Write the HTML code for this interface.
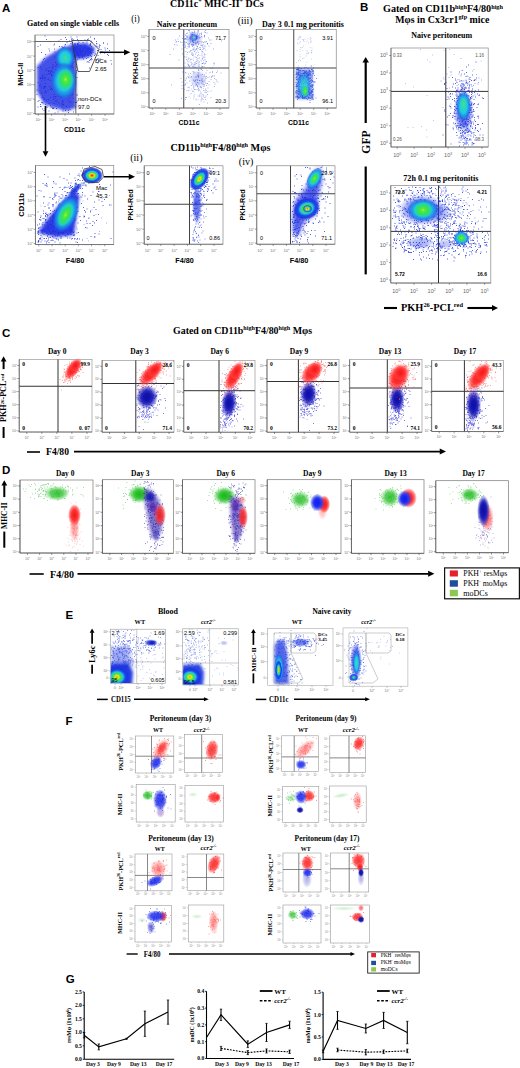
<!DOCTYPE html>
<html><head><meta charset="utf-8"><title>Figure</title>
<style>html,body{margin:0;padding:0;background:#fff;width:520px;height:1068px;overflow:hidden}svg{display:block}</style>
</head><body>
<svg width="520" height="1068" viewBox="0 0 520 1068">
<style>.sb,.sr,.sbi,.sri{font-family:'Liberation Serif',serif}.nb,.nr,.nbi,.nri{font-family:'Liberation Sans',sans-serif}.sb,.nb,.sbi,.nbi{font-weight:bold}.sbi,.sri,.nbi,.nri{font-style:italic}</style>
<defs><filter id="bl1" x="-50%" y="-50%" width="200%" height="200%"><feGaussianBlur stdDeviation="0.75"/></filter><filter id="bl2" x="-50%" y="-50%" width="200%" height="200%"><feGaussianBlur stdDeviation="1.5"/></filter><filter id="bl3" x="-50%" y="-50%" width="200%" height="200%"><feGaussianBlur stdDeviation="2.25"/></filter><filter id="bl4" x="-50%" y="-50%" width="200%" height="200%"><feGaussianBlur stdDeviation="3.0"/></filter><radialGradient id="g_red"><stop offset="0" stop-color="#e01808" stop-opacity="1"/><stop offset="0.1" stop-color="#ff6a10" stop-opacity="1"/><stop offset="0.22" stop-color="#f0e020" stop-opacity="1"/><stop offset="0.36" stop-color="#40e048" stop-opacity="1"/><stop offset="0.5" stop-color="#20c8e0" stop-opacity="1"/><stop offset="0.66" stop-color="#1a48e8" stop-opacity="1"/><stop offset="0.84" stop-color="#1a30e0" stop-opacity="0.8"/><stop offset="1" stop-color="#2a40e0" stop-opacity="0"/></radialGradient><radialGradient id="g_orange"><stop offset="0" stop-color="#ff9010" stop-opacity="1"/><stop offset="0.14" stop-color="#e0e820" stop-opacity="1"/><stop offset="0.3" stop-color="#40e048" stop-opacity="1"/><stop offset="0.46" stop-color="#20c8e0" stop-opacity="1"/><stop offset="0.64" stop-color="#1a48e8" stop-opacity="1"/><stop offset="0.84" stop-color="#1a30e0" stop-opacity="0.8"/><stop offset="1" stop-color="#2a40e0" stop-opacity="0"/></radialGradient><radialGradient id="g_yellow"><stop offset="0" stop-color="#c8f028" stop-opacity="1"/><stop offset="0.18" stop-color="#50e848" stop-opacity="1"/><stop offset="0.38" stop-color="#22cce0" stop-opacity="1"/><stop offset="0.6" stop-color="#1a48e8" stop-opacity="1"/><stop offset="0.82" stop-color="#1a30e0" stop-opacity="0.8"/><stop offset="1" stop-color="#2a40e0" stop-opacity="0"/></radialGradient><radialGradient id="g_green"><stop offset="0" stop-color="#38e040" stop-opacity="1"/><stop offset="0.22" stop-color="#22d0b0" stop-opacity="1"/><stop offset="0.45" stop-color="#1c70e8" stop-opacity="1"/><stop offset="0.7" stop-color="#1a34e0" stop-opacity="0.85"/><stop offset="1" stop-color="#2a40e0" stop-opacity="0"/></radialGradient><radialGradient id="g_cyan"><stop offset="0" stop-color="#20c8e8" stop-opacity="1"/><stop offset="0.3" stop-color="#1a80e8" stop-opacity="1"/><stop offset="0.6" stop-color="#1a38e0" stop-opacity="0.85"/><stop offset="1" stop-color="#2a40e0" stop-opacity="0"/></radialGradient><radialGradient id="g_blue"><stop offset="0" stop-color="#1a30e0" stop-opacity="0.95"/><stop offset="0.55" stop-color="#1a32e0" stop-opacity="0.8"/><stop offset="1" stop-color="#2a40e0" stop-opacity="0"/></radialGradient><radialGradient id="g_haze"><stop offset="0" stop-color="#2a48e0" stop-opacity="0.55"/><stop offset="0.6" stop-color="#4060e0" stop-opacity="0.3"/><stop offset="1" stop-color="#5070e8" stop-opacity="0"/></radialGradient><radialGradient id="g_R"><stop offset="0" stop-color="#f01818" stop-opacity="1"/><stop offset="0.5" stop-color="#ff2a2a" stop-opacity="0.95"/><stop offset="0.78" stop-color="#ff4040" stop-opacity="0.6"/><stop offset="1" stop-color="#ff6060" stop-opacity="0"/></radialGradient><radialGradient id="g_Rl"><stop offset="0" stop-color="#ff3030" stop-opacity="0.75"/><stop offset="0.5" stop-color="#ff4040" stop-opacity="0.55"/><stop offset="0.8" stop-color="#ff6060" stop-opacity="0.3"/><stop offset="1" stop-color="#ff8080" stop-opacity="0"/></radialGradient><radialGradient id="g_B"><stop offset="0" stop-color="#0c10a0" stop-opacity="1"/><stop offset="0.5" stop-color="#1414b0" stop-opacity="0.95"/><stop offset="0.78" stop-color="#2a2ac0" stop-opacity="0.55"/><stop offset="1" stop-color="#4040d0" stop-opacity="0"/></radialGradient><radialGradient id="g_Bl"><stop offset="0" stop-color="#2020c0" stop-opacity="0.8"/><stop offset="0.5" stop-color="#2828c8" stop-opacity="0.55"/><stop offset="0.8" stop-color="#4040d0" stop-opacity="0.3"/><stop offset="1" stop-color="#6060e0" stop-opacity="0"/></radialGradient><radialGradient id="g_G"><stop offset="0" stop-color="#18b818" stop-opacity="1"/><stop offset="0.5" stop-color="#30c030" stop-opacity="0.9"/><stop offset="0.78" stop-color="#50d050" stop-opacity="0.5"/><stop offset="1" stop-color="#70e070" stop-opacity="0"/></radialGradient><radialGradient id="g_Gl"><stop offset="0" stop-color="#50c850" stop-opacity="0.55"/><stop offset="0.5" stop-color="#60d060" stop-opacity="0.35"/><stop offset="1" stop-color="#90e090" stop-opacity="0"/></radialGradient><radialGradient id="g_Bv"><stop offset="0" stop-color="#1020e8" stop-opacity="1"/><stop offset="0.5" stop-color="#1828f0" stop-opacity="0.95"/><stop offset="0.78" stop-color="#3040f0" stop-opacity="0.55"/><stop offset="1" stop-color="#5060f0" stop-opacity="0"/></radialGradient><radialGradient id="g_cy2"><stop offset="0" stop-color="#30e0c0" stop-opacity="1"/><stop offset="0.5" stop-color="#20c8e0" stop-opacity="1"/><stop offset="0.8" stop-color="#1a80e8" stop-opacity="0.8"/><stop offset="1" stop-color="#1a50e8" stop-opacity="0"/></radialGradient><radialGradient id="g_gr2"><stop offset="0" stop-color="#b8f020" stop-opacity="1"/><stop offset="0.22" stop-color="#50e840" stop-opacity="1"/><stop offset="0.55" stop-color="#30e060" stop-opacity="1"/><stop offset="0.8" stop-color="#28d8a0" stop-opacity="0.7"/><stop offset="1" stop-color="#20c8e0" stop-opacity="0"/></radialGradient><radialGradient id="g_tl2"><stop offset="0" stop-color="#40e080" stop-opacity="1"/><stop offset="0.5" stop-color="#30d8b0" stop-opacity="0.9"/><stop offset="1" stop-color="#20c8e0" stop-opacity="0"/></radialGradient><radialGradient id="g_P"><stop offset="0" stop-color="#6018a0" stop-opacity="0.9"/><stop offset="0.5" stop-color="#5020b0" stop-opacity="0.8"/><stop offset="0.8" stop-color="#6030c0" stop-opacity="0.4"/><stop offset="1" stop-color="#8050d0" stop-opacity="0"/></radialGradient><clipPath id="c1"><rect x="110.9" y="629.7" width="54.2" height="53.3"/></clipPath><clipPath id="c2"><rect x="183.2" y="629.3" width="54.8" height="55.2"/></clipPath><clipPath id="c3"><rect x="268.2" y="629.0" width="64.3" height="56.1"/></clipPath><clipPath id="c4"><rect x="343.5" y="628.4" width="63.9" height="57.3"/></clipPath></defs>
<rect width="520" height="1068" fill="#fff"/>
<text x="2.0" y="11.5" font-size="11.5" class="nb">A</text>
<text x="73.0" y="26.0" font-size="7.5" class="sb" text-anchor="middle" textLength="92" lengthAdjust="spacingAndGlyphs">Gated on single viable cells</text>
<rect x="35.00" y="35.00" width="79.00" height="79.00" fill="none" stroke="#888" stroke-width="0.7"/>
<path d="M35.0,35.0V114.0H114.0M33.2,113.6h1.8M33.2,99.2h1.8M33.2,84.8h1.8M33.2,70.5h1.8M33.2,56.1h1.8M33.2,41.7h1.8M38.3,114.0v1.8M51.6,114.0v1.8M65.0,114.0v1.8M78.3,114.0v1.8M91.7,114.0v1.8M105.0,114.0v1.8" stroke="#555" stroke-width="0.6" fill="none"/>
<path d="M34.0,109.3h1M34.0,106.7h1M34.0,105.0h1M34.0,103.5h1M34.0,102.4h1M34.0,94.9h1M34.0,92.3h1M34.0,90.6h1M34.0,89.2h1M34.0,88.0h1M34.0,80.5h1M34.0,77.9h1M34.0,76.2h1M34.0,74.8h1M34.0,73.6h1M34.0,66.1h1M34.0,63.6h1M34.0,61.8h1M34.0,60.4h1M34.0,59.2h1M34.0,51.8h1M34.0,49.2h1M34.0,47.5h1M34.0,46.0h1M34.0,44.9h1M42.3,114.0v1M44.7,114.0v1M46.3,114.0v1M47.6,114.0v1M48.7,114.0v1M55.6,114.0v1M58.0,114.0v1M59.6,114.0v1M61.0,114.0v1M62.0,114.0v1M69.0,114.0v1M71.4,114.0v1M73.0,114.0v1M74.3,114.0v1M75.4,114.0v1M82.3,114.0v1M84.7,114.0v1M86.3,114.0v1M87.7,114.0v1M88.7,114.0v1M95.7,114.0v1M98.1,114.0v1M99.7,114.0v1M101.0,114.0v1M102.1,114.0v1" stroke="#999" stroke-width="0.4" fill="none"/>
<text x="32.6" y="115.0" font-size="4" class="nr" text-anchor="end" fill="#777">10<tspan dy="-1.52" font-size="2.48">0</tspan></text>
<text x="32.6" y="100.6" font-size="4" class="nr" text-anchor="end" fill="#777">10<tspan dy="-1.52" font-size="2.48">1</tspan></text>
<text x="32.6" y="86.2" font-size="4" class="nr" text-anchor="end" fill="#777">10<tspan dy="-1.52" font-size="2.48">2</tspan></text>
<text x="32.6" y="71.9" font-size="4" class="nr" text-anchor="end" fill="#777">10<tspan dy="-1.52" font-size="2.48">3</tspan></text>
<text x="32.6" y="57.5" font-size="4" class="nr" text-anchor="end" fill="#777">10<tspan dy="-1.52" font-size="2.48">4</tspan></text>
<text x="32.6" y="43.1" font-size="4" class="nr" text-anchor="end" fill="#777">10<tspan dy="-1.52" font-size="2.48">5</tspan></text>
<text x="38.3" y="121.3" font-size="4" class="nr" text-anchor="middle" fill="#777">10<tspan dy="-1.52" font-size="2.48">0</tspan></text>
<text x="51.6" y="121.3" font-size="4" class="nr" text-anchor="middle" fill="#777">10<tspan dy="-1.52" font-size="2.48">1</tspan></text>
<text x="65.0" y="121.3" font-size="4" class="nr" text-anchor="middle" fill="#777">10<tspan dy="-1.52" font-size="2.48">2</tspan></text>
<text x="78.3" y="121.3" font-size="4" class="nr" text-anchor="middle" fill="#777">10<tspan dy="-1.52" font-size="2.48">3</tspan></text>
<text x="91.7" y="121.3" font-size="4" class="nr" text-anchor="middle" fill="#777">10<tspan dy="-1.52" font-size="2.48">4</tspan></text>
<text x="105.0" y="121.3" font-size="4" class="nr" text-anchor="middle" fill="#777">10<tspan dy="-1.52" font-size="2.48">5</tspan></text>
<path d="M103 142h2M153 120h2M149 118h2M124 126h2M131 131h2M119 122h2M123 131h2M98 173h2M139 144h2M133 124h2M99 161h2M121 154h2M126 119h2M141 137h2M164 114h2M166 118h2M75 165h2M150 115h2M121 133h2M172 117h2M132 131h2M148 124h2M110 152h2M73 180h2M127 117h2M125 136h2M122 150h2M147 113h2M83 160h2M159 97h2M84 153h2M122 126h2M118 137h2M104 136h2M129 119h2M141 128h2M185 105h2M115 147h2M99 141h2M125 127h2M97 148h2M201 99h2M113 148h2M152 146h2M100 146h2M124 150h2M104 134h2M139 119h2M117 161h2M144 106h2M140 109h2M119 140h2M122 138h2M155 87h2M150 149h2M88 173h2M143 110h2M126 130h2M160 103h2M89 160h2M113 129h2M159 101h2M115 145h2M122 154h2M114 150h2M90 156h2M175 102h2M136 140h2M96 158h2M152 129h2M115 144h2M138 103h2M133 112h2M143 132h2M135 125h2M152 141h2M145 170h2M79 156h2M177 97h2M136 138h2M126 140h2M142 117h2M216 111h2M135 128h2M174 111h2M110 140h2M120 127h2M195 117h2M182 117h2M110 140h2M128 129h2M133 123h2M102 149h2M105 133h2M109 132h2M132 143h2M123 118h2M80 157h2M82 176h2M84 150h2M128 124h2M112 140h2M109 145h2M106 154h2M138 138h2M121 183h2M152 105h2M133 180h2M102 151h2M144 113h2M131 146h2M137 117h2M144 126h2M116 126h2M105 146h2M87 150h2M129 118h2M180 111h2M145 135h2M111 133h2M137 133h2M105 129h2M137 125h2M130 134h2M138 123h2M192 87h2M150 114h2" stroke="#2a3ee0" stroke-width="2" opacity="0.8" fill="none" transform="scale(.5)"/>
<path d="M83 186h2M132 176h2M141 133h2M104 179h2M153 190h2M81 186h2M125 218h2M126 162h2M141 163h2M80 209h2M80 213h2M107 194h2M104 217h2M90 173h2M75 93h2M113 165h2M119 128h2M127 113h2M106 194h2M131 173h2M79 181h2M140 180h2M102 143h2M83 156h2M117 206h2M87 175h2M92 184h2M113 200h2M100 195h2M106 217h2M122 132h2M83 205h2M135 200h2M131 179h2M133 159h2M101 214h2M75 203h2M119 174h2M150 154h2M112 179h2M140 179h2M124 201h2M90 109h2M100 144h2M125 210h2M88 117h2M120 194h2M88 198h2M109 175h2M149 151h2M107 216h2M107 189h2M84 192h2M92 79h2M111 193h2M84 218h2M108 150h2M144 110h2M88 174h2M144 179h2M129 152h2M89 176h2M89 72h2M125 222h2M117 193h2M141 204h2M144 169h2M114 168h2M103 137h2M83 205h2M113 183h2M97 222h2M131 177h2M137 178h2M138 139h2M147 204h2M115 224h2M120 174h2M116 167h2M124 186h2M139 168h2M132 79h2M90 209h2M93 212h2M120 178h2M87 199h2M135 171h2M146 111h2M93 149h2M89 217h2M119 162h2M109 197h2M153 202h2M106 199h2M139 219h2M113 128h2M84 124h2M130 89h2M107 158h2M135 150h2M85 155h2M117 148h2M105 215h2M89 154h2M87 173h2M144 120h2M129 182h2M138 196h2M124 204h2M147 167h2M146 147h2M129 176h2M80 134h2M109 226h2M122 208h2M104 151h2M143 190h2M108 151h2M97 207h2M137 126h2M125 192h2M105 162h2M83 195h2M81 213h2M92 200h2M115 148h2M90 182h2M80 90h2M146 224h2M75 214h2M123 214h2M136 221h2M113 204h2M100 179h2M148 166h2M127 157h2M124 149h2M128 156h2M79 168h2M126 209h2M121 79h2M152 205h2M115 167h2M126 162h2M83 138h2M97 147h2M73 189h2M86 177h2M135 100h2M89 183h2M95 180h2M130 221h2M138 214h2M102 177h2M106 163h2M123 98h2M101 176h2M78 172h2M132 176h2M123 93h2M133 170h2M154 79h2M138 204h2M119 153h2M139 162h2M125 158h2M112 217h2M81 172h2M132 191h2M99 83h2M136 225h2M97 142h2M152 144h2M95 141h2M128 147h2M89 186h2M115 165h2M130 150h2M75 135h2M111 182h2M130 190h2M91 141h2M124 208h2M109 171h2M145 188h2M132 213h2M95 159h2M92 137h2M107 207h2M85 196h2M85 157h2M97 135h2M150 205h2M86 195h2M132 174h2M126 155h2M93 215h2M139 110h2M122 127h2M121 128h2M110 202h2M110 193h2M107 90h2M113 143h2M80 156h2M134 127h2M138 178h2M118 175h2M103 214h2M120 138h2M141 156h2M86 119h2M108 88h2M88 157h2M115 190h2M96 199h2M122 185h2M108 114h2M109 104h2M150 214h2M126 204h2M117 190h2M82 105h2M98 147h2M122 195h2M120 148h2M87 221h2M138 190h2M85 206h2M152 134h2M146 197h2M90 167h2M125 167h2M127 156h2M136 185h2M153 190h2M100 211h2M110 125h2M108 98h2M96 143h2M77 201h2M126 170h2M120 174h2M112 217h2M153 155h2" stroke="#2a3ee0" stroke-width="2" opacity="0.8" fill="none" transform="scale(.5)"/>
<path d="M125 95h2M169 80h2M155 110h2M196 122h2M146 80h2M182 113h2M173 82h2M188 111h2M182 93h2M176 111h2M153 74h2M177 107h2M168 112h2M153 99h2M160 108h2M209 96h2M221 121h2M189 108h2M214 97h2M165 85h2M180 119h2M182 106h2M163 102h2M131 115h2M157 85h2M148 88h2M190 115h2M133 113h2M191 92h2M129 90h2M152 105h2M174 79h2M192 83h2M150 88h2M154 118h2M190 108h2M176 78h2M154 92h2M143 107h2M149 90h2M183 119h2M173 86h2M98 102h2M200 104h2M192 121h2M197 94h2M195 111h2M128 94h2M131 98h2M183 85h2M115 118h2M178 121h2M134 115h2M222 128h2M163 104h2M164 114h2M195 101h2M133 110h2M156 109h2M175 123h2M198 94h2M177 125h2M154 106h2M199 118h2M181 82h2M135 103h2M178 136h2M146 116h2M188 77h2M147 102h2M155 98h2M180 89h2M180 91h2M154 108h2M153 104h2M210 100h2M164 110h2M158 115h2M135 109h2M155 89h2M214 88h2M214 109h2M206 86h2M199 120h2M165 98h2M157 91h2M180 105h2M173 124h2M159 107h2M206 86h2M195 126h2M133 85h2M141 74h2M180 74h2M181 120h2M126 96h2M118 111h2M149 96h2M169 108h2M159 100h2M154 102h2M138 101h2M118 93h2M218 101h2M135 104h2M143 77h2M149 110h2M178 99h2M144 85h2M203 103h2M132 135h2M138 99h2M173 98h2M161 81h2M141 124h2M148 112h2M124 96h2M175 115h2M139 108h2M178 90h2M180 87h2M147 100h2M97 98h2M142 80h2M157 111h2M157 118h2M138 82h2M208 106h2M193 88h2M189 104h2M185 100h2M199 91h2M143 79h2M198 90h2M141 87h2M156 82h2M160 91h2M154 87h2M169 94h2M171 103h2M154 89h2M188 78h2M149 96h2M159 114h2M156 114h2M130 75h2M200 106h2M181 102h2M181 83h2M193 93h2M194 101h2M117 82h2M197 98h2M158 103h2M157 92h2" stroke="#2a3ee0" stroke-width="2" opacity="0.8" fill="none" transform="scale(.5)"/>
<path d="M37.0,66.0 L46.0,57.0 L58.0,50.0 L72.0,44.5 L76.0,46.0 L76.0,108.0 L66.0,111.0 L55.0,108.0 L44.0,104.0 L37.0,92.0 Z" fill="#1428e0" opacity="0.8" filter="url(#bl2)"/>
<path d="M72.0,44.0 L86.0,43.0 L95.0,48.0 L92.0,56.0 L82.0,59.0 L74.0,58.0 Z" fill="#1428e0" opacity="0.9" filter="url(#bl2)"/>
<ellipse cx="65.00" cy="58.00" rx="10.00" ry="12.00" fill="url(#g_cy2)"/>
<ellipse cx="64.00" cy="81.00" rx="13.50" ry="19.00" fill="url(#g_cy2)"/>
<ellipse cx="65.50" cy="58.00" rx="3.50" ry="4.50" fill="url(#g_tl2)"/>
<ellipse cx="65.50" cy="79.50" rx="8.50" ry="11.50" fill="url(#g_gr2)"/>
<line x1="35.00" y1="41.50" x2="72.00" y2="41.50" stroke="#444" stroke-width="0.8"/>
<path d="M72.00,40.50 L90.00,40.50 L99.00,49.50 L89.50,71.50 L78.00,71.50 L75.00,57.00 L72.00,40.50 Z" fill="none" stroke="#333" stroke-width="0.8"/>
<line x1="75.80" y1="59.00" x2="75.80" y2="113.50" stroke="#444" stroke-width="0.8"/>
<text x="95.0" y="62.5" font-size="6" class="nr">DCs</text>
<text x="95.0" y="71.0" font-size="6" class="nr">2.65</text>
<text x="78.0" y="101.0" font-size="6" class="nr">non-DCs</text>
<text x="78.0" y="109.0" font-size="6" class="nr">97.0</text>
<text x="23.2" y="74.3" font-size="7.5" class="nb" text-anchor="middle" textLength="23" lengthAdjust="spacingAndGlyphs" transform="rotate(-90 23.2 74.3)">MHC-II</text>
<text x="74.5" y="132.0" font-size="7.5" class="nb" text-anchor="middle" textLength="21" lengthAdjust="spacingAndGlyphs">CD11c</text>
<line x1="99.50" y1="52.30" x2="124.55" y2="52.30" stroke="#000" stroke-width="1.5"/>
<path d="M130.30,52.30 L124.05,55.18 L124.05,49.42 Z" fill="#000"/>
<line x1="45.50" y1="106.00" x2="45.50" y2="151.80" stroke="#000" stroke-width="1.6"/>
<path d="M45.50,156.80 L42.62,151.30 L48.38,151.30 Z" fill="#000"/>
<rect x="35.50" y="165.50" width="78.25" height="79.00" fill="none" stroke="#888" stroke-width="0.7"/>
<path d="M35.5,165.5V244.5H113.8M33.7,243.5h1.8M33.7,229.3h1.8M33.7,215.1h1.8M33.7,200.9h1.8M33.7,186.7h1.8M33.7,172.5h1.8M38.8,244.5v1.8M52.0,244.5v1.8M65.2,244.5v1.8M78.4,244.5v1.8M91.6,244.5v1.8M104.8,244.5v1.8" stroke="#555" stroke-width="0.6" fill="none"/>
<path d="M34.5,239.2h1M34.5,236.7h1M34.5,235.0h1M34.5,233.6h1M34.5,232.4h1M34.5,225.0h1M34.5,222.5h1M34.5,220.8h1M34.5,219.4h1M34.5,218.2h1M34.5,210.8h1M34.5,208.3h1M34.5,206.6h1M34.5,205.2h1M34.5,204.0h1M34.5,196.6h1M34.5,194.1h1M34.5,192.4h1M34.5,191.0h1M34.5,189.8h1M34.5,182.4h1M34.5,179.9h1M34.5,178.2h1M34.5,176.8h1M34.5,175.6h1M42.8,244.5v1M45.1,244.5v1M46.7,244.5v1M48.0,244.5v1M49.1,244.5v1M55.9,244.5v1M58.3,244.5v1M59.9,244.5v1M61.2,244.5v1M62.3,244.5v1M69.1,244.5v1M71.5,244.5v1M73.1,244.5v1M74.4,244.5v1M75.5,244.5v1M82.3,244.5v1M84.7,244.5v1M86.3,244.5v1M87.6,244.5v1M88.7,244.5v1M95.5,244.5v1M97.9,244.5v1M99.5,244.5v1M100.8,244.5v1M101.8,244.5v1" stroke="#999" stroke-width="0.4" fill="none"/>
<text x="33.1" y="244.9" font-size="4" class="nr" text-anchor="end" fill="#777">10<tspan dy="-1.52" font-size="2.48">0</tspan></text>
<text x="33.1" y="230.7" font-size="4" class="nr" text-anchor="end" fill="#777">10<tspan dy="-1.52" font-size="2.48">1</tspan></text>
<text x="33.1" y="216.5" font-size="4" class="nr" text-anchor="end" fill="#777">10<tspan dy="-1.52" font-size="2.48">2</tspan></text>
<text x="33.1" y="202.3" font-size="4" class="nr" text-anchor="end" fill="#777">10<tspan dy="-1.52" font-size="2.48">3</tspan></text>
<text x="33.1" y="188.1" font-size="4" class="nr" text-anchor="end" fill="#777">10<tspan dy="-1.52" font-size="2.48">4</tspan></text>
<text x="33.1" y="173.9" font-size="4" class="nr" text-anchor="end" fill="#777">10<tspan dy="-1.52" font-size="2.48">5</tspan></text>
<text x="38.8" y="251.8" font-size="4" class="nr" text-anchor="middle" fill="#777">10<tspan dy="-1.52" font-size="2.48">0</tspan></text>
<text x="52.0" y="251.8" font-size="4" class="nr" text-anchor="middle" fill="#777">10<tspan dy="-1.52" font-size="2.48">1</tspan></text>
<text x="65.2" y="251.8" font-size="4" class="nr" text-anchor="middle" fill="#777">10<tspan dy="-1.52" font-size="2.48">2</tspan></text>
<text x="78.4" y="251.8" font-size="4" class="nr" text-anchor="middle" fill="#777">10<tspan dy="-1.52" font-size="2.48">3</tspan></text>
<text x="91.6" y="251.8" font-size="4" class="nr" text-anchor="middle" fill="#777">10<tspan dy="-1.52" font-size="2.48">4</tspan></text>
<text x="104.8" y="251.8" font-size="4" class="nr" text-anchor="middle" fill="#777">10<tspan dy="-1.52" font-size="2.48">5</tspan></text>
<path d="M123 439h2M164 385h2M221 410h2M197 400h2M124 438h2M93 429h2M97 428h2M181 391h2M104 433h2M111 438h2M164 390h2M111 426h2M192 441h2M106 454h2M187 431h2M74 450h2M151 366h2M84 461h2M220 370h2M167 366h2M81 454h2M105 413h2M140 411h2M92 367h2M185 384h2M91 371h2M85 459h2M111 368h2M118 456h2M173 456h2M129 409h2M99 468h2M158 478h2M97 406h2M188 404h2M100 421h2M123 389h2M139 444h2M173 447h2M128 439h2M145 404h2M173 418h2M105 423h2M79 456h2M109 447h2M225 344h2M117 393h2M86 459h2M95 410h2M151 368h2M88 349h2M123 446h2M138 446h2M129 433h2M120 424h2M76 457h2M218 410h2M148 470h2M78 439h2M104 465h2M125 444h2M139 462h2M138 348h2M114 428h2M87 393h2M137 425h2M85 437h2M152 426h2M129 452h2M99 464h2M132 451h2M110 439h2M95 431h2M198 369h2M189 474h2M119 354h2M159 433h2M208 399h2M109 386h2M96 478h2M105 399h2M94 445h2M127 445h2M75 424h2M196 429h2M139 466h2M147 438h2M111 406h2M160 441h2M197 383h2M90 439h2M94 472h2M132 456h2M186 356h2M149 426h2M119 425h2M91 426h2M121 433h2M104 410h2M118 440h2M107 395h2M155 446h2M125 410h2M95 453h2M179 447h2M94 432h2M133 431h2M130 458h2M99 395h2M129 444h2M86 422h2M106 435h2M105 409h2M106 363h2M111 447h2M130 391h2M118 408h2M184 451h2M115 464h2M154 396h2M180 422h2M93 370h2M194 387h2M142 392h2M76 483h2M109 446h2M134 411h2M133 442h2M164 480h2M132 426h2M93 434h2M161 394h2M100 435h2M119 375h2M135 425h2M81 484h2M126 454h2M110 463h2M167 434h2M100 427h2M95 354h2M109 484h2M109 393h2M97 415h2M141 458h2M85 367h2M93 373h2M162 407h2M170 344h2M143 463h2M78 448h2M103 452h2M135 422h2M160 370h2M142 380h2M89 370h2M118 429h2M85 445h2M87 437h2M85 449h2M80 476h2M134 406h2M170 424h2M143 390h2M141 469h2M96 458h2M137 434h2M133 472h2M129 462h2M166 415h2M108 388h2M170 455h2M125 465h2M153 458h2M147 407h2M116 410h2M130 439h2M119 396h2M154 415h2M145 430h2M154 373h2M151 438h2M104 397h2M89 413h2M87 394h2M123 418h2M116 436h2M86 406h2M75 464h2M77 381h2M77 455h2M92 486h2M90 427h2M111 477h2M81 382h2M83 480h2M147 444h2M168 433h2M99 449h2M129 402h2M107 366h2M132 412h2M126 429h2M141 366h2M76 481h2M80 435h2M155 423h2M144 393h2M144 406h2M149 441h2M167 366h2M100 457h2M129 375h2M123 396h2M148 438h2M77 482h2M139 444h2M104 442h2M143 409h2M109 389h2M91 439h2M149 477h2M76 464h2M140 433h2M105 429h2M141 430h2M122 436h2M97 417h2M86 427h2M146 441h2M203 403h2M79 460h2M95 481h2M196 383h2M124 447h2M149 356h2M106 410h2M143 460h2M94 430h2M133 453h2M117 466h2M137 407h2M97 453h2M81 471h2M112 456h2M191 419h2M118 470h2M145 446h2M124 445h2M81 440h2M177 436h2M148 425h2M112 420h2M108 421h2M197 468h2M93 466h2M104 462h2M90 431h2M129 383h2M115 471h2M88 450h2M117 419h2M75 484h2M154 485h2M82 461h2M113 458h2M188 446h2M168 421h2M122 452h2M125 464h2M180 424h2M136 469h2M136 366h2M127 357h2M148 433h2M169 392h2M80 440h2M90 433h2M112 404h2M91 446h2M205 411h2M126 431h2M141 440h2M130 472h2M147 414h2M91 444h2M109 391h2M92 429h2M116 442h2M104 375h2M121 449h2M113 386h2M144 418h2M187 415h2M189 467h2M105 431h2M81 432h2M124 452h2M138 396h2M142 375h2M174 398h2M125 418h2M109 433h2M146 471h2M152 383h2M88 462h2M152 415h2M108 469h2M123 458h2M137 454h2M80 477h2M133 401h2M167 432h2M172 442h2M73 392h2M149 429h2M116 467h2" stroke="#2a3ee0" stroke-width="2" opacity="0.8" fill="none" transform="scale(.5)"/>
<path d="M168 360h2M171 372h2M144 382h2M149 388h2M148 382h2M155 370h2M182 341h2M182 352h2M174 347h2M173 360h2M143 385h2M149 374h2M171 344h2M111 391h2M140 376h2M156 375h2M185 343h2M156 359h2M171 370h2M164 336h2M178 366h2M157 348h2M150 381h2M154 360h2M142 394h2M137 404h2M154 373h2M125 392h2M155 351h2M131 394h2M165 368h2M144 377h2M144 373h2M112 423h2M157 369h2M142 385h2M151 372h2M161 342h2M150 361h2M156 387h2M132 391h2M147 388h2M124 379h2M159 361h2M153 384h2M134 385h2M157 372h2M149 387h2M175 345h2M152 368h2M133 375h2M153 387h2M170 350h2M138 377h2M142 404h2M164 361h2M137 374h2M180 354h2M141 395h2M136 395h2M133 386h2M163 366h2M165 349h2M188 352h2M155 375h2M137 385h2M129 396h2M164 377h2M174 360h2M144 377h2M147 379h2M123 411h2M121 397h2M149 368h2M181 342h2M187 351h2M146 383h2M173 347h2M150 367h2M151 369h2M160 377h2M177 348h2M161 374h2M140 371h2M166 347h2M163 350h2M178 333h2M176 366h2M144 398h2M127 376h2M169 364h2M133 360h2M149 371h2M144 377h2M117 400h2M193 350h2M141 374h2M165 371h2M158 352h2M156 370h2M185 354h2M169 370h2M154 388h2M147 382h2M163 350h2M129 374h2M155 369h2" stroke="#2a3ee0" stroke-width="2" opacity="0.8" fill="none" transform="scale(.5)"/>
<path d="M167 449h2M99 429h2M183 420h2M163 394h2M157 434h2M203 397h2M218 391h2M212 446h2M170 424h2M198 463h2M129 441h2M152 454h2M176 437h2M202 436h2M165 402h2M173 477h2M176 482h2M81 412h2M191 429h2M116 404h2" stroke="#2a3ee0" stroke-width="2" opacity="0.4" fill="none" transform="scale(.5)"/>
<path d="M79 479h2M123 449h2M156 465h2M97 458h2M75 464h2M134 476h2M101 481h2M87 477h2M181 473h2M107 476h2M89 482h2M93 457h2M134 468h2M147 464h2M122 476h2M142 478h2M126 466h2M100 475h2M116 480h2M92 464h2M78 477h2M84 466h2M90 441h2M87 469h2M130 449h2M88 477h2M119 486h2M141 460h2M124 468h2M76 462h2M84 462h2M139 476h2M154 477h2M76 484h2M75 467h2M94 472h2M146 465h2M114 472h2M92 477h2M112 478h2M102 467h2M116 460h2M98 463h2M84 452h2M106 462h2M116 439h2M104 473h2M106 461h2M129 471h2M101 467h2M121 473h2M144 477h2M76 469h2M135 468h2M115 478h2M93 445h2M105 474h2M105 463h2M147 470h2M76 464h2M114 459h2M151 484h2M153 479h2M148 478h2M153 466h2M105 481h2M97 485h2M103 480h2M103 455h2M121 465h2M101 450h2M93 483h2M117 466h2M185 443h2M97 475h2M188 474h2M120 476h2M93 467h2M83 448h2M110 472h2M96 469h2M83 474h2M221 477h2" stroke="#2a3ee0" stroke-width="2" opacity="0.8" fill="none" transform="scale(.5)"/>
<path d="M38.0,233.0 L46.0,221.0 L58.0,206.0 L68.0,196.0 L75.0,191.5 L79.5,196.0 L77.0,212.0 L74.0,235.0 L56.0,237.0 Z" fill="#1428e0" opacity="0.9" filter="url(#bl2)"/>
<ellipse cx="75.00" cy="190.00" rx="10.00" ry="3.50" fill="url(#g_blue)" transform="rotate(-45 75.00 190.00)"/>
<ellipse cx="66.00" cy="214.00" rx="11.50" ry="20.00" fill="url(#g_cy2)" transform="rotate(25 66.00 214.00)"/>
<ellipse cx="65.50" cy="215.00" rx="6.50" ry="13.00" fill="url(#g_gr2)" transform="rotate(25 65.50 215.00)"/>
<ellipse cx="92.00" cy="175.50" rx="11.00" ry="8.50" fill="url(#g_red)"/>
<path d="M84.00,169.00 L95.00,166.50 L102.00,169.50 L103.50,177.00 L98.50,182.50 L86.00,182.00 L82.00,176.00 Z" fill="none" stroke="#222" stroke-width="0.7"/>
<text x="96.0" y="190.0" font-size="6" class="nr">Mac</text>
<text x="96.0" y="198.0" font-size="6" class="nr">45.3</text>
<text x="23.5" y="205.0" font-size="7.5" class="nb" text-anchor="middle" textLength="23.5" lengthAdjust="spacingAndGlyphs" transform="rotate(-90 23.5 205.0)">CD11b</text>
<text x="75.0" y="263.0" font-size="7.5" class="nb" text-anchor="middle" textLength="18.5" lengthAdjust="spacingAndGlyphs">F4/80</text>
<line x1="104.00" y1="176.75" x2="129.25" y2="176.75" stroke="#000" stroke-width="1.5"/>
<path d="M135.00,176.75 L128.75,179.63 L128.75,173.87 Z" fill="#000"/>
<text x="170.1" y="7.0" font-size="9.8" class="sb" textLength="93.6" lengthAdjust="spacingAndGlyphs">CD11c<tspan dy="-3.72" font-size="6.08">+</tspan><tspan dy="3.72"> MHC-II</tspan><tspan dy="-3.72" font-size="6.08">+</tspan><tspan dy="3.72"> DCs</tspan></text>
<text x="170.4" y="150.7" font-size="9.5" class="sb" textLength="100" lengthAdjust="spacingAndGlyphs">CD11b<tspan dy="-3.61" font-size="5.89">high</tspan><tspan dy="3.61">F4/80</tspan><tspan dy="-3.61" font-size="5.89">high</tspan><tspan dy="3.61"> Mφs</tspan></text>
<text x="131.3" y="22.3" font-size="10" class="sr" textLength="8.5" lengthAdjust="spacingAndGlyphs">(i)</text>
<text x="186.9" y="26.5" font-size="7.5" class="sb" text-anchor="middle" textLength="60.3" lengthAdjust="spacingAndGlyphs">Naive peritoneum</text>
<rect x="149.00" y="29.50" width="80.00" height="78.50" fill="none" stroke="#888" stroke-width="0.7"/>
<line x1="183.75" y1="29.50" x2="183.75" y2="108.00" stroke="#444" stroke-width="1"/>
<line x1="149.00" y1="68.00" x2="229.00" y2="68.00" stroke="#444" stroke-width="1"/>
<path d="M149.0,29.5V108.0H229.0M147.2,107.0h1.8M147.2,92.9h1.8M147.2,78.8h1.8M147.2,64.7h1.8M147.2,50.6h1.8M147.2,36.5h1.8M152.3,108.0v1.8M165.8,108.0v1.8M179.4,108.0v1.8M192.9,108.0v1.8M206.5,108.0v1.8M220.0,108.0v1.8" stroke="#555" stroke-width="0.6" fill="none"/>
<path d="M148.0,102.8h1M148.0,100.2h1M148.0,98.5h1M148.0,97.1h1M148.0,96.0h1M148.0,88.7h1M148.0,86.1h1M148.0,84.4h1M148.0,83.0h1M148.0,81.9h1M148.0,74.6h1M148.0,72.0h1M148.0,70.3h1M148.0,68.9h1M148.0,67.8h1M148.0,60.5h1M148.0,57.9h1M148.0,56.2h1M148.0,54.8h1M148.0,53.7h1M148.0,46.4h1M148.0,43.8h1M148.0,42.1h1M148.0,40.7h1M148.0,39.6h1M156.4,108.0v1M158.8,108.0v1M160.4,108.0v1M161.8,108.0v1M162.9,108.0v1M169.9,108.0v1M172.3,108.0v1M174.0,108.0v1M175.3,108.0v1M176.4,108.0v1M183.4,108.0v1M185.9,108.0v1M187.5,108.0v1M188.9,108.0v1M189.9,108.0v1M197.0,108.0v1M199.4,108.0v1M201.0,108.0v1M202.4,108.0v1M203.5,108.0v1M210.5,108.0v1M213.0,108.0v1M214.6,108.0v1M215.9,108.0v1M217.0,108.0v1" stroke="#999" stroke-width="0.4" fill="none"/>
<text x="146.6" y="108.4" font-size="4" class="nr" text-anchor="end" fill="#777">10<tspan dy="-1.52" font-size="2.48">0</tspan></text>
<text x="146.6" y="94.3" font-size="4" class="nr" text-anchor="end" fill="#777">10<tspan dy="-1.52" font-size="2.48">1</tspan></text>
<text x="146.6" y="80.2" font-size="4" class="nr" text-anchor="end" fill="#777">10<tspan dy="-1.52" font-size="2.48">2</tspan></text>
<text x="146.6" y="66.1" font-size="4" class="nr" text-anchor="end" fill="#777">10<tspan dy="-1.52" font-size="2.48">3</tspan></text>
<text x="146.6" y="52.0" font-size="4" class="nr" text-anchor="end" fill="#777">10<tspan dy="-1.52" font-size="2.48">4</tspan></text>
<text x="146.6" y="37.9" font-size="4" class="nr" text-anchor="end" fill="#777">10<tspan dy="-1.52" font-size="2.48">5</tspan></text>
<text x="152.3" y="115.3" font-size="4" class="nr" text-anchor="middle" fill="#777">10<tspan dy="-1.52" font-size="2.48">0</tspan></text>
<text x="165.8" y="115.3" font-size="4" class="nr" text-anchor="middle" fill="#777">10<tspan dy="-1.52" font-size="2.48">1</tspan></text>
<text x="179.4" y="115.3" font-size="4" class="nr" text-anchor="middle" fill="#777">10<tspan dy="-1.52" font-size="2.48">2</tspan></text>
<text x="192.9" y="115.3" font-size="4" class="nr" text-anchor="middle" fill="#777">10<tspan dy="-1.52" font-size="2.48">3</tspan></text>
<text x="206.5" y="115.3" font-size="4" class="nr" text-anchor="middle" fill="#777">10<tspan dy="-1.52" font-size="2.48">4</tspan></text>
<text x="220.0" y="115.3" font-size="4" class="nr" text-anchor="middle" fill="#777">10<tspan dy="-1.52" font-size="2.48">5</tspan></text>
<path d="M403 91h2M401 91h2M400 99h2M406 98h2M379 80h2M375 93h2M403 74h2M398 116h2M410 65h2M386 89h2M387 85h2M409 84h2M369 90h2M386 82h2M378 61h2M366 75h2M408 64h2M375 87h2M346 98h2M375 89h2M380 84h2M390 80h2M387 99h2M378 87h2M391 87h2M393 78h2M383 68h2M374 66h2M369 114h2M418 80h2M401 67h2M390 100h2M387 66h2M384 66h2M364 77h2M381 69h2M372 67h2M392 99h2M384 111h2M360 84h2M368 78h2M390 88h2M408 72h2M366 77h2M393 70h2M404 103h2M363 85h2M392 77h2M363 98h2M392 73h2M396 89h2M401 88h2M395 64h2M381 82h2M339 109h2M381 66h2M356 83h2M389 72h2M381 68h2M375 79h2M377 89h2M385 82h2M395 97h2M399 83h2M385 69h2M382 89h2M392 75h2M394 94h2M395 61h2M384 83h2M372 85h2M384 69h2M366 91h2M394 68h2M370 92h2M398 76h2M416 76h2M369 95h2M385 85h2M389 66h2M367 77h2M413 66h2M412 83h2M369 84h2M398 68h2M351 85h2M369 86h2M355 78h2M384 82h2M378 64h2M397 87h2M417 92h2M394 84h2M388 62h2M414 87h2M383 64h2M414 87h2M367 89h2M421 80h2M395 74h2M377 95h2M442 82h2M386 91h2M383 90h2M402 66h2M369 79h2M403 84h2M410 61h2M397 72h2M390 84h2M371 77h2M368 84h2M373 73h2M392 71h2M408 71h2M403 84h2M370 77h2M373 75h2M383 105h2M381 101h2M396 62h2M348 89h2M353 90h2M406 85h2M384 77h2M393 76h2M379 75h2M408 72h2M395 64h2M376 61h2M385 89h2M393 73h2M399 75h2M394 84h2M365 90h2M386 110h2M384 73h2M414 88h2M421 87h2M384 90h2M374 74h2M378 77h2M402 73h2M394 73h2M384 82h2M369 94h2M392 97h2M405 89h2M385 65h2M384 74h2M392 74h2M408 74h2M384 93h2M388 64h2M395 77h2M352 83h2M370 70h2M396 84h2M383 109h2M395 72h2M392 78h2M364 108h2M385 76h2M378 93h2M388 103h2M402 102h2M386 85h2M380 78h2M358 72h2M371 71h2M409 84h2M409 92h2M404 94h2M377 91h2M382 73h2M409 109h2M371 103h2M402 69h2M393 85h2M395 75h2M366 80h2M403 91h2M399 95h2M371 79h2M394 93h2M391 87h2M390 108h2M350 80h2" stroke="#5068e0" stroke-width="2" opacity="0.55" fill="none" transform="scale(.5)"/>
<path d="M373 134h2M391 127h2M394 122h2M381 125h2M378 104h2M373 109h2M392 105h2M406 96h2M394 102h2M395 126h2M399 95h2M381 118h2M409 94h2M395 122h2M403 107h2M403 112h2M407 92h2M408 110h2M387 96h2M381 124h2M398 99h2M385 98h2M380 102h2M385 135h2M410 127h2M390 114h2M402 132h2M401 120h2M380 120h2M404 127h2M376 124h2M385 99h2M409 122h2M400 98h2M403 133h2M406 125h2M404 127h2M394 111h2M403 127h2M405 105h2M409 115h2M408 97h2M409 127h2M382 129h2M381 101h2M389 102h2M391 132h2M398 123h2M387 126h2M402 122h2M408 128h2M387 96h2M397 129h2M385 118h2M404 127h2M372 114h2M373 97h2M403 110h2M395 112h2M385 101h2M385 129h2M396 105h2M375 104h2M399 111h2M397 128h2M377 122h2M374 128h2M379 104h2M408 108h2M381 131h2M395 131h2M387 114h2M408 114h2M410 100h2M404 99h2M392 92h2M379 134h2M389 128h2M382 108h2M376 116h2M405 115h2M386 133h2M406 121h2M375 119h2M389 134h2M386 121h2M396 109h2M392 122h2M406 114h2M386 135h2" stroke="#7080e0" stroke-width="2" opacity="0.45" fill="none" transform="scale(.5)"/>
<path d="M428 173h2M387 132h2M368 170h2M419 136h2M396 152h2M392 169h2M432 145h2M411 181h2M391 155h2M373 181h2M387 144h2M397 140h2M378 152h2M422 154h2M405 127h2M362 197h2M389 125h2M394 171h2M366 139h2M401 138h2M410 178h2M404 149h2M395 145h2M394 165h2M391 179h2M441 146h2M402 175h2M407 153h2M388 179h2M407 169h2M382 171h2M410 154h2M407 204h2M363 171h2M376 129h2M392 170h2M397 133h2M371 146h2M396 140h2M370 195h2M381 155h2M386 146h2M397 152h2M407 133h2M370 199h2M395 174h2M417 170h2M397 125h2M368 179h2M408 170h2M367 113h2M378 133h2M399 136h2M424 145h2M386 176h2M402 139h2M410 199h2M375 153h2M377 117h2M407 173h2M413 167h2M361 157h2M384 133h2M377 174h2M391 200h2M404 117h2M412 185h2M397 132h2M427 130h2M395 117h2M374 122h2M415 183h2M389 129h2M395 166h2M369 133h2M394 173h2M397 168h2M374 105h2M401 138h2M394 150h2M404 141h2M421 159h2M405 172h2M414 167h2M365 144h2M429 168h2M406 168h2M385 143h2M385 183h2M402 196h2M405 199h2M404 133h2M427 165h2M417 163h2M390 162h2M376 132h2M380 147h2M372 156h2M401 202h2M428 157h2M412 153h2M403 157h2M386 160h2M370 168h2M391 135h2M390 170h2M384 168h2M406 192h2M377 156h2M405 190h2M401 174h2M370 145h2M425 152h2M434 142h2M391 123h2M407 164h2M432 162h2M392 127h2M395 179h2M409 185h2M411 157h2M407 162h2M372 195h2M403 135h2M403 164h2M414 189h2M342 170h2M423 137h2M363 164h2M402 166h2M376 148h2M399 174h2M435 164h2M385 107h2M415 155h2M394 136h2M409 119h2M398 161h2M401 186h2M394 160h2M411 124h2M391 159h2M413 141h2M410 166h2M369 126h2M370 161h2M400 174h2M411 146h2M415 176h2M404 168h2M373 166h2M378 132h2M390 161h2M395 151h2M378 162h2M383 127h2M398 190h2M389 135h2M421 195h2M391 153h2M398 180h2M404 118h2M376 131h2M404 160h2M428 152h2M402 160h2M398 209h2M401 190h2M419 145h2M408 150h2M398 161h2M396 148h2M424 152h2M409 195h2M407 181h2M421 182h2M427 127h2M431 159h2M365 144h2M371 158h2M369 136h2M401 161h2M382 153h2M394 160h2M396 153h2M412 123h2M387 161h2M389 146h2M388 163h2M418 154h2M391 166h2M392 115h2M401 150h2M386 172h2M397 146h2M357 120h2M396 155h2M404 163h2M387 130h2M376 155h2M375 175h2M372 119h2M393 119h2M425 136h2M395 153h2M381 119h2M363 177h2M414 206h2M370 170h2M396 177h2M387 174h2M412 171h2M422 154h2M424 143h2M426 98h2M396 140h2M396 181h2M409 160h2M427 126h2" stroke="#5068e0" stroke-width="2" opacity="0.5" fill="none" transform="scale(.5)"/>
<path d="M388 194h2M404 197h2M405 189h2M380 196h2M387 191h2M389 189h2M411 180h2M395 192h2M395 199h2M391 198h2M401 199h2M379 181h2M386 198h2M376 182h2M402 200h2M382 187h2M401 193h2M403 194h2M385 182h2M377 193h2M384 182h2M411 191h2M397 192h2M398 193h2M387 178h2M378 176h2M389 179h2M380 188h2M411 193h2M386 194h2M382 178h2M387 186h2M401 187h2M402 178h2M410 184h2M406 177h2M406 181h2M407 195h2M400 183h2M376 181h2" stroke="#8090e0" stroke-width="2" opacity="0.4" fill="none" transform="scale(.5)"/>
<ellipse cx="194.00" cy="39.00" rx="9.00" ry="8.00" fill="url(#g_blue)" opacity="0.35"/>
<ellipse cx="193.60" cy="37.50" rx="4.50" ry="4.00" fill="url(#g_green)" opacity="0.6"/>
<ellipse cx="198.00" cy="79.00" rx="9.00" ry="9.00" fill="url(#g_blue)" opacity="0.25"/>
<text x="152.5" y="39.5" font-size="5.5" class="nr">0</text>
<text x="226.0" y="39.5" font-size="5.5" class="nr" text-anchor="end">71.7</text>
<text x="152.5" y="102.5" font-size="5.5" class="nr">0</text>
<text x="226.0" y="102.5" font-size="5.5" class="nr" text-anchor="end">20.3</text>
<text x="137.6" y="68.5" font-size="7.8" class="nb" text-anchor="middle" textLength="31.2" lengthAdjust="spacingAndGlyphs" transform="rotate(-90 137.6 68.5)">PKH-Red</text>
<text x="189.0" y="125.0" font-size="7.5" class="nb" text-anchor="middle" textLength="21" lengthAdjust="spacingAndGlyphs">CD11c</text>
<text x="237.7" y="23.6" font-size="10" class="sr" textLength="15" lengthAdjust="spacingAndGlyphs">(iii)</text>
<text x="262.0" y="26.5" font-size="7.5" class="sb" textLength="82" lengthAdjust="spacingAndGlyphs">Day 3  0.1 mg peritonitis</text>
<rect x="256.25" y="29.50" width="80.00" height="78.50" fill="none" stroke="#888" stroke-width="0.7"/>
<line x1="293.75" y1="29.50" x2="293.75" y2="108.00" stroke="#444" stroke-width="1"/>
<line x1="256.25" y1="68.00" x2="336.25" y2="68.00" stroke="#444" stroke-width="1"/>
<path d="M256.2,29.5V108.0H336.2M254.4,107.0h1.8M254.4,92.9h1.8M254.4,78.8h1.8M254.4,64.7h1.8M254.4,50.6h1.8M254.4,36.5h1.8M259.6,108.0v1.8M273.1,108.0v1.8M286.6,108.0v1.8M300.2,108.0v1.8M313.7,108.0v1.8M327.2,108.0v1.8" stroke="#555" stroke-width="0.6" fill="none"/>
<path d="M255.2,102.8h1M255.2,100.2h1M255.2,98.5h1M255.2,97.1h1M255.2,96.0h1M255.2,88.7h1M255.2,86.1h1M255.2,84.4h1M255.2,83.0h1M255.2,81.9h1M255.2,74.6h1M255.2,72.0h1M255.2,70.3h1M255.2,68.9h1M255.2,67.8h1M255.2,60.5h1M255.2,57.9h1M255.2,56.2h1M255.2,54.8h1M255.2,53.7h1M255.2,46.4h1M255.2,43.8h1M255.2,42.1h1M255.2,40.7h1M255.2,39.6h1M263.6,108.0v1M266.0,108.0v1M267.7,108.0v1M269.0,108.0v1M270.1,108.0v1M277.2,108.0v1M279.6,108.0v1M281.2,108.0v1M282.6,108.0v1M283.7,108.0v1M290.7,108.0v1M293.1,108.0v1M294.8,108.0v1M296.1,108.0v1M297.2,108.0v1M304.2,108.0v1M306.7,108.0v1M308.3,108.0v1M309.6,108.0v1M310.7,108.0v1M317.8,108.0v1M320.2,108.0v1M321.8,108.0v1M323.2,108.0v1M324.3,108.0v1" stroke="#999" stroke-width="0.4" fill="none"/>
<text x="253.8" y="108.4" font-size="4" class="nr" text-anchor="end" fill="#777">10<tspan dy="-1.52" font-size="2.48">0</tspan></text>
<text x="253.8" y="94.3" font-size="4" class="nr" text-anchor="end" fill="#777">10<tspan dy="-1.52" font-size="2.48">1</tspan></text>
<text x="253.8" y="80.2" font-size="4" class="nr" text-anchor="end" fill="#777">10<tspan dy="-1.52" font-size="2.48">2</tspan></text>
<text x="253.8" y="66.1" font-size="4" class="nr" text-anchor="end" fill="#777">10<tspan dy="-1.52" font-size="2.48">3</tspan></text>
<text x="253.8" y="52.0" font-size="4" class="nr" text-anchor="end" fill="#777">10<tspan dy="-1.52" font-size="2.48">4</tspan></text>
<text x="253.8" y="37.9" font-size="4" class="nr" text-anchor="end" fill="#777">10<tspan dy="-1.52" font-size="2.48">5</tspan></text>
<text x="259.6" y="115.3" font-size="4" class="nr" text-anchor="middle" fill="#777">10<tspan dy="-1.52" font-size="2.48">0</tspan></text>
<text x="273.1" y="115.3" font-size="4" class="nr" text-anchor="middle" fill="#777">10<tspan dy="-1.52" font-size="2.48">1</tspan></text>
<text x="286.6" y="115.3" font-size="4" class="nr" text-anchor="middle" fill="#777">10<tspan dy="-1.52" font-size="2.48">2</tspan></text>
<text x="300.2" y="115.3" font-size="4" class="nr" text-anchor="middle" fill="#777">10<tspan dy="-1.52" font-size="2.48">3</tspan></text>
<text x="313.7" y="115.3" font-size="4" class="nr" text-anchor="middle" fill="#777">10<tspan dy="-1.52" font-size="2.48">4</tspan></text>
<text x="327.2" y="115.3" font-size="4" class="nr" text-anchor="middle" fill="#777">10<tspan dy="-1.52" font-size="2.48">5</tspan></text>
<path d="M621 82h2M613 108h2M613 83h2M597 78h2M623 96h2M613 107h2M599 76h2M592 125h2M596 132h2M604 117h2M596 121h2M600 95h2M609 79h2M600 121h2M601 96h2M616 86h2M598 86h2M604 95h2M613 101h2M620 75h2M613 124h2M600 74h2M606 79h2M607 116h2M595 79h2M607 83h2M599 99h2M596 76h2M604 101h2M622 106h2M594 86h2M616 107h2M620 132h2M619 79h2M622 105h2M600 83h2M620 85h2M595 88h2M622 101h2M615 77h2M606 92h2M599 113h2M604 79h2M623 102h2M598 73h2M613 104h2M593 101h2M616 105h2M599 103h2M611 112h2M597 122h2M622 118h2M619 95h2M621 83h2M599 109h2M621 77h2M599 74h2M606 81h2M598 118h2M611 130h2" stroke="#8090e0" stroke-width="2" opacity="0.4" fill="none" transform="scale(.5)"/>
<path d="M605 178h2M591 195h2M599 165h2M609 195h2M608 197h2M613 149h2M620 148h2M626 164h2M599 196h2M602 161h2M603 177h2M592 159h2M597 187h2M591 173h2M600 164h2M611 180h2M596 150h2M595 195h2M596 144h2M609 172h2M622 139h2M599 146h2M611 164h2M605 191h2M614 189h2M624 152h2M624 161h2M593 193h2M595 136h2M601 153h2M625 190h2M606 168h2M621 186h2M614 167h2M595 150h2M614 172h2M619 192h2M625 147h2M594 192h2M611 146h2M615 151h2M599 158h2M609 178h2M594 182h2M613 165h2M615 185h2M591 165h2M615 180h2M614 146h2M625 184h2M599 162h2M625 148h2M605 196h2M623 150h2M617 158h2M614 183h2M595 149h2M599 152h2M592 144h2M605 162h2M594 172h2M624 171h2M603 179h2M606 146h2M608 136h2M615 145h2M604 196h2M618 188h2M613 175h2M616 196h2M598 183h2M602 151h2M620 173h2M621 190h2M612 147h2M592 169h2M616 152h2M593 135h2M597 179h2M591 149h2M600 180h2M626 136h2M595 194h2M625 144h2M603 168h2M602 161h2M608 151h2M593 140h2M597 141h2M613 179h2M600 185h2M617 157h2M608 147h2M624 170h2M593 145h2M615 159h2M616 149h2M619 186h2M594 172h2M598 180h2M619 185h2M599 141h2M614 171h2M596 147h2M611 142h2M613 150h2M600 162h2M610 181h2M592 181h2M599 153h2M613 179h2M613 192h2M598 155h2M614 151h2M597 149h2M618 187h2M616 195h2M619 155h2M602 180h2M593 173h2M594 138h2M609 145h2M624 190h2M607 147h2M595 167h2M609 158h2M616 168h2M618 142h2M593 159h2M608 151h2M614 149h2M602 165h2M616 184h2M604 163h2M623 194h2M613 142h2M607 175h2M601 137h2M625 192h2M596 164h2M613 154h2M593 182h2M618 163h2M594 160h2M594 196h2M593 153h2M618 144h2M595 139h2M597 169h2M620 146h2M597 183h2M606 156h2M595 150h2M625 142h2M600 182h2M622 192h2M608 195h2M612 153h2M607 180h2M617 143h2M598 195h2M595 186h2M603 151h2M600 165h2M626 144h2M621 155h2M597 182h2M603 147h2M606 187h2M621 171h2M591 183h2M612 192h2M624 156h2M621 187h2M600 158h2M604 157h2M604 142h2M599 192h2M605 175h2M622 183h2M600 193h2M619 197h2M616 183h2M619 151h2M614 159h2M620 143h2M610 156h2M620 157h2M621 188h2M622 144h2M624 182h2M615 176h2M593 190h2M610 164h2M603 184h2M618 190h2M598 156h2M600 141h2M602 137h2M619 149h2M593 139h2M617 148h2M607 160h2M619 195h2M602 175h2M622 165h2M622 181h2M602 190h2M611 142h2M612 187h2M609 165h2M606 190h2M614 148h2M604 158h2M625 179h2M595 193h2M592 172h2M606 180h2M606 141h2M609 187h2M619 157h2M599 182h2M619 149h2M622 198h2M606 159h2M616 194h2M598 154h2M603 181h2M598 169h2M609 177h2M596 195h2M626 170h2M619 147h2M623 170h2M618 190h2M604 193h2M598 136h2M609 192h2M623 195h2M609 194h2M611 144h2M613 186h2M606 173h2M600 152h2M606 167h2M607 141h2M591 156h2M616 182h2M599 151h2M609 146h2M612 192h2M598 172h2M616 182h2M616 180h2M601 188h2M623 138h2M624 163h2M594 139h2M619 178h2M596 164h2M613 198h2M603 183h2M600 148h2M597 161h2M613 154h2M597 149h2M594 147h2M602 167h2M597 165h2M606 196h2M608 195h2M607 147h2M612 144h2M597 140h2M616 196h2M605 157h2M606 157h2M615 160h2M596 189h2M611 135h2M621 181h2M603 175h2M623 160h2M606 154h2M610 177h2M617 195h2M596 158h2M621 185h2M612 178h2M603 195h2M610 160h2M597 142h2M622 185h2M592 155h2M608 166h2M604 191h2M603 169h2M624 175h2M608 156h2M605 173h2M619 151h2M604 159h2M604 193h2M610 152h2M603 187h2M597 178h2M592 147h2M593 186h2M596 149h2M593 152h2M617 180h2M623 195h2M610 193h2M594 193h2M606 147h2M617 189h2M605 141h2M622 182h2M612 197h2M592 139h2M595 136h2M616 175h2M595 145h2M597 173h2M615 196h2M604 197h2M606 160h2M600 150h2M625 198h2M616 146h2M597 145h2M603 181h2M593 168h2M615 137h2M606 185h2M611 163h2M622 173h2M603 160h2M624 189h2M623 170h2M596 146h2M604 179h2M591 186h2M619 167h2M591 185h2M605 177h2M611 181h2M605 195h2M624 194h2M613 155h2M604 152h2M623 185h2M619 187h2M626 178h2M602 183h2M600 173h2M597 189h2M608 152h2M623 140h2M624 183h2M596 183h2M611 192h2M612 162h2M624 140h2M618 141h2M601 142h2M621 163h2M616 151h2M617 176h2M594 166h2M616 149h2M614 153h2M604 193h2M624 198h2M606 171h2M619 183h2M607 189h2M605 195h2M608 142h2M617 144h2" stroke="#3050e0" stroke-width="2" opacity="0.7" fill="none" transform="scale(.5)"/>
<path d="M606 157h2M625 163h2M608 150h2M599 144h2M624 173h2M631 196h2M611 161h2M593 173h2M611 181h2M611 152h2M614 199h2M604 181h2M622 152h2M610 144h2M616 155h2M624 143h2M632 157h2M596 139h2M617 140h2M608 144h2M619 205h2M595 156h2M612 180h2M592 172h2M607 195h2M601 156h2M618 147h2M620 197h2M622 160h2M596 158h2M617 170h2M616 183h2M596 138h2M628 151h2M596 138h2M622 132h2M596 197h2M610 168h2M599 159h2M601 165h2M629 164h2M608 164h2M622 176h2M620 161h2M606 164h2M617 168h2M596 163h2M622 160h2M606 155h2M626 198h2M607 183h2M594 199h2M628 164h2M603 151h2M608 183h2M612 180h2M617 196h2M592 149h2M593 186h2M613 167h2M599 176h2M608 144h2M613 146h2M621 185h2M598 184h2M609 145h2M592 176h2M625 147h2M610 176h2M619 179h2M625 189h2M597 178h2M608 183h2M604 191h2M626 141h2M600 174h2M615 170h2M619 201h2M624 179h2M605 178h2M600 165h2M601 138h2M605 155h2M609 165h2M610 196h2M610 178h2M602 186h2M603 147h2M591 193h2M601 173h2M624 182h2" stroke="#3050e0" stroke-width="2" opacity="0.6" fill="none" transform="scale(.5)"/>
<path d="M296.0,69.0 L312.0,69.0 L313.0,99.0 L296.0,99.0 Z" fill="#2a50e0" opacity="0.5" filter="url(#bl2)"/>
<ellipse cx="304.00" cy="86.00" rx="7.00" ry="14.00" fill="url(#g_cy2)" opacity="0.75"/>
<ellipse cx="305.20" cy="91.00" rx="3.50" ry="6.00" fill="url(#g_gr2)" opacity="0.9"/>
<text x="259.5" y="39.5" font-size="5.5" class="nr">0</text>
<text x="333.0" y="39.5" font-size="5.5" class="nr" text-anchor="end">3.91</text>
<text x="259.5" y="102.5" font-size="5.5" class="nr">0</text>
<text x="333.0" y="102.5" font-size="5.5" class="nr" text-anchor="end">96.1</text>
<text x="245.1" y="68.2" font-size="7.8" class="nb" text-anchor="middle" textLength="31.2" lengthAdjust="spacingAndGlyphs" transform="rotate(-90 245.1 68.2)">PKH-Red</text>
<text x="298.5" y="125.0" font-size="7.5" class="nb" text-anchor="middle" textLength="21" lengthAdjust="spacingAndGlyphs">CD11c</text>
<text x="130.2" y="161.2" font-size="10" class="sr" textLength="12.3" lengthAdjust="spacingAndGlyphs">(ii)</text>
<rect x="144.25" y="165.75" width="78.75" height="78.50" fill="none" stroke="#888" stroke-width="0.7"/>
<line x1="189.50" y1="165.75" x2="189.50" y2="244.25" stroke="#444" stroke-width="1"/>
<line x1="144.25" y1="204.25" x2="223.00" y2="204.25" stroke="#444" stroke-width="1"/>
<path d="M144.2,165.8V244.2H223.0M142.4,243.2h1.8M142.4,229.2h1.8M142.4,215.1h1.8M142.4,200.9h1.8M142.4,186.8h1.8M142.4,172.8h1.8M147.6,244.2v1.8M160.8,244.2v1.8M174.1,244.2v1.8M187.4,244.2v1.8M200.7,244.2v1.8M214.0,244.2v1.8" stroke="#555" stroke-width="0.6" fill="none"/>
<path d="M143.2,239.0h1M143.2,236.5h1M143.2,234.8h1M143.2,233.4h1M143.2,232.3h1M143.2,224.9h1M143.2,222.4h1M143.2,220.7h1M143.2,219.3h1M143.2,218.2h1M143.2,210.8h1M143.2,208.3h1M143.2,206.6h1M143.2,205.2h1M143.2,204.1h1M143.2,196.7h1M143.2,194.2h1M143.2,192.5h1M143.2,191.1h1M143.2,190.0h1M143.2,182.6h1M143.2,180.1h1M143.2,178.4h1M143.2,177.0h1M143.2,175.9h1M151.5,244.2v1M153.9,244.2v1M155.5,244.2v1M156.9,244.2v1M157.9,244.2v1M164.8,244.2v1M167.2,244.2v1M168.8,244.2v1M170.1,244.2v1M171.2,244.2v1M178.1,244.2v1M180.5,244.2v1M182.1,244.2v1M183.4,244.2v1M184.5,244.2v1M191.4,244.2v1M193.8,244.2v1M195.4,244.2v1M196.7,244.2v1M197.8,244.2v1M204.7,244.2v1M207.1,244.2v1M208.7,244.2v1M210.0,244.2v1M211.1,244.2v1" stroke="#999" stroke-width="0.4" fill="none"/>
<text x="141.8" y="244.7" font-size="4" class="nr" text-anchor="end" fill="#777">10<tspan dy="-1.52" font-size="2.48">0</tspan></text>
<text x="141.8" y="230.6" font-size="4" class="nr" text-anchor="end" fill="#777">10<tspan dy="-1.52" font-size="2.48">1</tspan></text>
<text x="141.8" y="216.5" font-size="4" class="nr" text-anchor="end" fill="#777">10<tspan dy="-1.52" font-size="2.48">2</tspan></text>
<text x="141.8" y="202.3" font-size="4" class="nr" text-anchor="end" fill="#777">10<tspan dy="-1.52" font-size="2.48">3</tspan></text>
<text x="141.8" y="188.2" font-size="4" class="nr" text-anchor="end" fill="#777">10<tspan dy="-1.52" font-size="2.48">4</tspan></text>
<text x="141.8" y="174.2" font-size="4" class="nr" text-anchor="end" fill="#777">10<tspan dy="-1.52" font-size="2.48">5</tspan></text>
<text x="147.6" y="251.6" font-size="4" class="nr" text-anchor="middle" fill="#777">10<tspan dy="-1.52" font-size="2.48">0</tspan></text>
<text x="160.8" y="251.6" font-size="4" class="nr" text-anchor="middle" fill="#777">10<tspan dy="-1.52" font-size="2.48">1</tspan></text>
<text x="174.1" y="251.6" font-size="4" class="nr" text-anchor="middle" fill="#777">10<tspan dy="-1.52" font-size="2.48">2</tspan></text>
<text x="187.4" y="251.6" font-size="4" class="nr" text-anchor="middle" fill="#777">10<tspan dy="-1.52" font-size="2.48">3</tspan></text>
<text x="200.7" y="251.6" font-size="4" class="nr" text-anchor="middle" fill="#777">10<tspan dy="-1.52" font-size="2.48">4</tspan></text>
<text x="214.0" y="251.6" font-size="4" class="nr" text-anchor="middle" fill="#777">10<tspan dy="-1.52" font-size="2.48">5</tspan></text>
<path d="M412 418h2M402 455h2M389 426h2M389 379h2M396 390h2M407 391h2M390 428h2M390 426h2M389 361h2M406 444h2M395 404h2M393 437h2M383 389h2M387 479h2M386 476h2M393 425h2M405 462h2M402 377h2M393 403h2M385 469h2M396 424h2M401 423h2M406 382h2M401 380h2M405 412h2M404 406h2M397 474h2M387 428h2M387 461h2M389 408h2M392 475h2M386 423h2M391 400h2M388 417h2M396 356h2M396 372h2M386 421h2M392 467h2M390 345h2M381 432h2M396 471h2M390 453h2M385 481h2M393 394h2M387 369h2M386 373h2M394 439h2M393 433h2M403 411h2M396 394h2M392 442h2M398 355h2M386 427h2M393 474h2M403 352h2M386 441h2M396 448h2M398 392h2M404 350h2M389 437h2M395 382h2M387 440h2M389 405h2M402 430h2M393 429h2M385 478h2M388 482h2M390 404h2M406 432h2M389 400h2M399 407h2M385 394h2M393 435h2M389 480h2M386 393h2M398 445h2M391 466h2M394 482h2M392 433h2M398 347h2M401 438h2M396 485h2M397 341h2M386 411h2M395 404h2M401 450h2M394 427h2M397 435h2M388 458h2M387 422h2M391 373h2M399 421h2M385 421h2M389 455h2M386 387h2M393 442h2M401 412h2M403 466h2M387 416h2M390 463h2M401 413h2M390 439h2M388 369h2M386 439h2M385 475h2M400 430h2M406 408h2M390 378h2M389 429h2M399 480h2M392 392h2M391 405h2M390 406h2M387 422h2M390 417h2M383 430h2M399 452h2M390 374h2M384 373h2M389 410h2M382 394h2M388 460h2M409 409h2M392 407h2M392 417h2M414 377h2M393 390h2M397 401h2M399 377h2M411 433h2M390 374h2M397 401h2M400 400h2M401 430h2M397 431h2M391 408h2M398 455h2M407 374h2M403 421h2M396 390h2M407 388h2M393 393h2M409 478h2M384 405h2M397 405h2M391 377h2M396 377h2M397 395h2M391 382h2M395 454h2M401 412h2M385 421h2M407 436h2M394 334h2M391 448h2M387 482h2M390 386h2M389 420h2M402 400h2M399 444h2M388 386h2M386 464h2M396 470h2M408 425h2M384 405h2M391 408h2M395 388h2" stroke="#2a3ee0" stroke-width="2" opacity="0.6" fill="none" transform="scale(.5)"/>
<path d="M431 344h2M409 362h2M401 380h2M391 354h2M387 363h2M389 388h2M389 385h2M388 345h2M425 386h2M395 366h2M418 336h2M391 351h2M412 345h2M406 345h2M390 336h2M407 383h2M403 348h2M385 336h2M403 396h2M404 357h2M392 368h2M392 368h2M387 354h2M404 350h2M397 363h2M389 366h2M407 366h2M414 383h2M382 364h2M412 401h2M385 349h2M419 346h2M391 382h2M417 355h2M381 385h2M406 356h2M400 361h2M419 347h2M397 377h2M384 391h2M410 373h2M388 366h2M403 342h2M412 346h2M382 334h2M399 392h2M413 399h2M415 380h2M386 365h2M389 361h2M389 350h2M413 365h2M385 360h2M412 365h2M390 369h2M408 375h2M411 355h2M389 370h2M386 348h2M435 362h2M382 386h2M393 361h2M402 352h2M407 360h2M409 371h2M397 383h2M405 366h2M393 369h2M400 372h2M392 354h2M417 346h2M388 375h2M404 356h2M404 351h2M415 362h2M399 367h2M407 343h2M389 354h2M384 359h2M394 345h2M406 392h2M388 354h2M399 384h2M413 356h2M429 374h2M431 379h2M397 347h2M417 373h2M421 341h2M408 395h2M393 377h2M398 347h2M402 388h2M400 382h2M404 369h2M414 364h2M381 361h2M402 338h2M391 340h2M425 368h2M413 369h2M412 351h2M431 362h2M413 355h2M417 341h2M381 374h2M426 343h2M395 373h2M394 349h2M389 366h2M392 394h2M384 372h2M395 361h2M381 359h2M422 381h2M397 360h2M410 363h2M395 364h2M402 390h2M393 339h2M387 376h2M413 365h2M427 376h2M397 400h2M416 378h2M425 337h2M393 387h2M383 379h2M385 394h2M431 358h2M392 345h2M415 360h2M400 377h2M428 362h2M411 343h2M400 387h2M411 349h2M398 371h2M386 353h2M399 347h2M407 363h2M404 379h2M411 373h2M419 337h2M387 377h2M384 352h2M401 335h2M407 366h2M395 362h2M399 366h2" stroke="#2a3ee0" stroke-width="2" opacity="0.8" fill="none" transform="scale(.5)"/>
<ellipse cx="197.00" cy="205.00" rx="5.00" ry="20.00" fill="url(#g_blue)" opacity="0.75"/>
<ellipse cx="199.50" cy="179.00" rx="8.00" ry="13.00" fill="url(#g_orange)" transform="rotate(35 199.50 179.00)"/>
<text x="146.5" y="175.0" font-size="5.5" class="nr">0</text>
<text x="220.0" y="175.0" font-size="5.5" class="nr" text-anchor="end">99.1</text>
<text x="146.5" y="239.5" font-size="5.5" class="nr">0</text>
<text x="220.0" y="239.5" font-size="5.5" class="nr" text-anchor="end">0.86</text>
<text x="132.6" y="204.9" font-size="7.8" class="nb" text-anchor="middle" textLength="31.2" lengthAdjust="spacingAndGlyphs" transform="rotate(-90 132.6 204.9)">PKH-Red</text>
<text x="184.5" y="262.5" font-size="7.5" class="nb" text-anchor="middle" textLength="18.5" lengthAdjust="spacingAndGlyphs">F4/80</text>
<text x="238.8" y="165.0" font-size="10" class="sr" textLength="14.5" lengthAdjust="spacingAndGlyphs">(iv)</text>
<rect x="256.75" y="165.75" width="78.25" height="78.50" fill="none" stroke="#888" stroke-width="0.7"/>
<line x1="290.50" y1="165.75" x2="290.50" y2="244.25" stroke="#444" stroke-width="1"/>
<line x1="256.75" y1="193.75" x2="335.00" y2="193.75" stroke="#444" stroke-width="1"/>
<path d="M256.8,165.8V244.2H335.0M254.9,243.2h1.8M254.9,229.2h1.8M254.9,215.1h1.8M254.9,200.9h1.8M254.9,186.8h1.8M254.9,172.8h1.8M260.1,244.2v1.8M273.2,244.2v1.8M286.4,244.2v1.8M299.6,244.2v1.8M312.8,244.2v1.8M326.0,244.2v1.8" stroke="#555" stroke-width="0.6" fill="none"/>
<path d="M255.8,239.0h1M255.8,236.5h1M255.8,234.8h1M255.8,233.4h1M255.8,232.3h1M255.8,224.9h1M255.8,222.4h1M255.8,220.7h1M255.8,219.3h1M255.8,218.2h1M255.8,210.8h1M255.8,208.3h1M255.8,206.6h1M255.8,205.2h1M255.8,204.1h1M255.8,196.7h1M255.8,194.2h1M255.8,192.5h1M255.8,191.1h1M255.8,190.0h1M255.8,182.6h1M255.8,180.1h1M255.8,178.4h1M255.8,177.0h1M255.8,175.9h1M264.0,244.2v1M266.4,244.2v1M268.0,244.2v1M269.3,244.2v1M270.3,244.2v1M277.2,244.2v1M279.6,244.2v1M281.2,244.2v1M282.5,244.2v1M283.5,244.2v1M290.4,244.2v1M292.8,244.2v1M294.3,244.2v1M295.7,244.2v1M296.7,244.2v1M303.6,244.2v1M306.0,244.2v1M307.5,244.2v1M308.9,244.2v1M309.9,244.2v1M316.8,244.2v1M319.1,244.2v1M320.7,244.2v1M322.0,244.2v1M323.1,244.2v1" stroke="#999" stroke-width="0.4" fill="none"/>
<text x="254.3" y="244.7" font-size="4" class="nr" text-anchor="end" fill="#777">10<tspan dy="-1.52" font-size="2.48">0</tspan></text>
<text x="254.3" y="230.6" font-size="4" class="nr" text-anchor="end" fill="#777">10<tspan dy="-1.52" font-size="2.48">1</tspan></text>
<text x="254.3" y="216.5" font-size="4" class="nr" text-anchor="end" fill="#777">10<tspan dy="-1.52" font-size="2.48">2</tspan></text>
<text x="254.3" y="202.3" font-size="4" class="nr" text-anchor="end" fill="#777">10<tspan dy="-1.52" font-size="2.48">3</tspan></text>
<text x="254.3" y="188.2" font-size="4" class="nr" text-anchor="end" fill="#777">10<tspan dy="-1.52" font-size="2.48">4</tspan></text>
<text x="254.3" y="174.2" font-size="4" class="nr" text-anchor="end" fill="#777">10<tspan dy="-1.52" font-size="2.48">5</tspan></text>
<text x="260.1" y="251.6" font-size="4" class="nr" text-anchor="middle" fill="#777">10<tspan dy="-1.52" font-size="2.48">0</tspan></text>
<text x="273.2" y="251.6" font-size="4" class="nr" text-anchor="middle" fill="#777">10<tspan dy="-1.52" font-size="2.48">1</tspan></text>
<text x="286.4" y="251.6" font-size="4" class="nr" text-anchor="middle" fill="#777">10<tspan dy="-1.52" font-size="2.48">2</tspan></text>
<text x="299.6" y="251.6" font-size="4" class="nr" text-anchor="middle" fill="#777">10<tspan dy="-1.52" font-size="2.48">3</tspan></text>
<text x="312.8" y="251.6" font-size="4" class="nr" text-anchor="middle" fill="#777">10<tspan dy="-1.52" font-size="2.48">4</tspan></text>
<text x="326.0" y="251.6" font-size="4" class="nr" text-anchor="middle" fill="#777">10<tspan dy="-1.52" font-size="2.48">5</tspan></text>
<path d="M651 368h2M611 407h2M588 430h2M612 398h2M597 391h2M589 404h2M620 469h2M648 358h2M615 463h2M619 398h2M657 376h2M585 472h2M587 432h2M643 350h2M649 398h2M650 393h2M618 414h2M611 368h2M614 362h2M629 424h2M623 403h2M618 402h2M619 336h2M593 457h2M584 484h2M588 387h2M659 407h2M632 409h2M593 398h2M601 470h2M627 424h2M622 408h2M595 432h2M611 446h2M630 351h2M614 482h2M600 405h2M665 344h2M632 384h2M655 433h2M625 396h2M652 336h2M614 335h2M633 417h2M603 390h2M585 469h2M635 396h2M631 343h2M614 479h2M632 374h2M616 440h2M639 363h2M629 390h2M616 445h2M630 398h2M629 461h2M622 461h2M618 436h2M628 429h2M585 383h2M612 451h2M591 445h2M626 380h2M589 441h2M655 373h2M588 408h2M635 391h2M602 433h2M606 458h2M638 421h2M641 392h2M613 467h2M617 375h2M596 400h2M645 399h2M626 412h2M654 394h2M643 386h2M617 414h2M667 354h2M586 411h2M620 392h2M629 415h2M592 349h2M651 404h2M598 425h2M625 446h2M603 378h2M637 417h2M603 371h2M590 421h2M604 394h2M620 426h2M634 396h2M639 366h2M592 387h2M618 420h2M624 344h2M636 381h2M626 447h2M616 381h2M630 438h2M639 444h2M612 380h2M592 416h2M605 441h2M643 371h2M627 369h2M649 360h2M617 369h2M604 395h2M649 416h2M588 385h2M617 443h2M634 427h2M665 366h2M626 373h2M593 358h2M635 418h2M615 413h2M619 406h2M597 390h2M633 374h2M588 372h2M606 410h2M629 381h2M611 412h2M645 349h2M617 382h2M590 385h2M624 381h2M587 447h2M617 444h2M636 351h2M598 485h2M615 475h2M610 431h2M586 466h2M635 406h2M645 342h2M603 392h2M630 424h2M593 436h2M647 444h2M607 418h2M636 397h2M604 435h2M597 426h2M605 446h2M602 379h2M651 343h2M645 359h2M590 409h2M610 395h2M638 442h2M588 469h2M639 380h2M595 477h2M594 484h2M625 429h2M613 434h2M601 401h2M624 394h2M610 335h2M612 440h2M638 362h2M638 403h2M632 398h2M616 486h2M652 340h2M610 396h2M624 411h2M652 344h2M648 463h2M633 432h2M630 472h2M622 365h2M623 411h2M635 337h2M611 406h2M643 399h2M601 350h2M606 423h2M635 402h2M620 424h2M649 426h2M604 438h2M656 384h2M608 395h2M634 424h2M660 359h2M636 445h2M586 403h2M608 462h2M626 391h2M644 386h2M595 445h2M589 352h2M588 396h2M628 417h2M629 425h2M598 431h2M604 416h2M646 397h2M659 375h2M643 334h2M594 471h2M602 353h2M605 453h2M664 347h2M624 414h2M605 434h2M641 335h2M619 338h2M587 393h2M654 394h2M619 354h2M607 397h2M584 423h2M623 413h2M643 436h2M606 380h2M609 420h2" stroke="#2a3ee0" stroke-width="2" opacity="0.8" fill="none" transform="scale(.5)"/>
<path d="M589 478h2M590 459h2M607 423h2M592 470h2M586 411h2M605 416h2M602 473h2M608 448h2M587 455h2M607 466h2M609 470h2M586 429h2M610 417h2M589 445h2M583 439h2M591 440h2M593 474h2M584 443h2M601 446h2M588 445h2M586 435h2M597 455h2M586 447h2M587 483h2M602 435h2M592 484h2M596 468h2M595 466h2M597 464h2M587 473h2M593 428h2M595 401h2M586 465h2M594 466h2M584 483h2M591 452h2M589 427h2M599 460h2M584 445h2M592 472h2M590 474h2M596 411h2M585 405h2M589 442h2M598 456h2M591 481h2M598 423h2M585 460h2M609 447h2M590 458h2M600 450h2M595 442h2M587 434h2M598 439h2M597 461h2M602 389h2M590 471h2M605 461h2M588 464h2M592 466h2M586 451h2M595 444h2M595 468h2M601 435h2M610 464h2M601 454h2M600 478h2M593 440h2M590 441h2M585 413h2M587 460h2M587 434h2M596 463h2M588 459h2" stroke="#2a3ee0" stroke-width="2" opacity="0.8" fill="none" transform="scale(.5)"/>
<path d="M296.0,200.0 L306.0,188.0 L314.0,172.0 L320.0,168.0 L322.0,180.0 L318.0,196.0 L316.0,214.0 L304.0,222.0 L298.0,236.0 L293.0,232.0 L293.0,212.0 Z" fill="#1428e0" opacity="0.75" filter="url(#bl3)"/>
<ellipse cx="314.50" cy="178.50" rx="7.00" ry="12.00" fill="url(#g_cy2)" transform="rotate(30 314.50 178.50)"/>
<ellipse cx="314.50" cy="178.50" rx="4.00" ry="7.00" fill="url(#g_gr2)" transform="rotate(30 314.50 178.50)"/>
<ellipse cx="306.50" cy="208.50" rx="14.00" ry="11.00" fill="url(#g_orange)" transform="rotate(-20 306.50 208.50)"/>
<ellipse cx="307.50" cy="208.80" rx="5.00" ry="4.00" fill="url(#g_red)" opacity="0.7"/>
<text x="260.0" y="175.0" font-size="5.5" class="nr">0</text>
<text x="332.0" y="175.0" font-size="5.5" class="nr" text-anchor="end">29.9</text>
<text x="260.0" y="239.5" font-size="5.5" class="nr">0</text>
<text x="332.0" y="239.5" font-size="5.5" class="nr" text-anchor="end">71.1</text>
<text x="245.1" y="204.9" font-size="7.8" class="nb" text-anchor="middle" textLength="31.2" lengthAdjust="spacingAndGlyphs" transform="rotate(-90 245.1 204.9)">PKH-Red</text>
<text x="299.0" y="262.5" font-size="7.5" class="nb" text-anchor="middle" textLength="18.5" lengthAdjust="spacingAndGlyphs">F4/80</text>
<text x="360.0" y="11.0" font-size="11.5" class="nb">B</text>
<text x="443.0" y="12.3" font-size="10" class="sb" text-anchor="middle" textLength="120" lengthAdjust="spacingAndGlyphs">Gated on CD11b<tspan dy="-3.80" font-size="6.20">high</tspan><tspan dy="3.80">F4/80</tspan><tspan dy="-3.80" font-size="6.20">high</tspan></text>
<text x="442.3" y="23.0" font-size="10" class="sb" text-anchor="middle" textLength="94" lengthAdjust="spacingAndGlyphs">Mφs in Cx3cr1<tspan dy="-3.80" font-size="6.20">gfp</tspan><tspan dy="3.80"> mice</tspan></text>
<text x="441.7" y="38.2" font-size="7.5" class="sb" text-anchor="middle" textLength="60.7" lengthAdjust="spacingAndGlyphs">Naive peritoneum</text>
<rect x="391.00" y="48.00" width="97.20" height="99.00" fill="none" stroke="#888" stroke-width="0.7"/>
<line x1="445.80" y1="48.00" x2="445.80" y2="147.00" stroke="#333" stroke-width="1"/>
<line x1="391.00" y1="91.40" x2="488.20" y2="91.40" stroke="#333" stroke-width="1"/>
<path d="M391.0,48.0V147.0H488.2M389.2,143.2h1.8M389.2,125.7h1.8M389.2,108.2h1.8M389.2,90.6h1.8M389.2,73.0h1.8M389.2,55.5h1.8M397.2,147.0v1.8M414.2,147.0v1.8M431.1,147.0v1.8M448.1,147.0v1.8M465.0,147.0v1.8M481.9,147.0v1.8" stroke="#555" stroke-width="0.6" fill="none"/>
<path d="M390.0,138.0h1M390.0,134.8h1M390.0,132.7h1M390.0,131.0h1M390.0,129.6h1M390.0,120.4h1M390.0,117.3h1M390.0,115.2h1M390.0,113.4h1M390.0,112.0h1M390.0,102.9h1M390.0,99.7h1M390.0,97.6h1M390.0,95.9h1M390.0,94.5h1M390.0,85.3h1M390.0,82.2h1M390.0,80.1h1M390.0,78.3h1M390.0,76.9h1M390.0,67.8h1M390.0,64.6h1M390.0,62.5h1M390.0,60.8h1M390.0,59.4h1M402.3,147.0v1M405.4,147.0v1M407.4,147.0v1M409.1,147.0v1M410.5,147.0v1M419.3,147.0v1M422.3,147.0v1M424.4,147.0v1M426.0,147.0v1M427.4,147.0v1M436.2,147.0v1M439.3,147.0v1M441.3,147.0v1M443.0,147.0v1M444.3,147.0v1M453.2,147.0v1M456.2,147.0v1M458.2,147.0v1M459.9,147.0v1M461.3,147.0v1M470.1,147.0v1M473.1,147.0v1M475.2,147.0v1M476.9,147.0v1M478.2,147.0v1" stroke="#999" stroke-width="0.4" fill="none"/>
<text x="388.0" y="145.2" font-size="5.5" class="nr" text-anchor="end" fill="#666">10<tspan dy="-2.09" font-size="3.41">0</tspan></text>
<text x="388.0" y="127.6" font-size="5.5" class="nr" text-anchor="end" fill="#666">10<tspan dy="-2.09" font-size="3.41">1</tspan></text>
<text x="388.0" y="110.1" font-size="5.5" class="nr" text-anchor="end" fill="#666">10<tspan dy="-2.09" font-size="3.41">2</tspan></text>
<text x="388.0" y="92.5" font-size="5.5" class="nr" text-anchor="end" fill="#666">10<tspan dy="-2.09" font-size="3.41">3</tspan></text>
<text x="388.0" y="75.0" font-size="5.5" class="nr" text-anchor="end" fill="#666">10<tspan dy="-2.09" font-size="3.41">4</tspan></text>
<text x="388.0" y="57.4" font-size="5.5" class="nr" text-anchor="end" fill="#666">10<tspan dy="-2.09" font-size="3.41">5</tspan></text>
<text x="397.2" y="157.0" font-size="5.5" class="nr" text-anchor="middle" fill="#666">10<tspan dy="-2.09" font-size="3.41">0</tspan></text>
<text x="414.2" y="157.0" font-size="5.5" class="nr" text-anchor="middle" fill="#666">10<tspan dy="-2.09" font-size="3.41">1</tspan></text>
<text x="431.1" y="157.0" font-size="5.5" class="nr" text-anchor="middle" fill="#666">10<tspan dy="-2.09" font-size="3.41">2</tspan></text>
<text x="448.1" y="157.0" font-size="5.5" class="nr" text-anchor="middle" fill="#666">10<tspan dy="-2.09" font-size="3.41">3</tspan></text>
<text x="465.0" y="157.0" font-size="5.5" class="nr" text-anchor="middle" fill="#666">10<tspan dy="-2.09" font-size="3.41">4</tspan></text>
<text x="481.9" y="157.0" font-size="5.5" class="nr" text-anchor="middle" fill="#666">10<tspan dy="-2.09" font-size="3.41">5</tspan></text>
<path d="M888 167h2M887 101h2M898 99h2M914 241h2M853 274h2M853 191h2M866 241h2M842 253h2M852 260h2M921 150h2M859 124h2M826 174h2M896 135h2M914 227h2M897 195h2M907 109h2M810 167h2M815 255h2M906 226h2M840 99h2M898 189h2M924 204h2M886 155h2M921 281h2M961 122h2M825 255h2M854 120h2M864 110h2" stroke="#2a3ee0" stroke-width="2" opacity="0.3" fill="none" transform="scale(.5)"/>
<path d="M931 160h2M913 192h2M933 152h2M949 167h2M934 171h2M944 179h2M921 181h2M920 170h2M952 149h2M910 161h2M918 191h2M901 208h2M951 160h2M929 162h2M937 180h2M938 181h2M956 165h2M937 165h2M927 172h2M925 174h2M913 165h2M917 148h2M915 159h2M924 141h2M922 148h2M913 171h2M943 173h2M918 160h2M947 139h2M944 142h2M916 169h2M923 197h2M934 167h2M941 169h2M913 188h2M949 190h2M908 201h2M919 181h2M945 210h2M901 150h2M944 177h2M921 117h2M933 165h2M885 215h2M887 158h2M926 172h2M938 163h2M912 162h2M893 148h2M957 156h2M925 201h2M942 170h2M938 163h2M912 186h2M928 196h2M922 161h2M931 165h2M921 152h2M930 174h2M955 168h2M898 176h2M962 160h2M913 165h2M881 162h2M923 141h2M935 153h2M897 155h2M936 202h2M946 171h2M918 163h2" stroke="#2a3ee0" stroke-width="2" opacity="0.45" fill="none" transform="scale(.5)"/>
<path d="M941 204h2M933 262h2M914 201h2M934 224h2M925 203h2M947 161h2M928 228h2M928 170h2M925 230h2M917 236h2M891 165h2M928 239h2M925 206h2M930 266h2M940 221h2M920 266h2M935 259h2M923 190h2M930 200h2M944 257h2M895 250h2M947 265h2M920 190h2M941 264h2M928 179h2M905 234h2M915 197h2M934 265h2M897 198h2M946 222h2M922 249h2M910 176h2M927 285h2M942 224h2M942 208h2M910 158h2M931 259h2M932 223h2M921 267h2M926 168h2M947 199h2M933 224h2M943 234h2M945 232h2M920 204h2M937 192h2M941 215h2M913 190h2M938 225h2M923 224h2M921 276h2M930 206h2M930 185h2M911 218h2M885 270h2M956 180h2M925 162h2M930 232h2M938 172h2M918 199h2M924 222h2M920 255h2M965 270h2M950 182h2M943 225h2M945 266h2M937 158h2M929 204h2M934 225h2M942 161h2M916 221h2M932 208h2M927 226h2M942 220h2M931 153h2M888 167h2M932 134h2M933 220h2M927 195h2M921 257h2M932 223h2M920 232h2M945 223h2M922 178h2M928 188h2M906 258h2M918 144h2M925 172h2M911 252h2M933 232h2M924 243h2M950 243h2M925 169h2M934 286h2M937 175h2M930 275h2M918 243h2M945 288h2M904 155h2M933 252h2M922 223h2M921 271h2M894 234h2M908 197h2M904 188h2M927 225h2M953 215h2M932 238h2M931 282h2M929 230h2M925 224h2M926 263h2M927 227h2M926 254h2M920 261h2M919 251h2M955 233h2M926 178h2M938 225h2M940 198h2M933 211h2M908 224h2M937 248h2M910 184h2M913 184h2M923 234h2M955 232h2M949 159h2M950 255h2M934 257h2M939 155h2M901 288h2M926 276h2M922 198h2M922 236h2M930 200h2M935 248h2M913 180h2M898 212h2M927 197h2M918 219h2M927 247h2M939 241h2M944 186h2M936 239h2M912 197h2M934 227h2M908 202h2M950 257h2M928 277h2M914 217h2M941 211h2M910 247h2M951 124h2M929 175h2M923 168h2M966 197h2M928 196h2M912 206h2M931 286h2M911 227h2M921 162h2M931 194h2M918 183h2M942 208h2M925 231h2M909 233h2M924 242h2M921 226h2M935 262h2M917 262h2M912 217h2M929 230h2M890 185h2M924 261h2M917 284h2M900 227h2M935 225h2M931 261h2M915 247h2M943 215h2M893 177h2M914 182h2M933 192h2M964 247h2M908 213h2M950 251h2M912 265h2M919 248h2M935 206h2M925 270h2M934 222h2M941 243h2M932 162h2M929 205h2M938 200h2M934 182h2M940 195h2M927 247h2M922 224h2M900 188h2M937 261h2M920 228h2M924 177h2M904 174h2M946 209h2M956 249h2M933 249h2M939 260h2M913 202h2M919 228h2M923 175h2M958 190h2M933 223h2M914 252h2M926 290h2M934 212h2M888 220h2M940 196h2M940 251h2M901 216h2M932 254h2M929 223h2M922 213h2M927 182h2M937 211h2M935 204h2M933 229h2M940 242h2M941 217h2M926 214h2M908 219h2M943 254h2M914 236h2M938 170h2M932 237h2M938 234h2M901 144h2M956 208h2M946 274h2M928 179h2M947 223h2M935 243h2M941 264h2M906 168h2M929 224h2M939 219h2M947 270h2M942 193h2M926 221h2M911 190h2M929 176h2M935 243h2M924 211h2M936 243h2M932 176h2M917 210h2M900 193h2M916 255h2M888 169h2M921 205h2M916 207h2M904 235h2M945 230h2M919 274h2M934 183h2M919 200h2M926 272h2M917 218h2M929 177h2M920 248h2M944 150h2M937 213h2M946 248h2M956 236h2M921 191h2M906 246h2M935 256h2M932 165h2M921 214h2M929 254h2M948 235h2M896 184h2M895 194h2M909 233h2M924 268h2M943 206h2M941 225h2M934 277h2M910 221h2M950 194h2M930 229h2M921 173h2M917 185h2M943 234h2M937 177h2M934 230h2M943 196h2M939 278h2M954 188h2M910 167h2M941 247h2M932 190h2M946 287h2M926 219h2M945 244h2M947 208h2M932 211h2M919 212h2M923 244h2M923 227h2M915 176h2M948 185h2M954 261h2M893 199h2M921 225h2M924 200h2M946 219h2M941 197h2M917 276h2M923 181h2M924 265h2M925 196h2M936 263h2M924 212h2M925 240h2M897 231h2M928 212h2M921 171h2M905 231h2M918 221h2M924 204h2M911 204h2M923 179h2M913 258h2M941 229h2M945 192h2M943 290h2M915 180h2M926 192h2M936 181h2M928 148h2M927 265h2M923 236h2M943 181h2M908 227h2M931 214h2M913 271h2M910 214h2M926 252h2M920 192h2M957 191h2M939 218h2M920 222h2M923 236h2M889 223h2M928 186h2M954 249h2M930 212h2M948 207h2M915 251h2M913 193h2M948 161h2M926 229h2M931 167h2M924 211h2M956 263h2M916 258h2M937 220h2M923 213h2M904 199h2M941 280h2M955 209h2M936 130h2M923 175h2M939 159h2M912 181h2M933 257h2M929 191h2M932 223h2M939 237h2M959 270h2M918 255h2M938 185h2M916 193h2M891 249h2M924 272h2M919 227h2M938 262h2M932 183h2M960 258h2M947 287h2M948 240h2M934 249h2M905 256h2M913 240h2M912 252h2M930 244h2M914 213h2M926 213h2M921 190h2M938 209h2M915 238h2M915 217h2M920 188h2M924 192h2M909 238h2M923 167h2M921 231h2M933 239h2M931 247h2M920 193h2M936 208h2M927 249h2M941 272h2M917 210h2M935 168h2M909 248h2M918 188h2M939 245h2M941 211h2M923 211h2M932 145h2M917 252h2M916 222h2M929 244h2M920 180h2M964 196h2M952 156h2M929 216h2M942 185h2M915 195h2M920 234h2M916 214h2M949 280h2M900 187h2M922 274h2M933 280h2M914 212h2M942 246h2M900 213h2M930 249h2M918 292h2M929 280h2M933 227h2M922 179h2M940 253h2M941 209h2M912 209h2M923 224h2M942 189h2M920 251h2M935 191h2" stroke="#2a3ee0" stroke-width="2" opacity="0.8" fill="none" transform="scale(.5)"/>
<path d="M922 256h2M931 272h2M930 259h2M929 267h2M935 269h2M924 250h2M942 267h2M929 268h2M939 263h2M931 264h2M935 252h2M932 284h2M939 278h2M936 290h2M921 251h2M936 264h2M927 253h2M942 250h2M931 246h2M949 260h2M923 240h2M933 251h2M919 285h2M924 252h2M931 265h2M939 270h2M943 286h2M944 285h2M931 276h2M930 244h2M921 280h2M912 255h2M920 267h2M922 272h2M929 261h2M923 234h2M931 248h2M928 274h2M938 279h2M942 246h2M933 251h2M933 260h2M925 285h2M929 251h2M924 278h2M932 286h2M928 253h2M925 252h2M950 271h2M928 288h2M935 265h2M935 272h2M928 267h2M929 287h2M933 280h2M937 258h2M931 289h2M937 281h2M928 262h2M923 264h2M930 246h2M939 256h2M932 277h2M926 240h2" stroke="#2a3ee0" stroke-width="2" opacity="0.6" fill="none" transform="scale(.5)"/>
<ellipse cx="463.50" cy="111.00" rx="10.00" ry="22.00" fill="url(#g_blue)" opacity="0.8"/>
<ellipse cx="463.50" cy="106.00" rx="7.50" ry="15.00" fill="url(#g_cy2)"/>
<ellipse cx="463.50" cy="104.00" rx="4.00" ry="8.00" fill="url(#g_tl2)"/>
<text x="393.0" y="56.5" font-size="4.5" class="nr" fill="#555">0.33</text>
<text x="484.0" y="56.5" font-size="4.5" class="nr" text-anchor="end" fill="#555">1.16</text>
<text x="393.0" y="141.0" font-size="4.5" class="nr" fill="#555">0.26</text>
<text x="484.0" y="141.0" font-size="4.5" class="nr" text-anchor="end" fill="#555">98.3</text>
<line x1="365.70" y1="123.00" x2="365.70" y2="61.90" stroke="#000" stroke-width="2.2"/>
<path d="M365.70,56.90 L368.94,62.40 L362.46,62.40 Z" fill="#000"/>
<text x="369.5" y="142.0" font-size="11.5" class="sb" text-anchor="middle" textLength="23.5" lengthAdjust="spacingAndGlyphs" transform="rotate(-90 369.5 142.0)">GFP</text>
<line x1="365.70" y1="166.50" x2="365.70" y2="274.40" stroke="#000" stroke-width="2.2"/>
<text x="440.8" y="180.6" font-size="7.5" class="sb" text-anchor="middle" textLength="75" lengthAdjust="spacingAndGlyphs">72h 0.1 mg peritonitis</text>
<rect x="390.80" y="185.50" width="100.00" height="97.50" fill="none" stroke="#888" stroke-width="0.7"/>
<line x1="438.50" y1="185.50" x2="438.50" y2="283.00" stroke="#333" stroke-width="1"/>
<line x1="390.80" y1="231.40" x2="490.80" y2="231.40" stroke="#333" stroke-width="1"/>
<path d="M390.8,185.5V283.0H490.8M389.0,280.0h1.8M389.0,262.6h1.8M389.0,245.2h1.8M389.0,227.8h1.8M389.0,210.4h1.8M389.0,193.0h1.8M396.3,283.0v1.8M414.0,283.0v1.8M431.6,283.0v1.8M449.3,283.0v1.8M466.9,283.0v1.8M484.6,283.0v1.8" stroke="#555" stroke-width="0.6" fill="none"/>
<path d="M389.8,274.8h1M389.8,271.6h1M389.8,269.6h1M389.8,267.8h1M389.8,266.4h1M389.8,257.4h1M389.8,254.2h1M389.8,252.2h1M389.8,250.4h1M389.8,249.0h1M389.8,240.0h1M389.8,236.8h1M389.8,234.8h1M389.8,233.0h1M389.8,231.6h1M389.8,222.6h1M389.8,219.4h1M389.8,217.4h1M389.8,215.6h1M389.8,214.2h1M389.8,205.2h1M389.8,202.0h1M389.8,200.0h1M389.8,198.2h1M389.8,196.8h1M401.6,283.0v1M404.8,283.0v1M406.9,283.0v1M408.7,283.0v1M410.1,283.0v1M419.3,283.0v1M422.4,283.0v1M424.6,283.0v1M426.3,283.0v1M427.7,283.0v1M436.9,283.0v1M440.1,283.0v1M442.2,283.0v1M444.0,283.0v1M445.4,283.0v1M454.6,283.0v1M457.8,283.0v1M459.9,283.0v1M461.6,283.0v1M463.1,283.0v1M472.2,283.0v1M475.4,283.0v1M477.5,283.0v1M479.3,283.0v1M480.7,283.0v1" stroke="#999" stroke-width="0.4" fill="none"/>
<text x="387.8" y="281.9" font-size="5.5" class="nr" text-anchor="end" fill="#666">10<tspan dy="-2.09" font-size="3.41">0</tspan></text>
<text x="387.8" y="264.5" font-size="5.5" class="nr" text-anchor="end" fill="#666">10<tspan dy="-2.09" font-size="3.41">1</tspan></text>
<text x="387.8" y="247.1" font-size="5.5" class="nr" text-anchor="end" fill="#666">10<tspan dy="-2.09" font-size="3.41">2</tspan></text>
<text x="387.8" y="229.7" font-size="5.5" class="nr" text-anchor="end" fill="#666">10<tspan dy="-2.09" font-size="3.41">3</tspan></text>
<text x="387.8" y="212.3" font-size="5.5" class="nr" text-anchor="end" fill="#666">10<tspan dy="-2.09" font-size="3.41">4</tspan></text>
<text x="387.8" y="194.9" font-size="5.5" class="nr" text-anchor="end" fill="#666">10<tspan dy="-2.09" font-size="3.41">5</tspan></text>
<text x="396.3" y="293.0" font-size="5.5" class="nr" text-anchor="middle" fill="#666">10<tspan dy="-2.09" font-size="3.41">0</tspan></text>
<text x="414.0" y="293.0" font-size="5.5" class="nr" text-anchor="middle" fill="#666">10<tspan dy="-2.09" font-size="3.41">1</tspan></text>
<text x="431.6" y="293.0" font-size="5.5" class="nr" text-anchor="middle" fill="#666">10<tspan dy="-2.09" font-size="3.41">2</tspan></text>
<text x="449.3" y="293.0" font-size="5.5" class="nr" text-anchor="middle" fill="#666">10<tspan dy="-2.09" font-size="3.41">3</tspan></text>
<text x="466.9" y="293.0" font-size="5.5" class="nr" text-anchor="middle" fill="#666">10<tspan dy="-2.09" font-size="3.41">4</tspan></text>
<text x="484.6" y="293.0" font-size="5.5" class="nr" text-anchor="middle" fill="#666">10<tspan dy="-2.09" font-size="3.41">5</tspan></text>
<path d="M894 432h2M834 453h2M891 392h2M834 461h2M806 444h2M893 470h2M869 442h2M967 437h2M850 428h2M848 402h2M846 416h2M879 440h2M895 437h2M800 460h2M863 405h2M938 388h2M790 405h2M867 443h2M852 439h2M813 403h2M853 381h2M856 409h2M880 391h2M821 404h2M829 391h2M834 381h2M873 440h2M846 415h2M804 392h2M836 394h2M790 425h2M846 408h2M807 419h2M813 408h2M856 441h2M884 402h2M905 387h2M838 458h2M962 424h2M829 409h2M788 416h2M826 398h2M905 398h2M929 444h2M878 403h2M860 412h2M866 401h2M870 377h2M909 410h2M839 375h2M798 441h2M811 419h2M839 478h2M890 382h2M824 387h2M900 421h2M879 416h2M826 422h2M843 476h2M934 431h2M841 489h2M808 444h2M906 409h2M836 407h2M885 421h2M919 454h2M846 495h2M832 402h2M835 395h2M826 418h2M890 374h2M832 433h2M809 464h2M821 414h2M849 454h2M861 421h2M821 425h2M866 410h2M821 454h2M915 418h2M838 495h2M827 449h2M817 460h2M902 389h2M909 503h2M836 385h2M860 408h2M858 376h2M899 433h2M838 461h2M802 440h2M877 404h2M841 439h2M920 458h2M869 412h2M888 419h2M881 429h2M837 420h2M845 454h2M834 404h2M878 439h2M867 428h2M917 452h2M857 414h2M821 399h2M855 409h2M965 442h2M866 486h2M846 411h2M906 444h2M891 455h2M829 401h2M812 423h2M895 389h2M821 381h2M943 443h2M857 385h2M797 401h2M848 383h2M836 456h2M847 423h2M839 400h2M797 404h2M890 395h2M862 376h2M874 436h2M828 446h2M804 421h2M927 419h2M792 454h2M872 412h2M861 395h2M902 463h2M806 434h2M934 379h2M849 401h2M842 423h2M860 446h2M871 451h2M895 452h2M814 432h2M829 395h2M940 429h2M835 443h2M837 404h2M917 411h2M830 417h2M835 451h2M874 418h2M829 413h2M928 411h2M878 374h2M862 440h2M907 429h2M874 429h2M898 480h2M856 396h2M875 417h2M877 443h2M854 407h2M861 384h2M860 394h2M868 424h2M836 385h2M849 400h2M840 440h2M892 382h2M891 460h2M900 428h2M842 471h2M831 375h2M851 428h2M797 384h2M941 423h2M884 403h2M911 400h2M833 420h2M797 411h2M820 446h2M854 446h2M888 446h2M823 432h2M912 410h2M820 397h2M895 445h2M802 377h2M957 495h2M787 400h2M854 432h2M824 374h2M827 400h2M919 448h2M916 423h2M827 417h2M859 411h2M924 462h2M888 410h2M853 436h2M856 451h2M898 420h2M872 422h2M855 406h2M827 455h2M834 419h2M904 449h2M828 427h2M798 424h2M862 420h2M854 431h2M850 406h2M800 413h2M924 413h2M815 406h2M790 434h2M799 447h2M890 437h2M896 418h2M877 375h2M788 452h2M868 460h2M879 422h2M867 445h2M845 414h2M862 411h2M962 398h2M897 408h2M854 414h2M860 377h2M851 403h2M899 438h2M786 392h2M874 455h2M883 416h2M821 391h2M797 437h2M860 428h2M840 438h2M884 403h2M892 393h2M931 382h2M833 388h2M849 459h2M811 472h2M915 431h2M818 447h2M893 419h2M966 400h2M875 470h2M908 400h2M825 384h2M884 444h2M875 427h2M895 416h2M881 444h2M910 435h2M851 441h2M925 424h2M796 403h2M839 422h2M810 449h2M794 469h2M787 422h2M860 408h2M847 425h2M791 422h2M957 401h2M797 440h2M912 451h2M816 418h2M857 414h2M866 452h2M873 420h2M837 473h2M787 479h2M883 423h2M810 474h2M906 447h2M852 411h2M811 422h2M873 436h2M840 381h2M874 438h2M950 448h2M847 386h2M856 442h2M871 459h2M796 400h2M855 384h2M817 461h2M861 417h2M819 421h2M845 388h2M885 382h2M910 410h2M861 394h2M936 461h2M950 446h2M913 402h2M911 407h2M844 380h2M849 432h2M844 387h2M891 447h2M842 443h2M895 391h2M795 433h2M803 432h2M823 465h2M847 424h2M837 394h2M916 471h2M809 430h2M802 446h2M805 416h2M912 436h2M830 375h2M872 422h2M909 424h2M810 417h2M842 420h2M971 437h2M860 413h2M813 390h2M915 457h2M798 481h2M848 390h2M904 433h2M809 454h2M842 391h2M804 447h2M841 444h2M789 447h2M924 489h2M836 424h2M797 446h2M964 465h2M799 403h2M883 424h2M808 457h2M872 451h2M838 458h2M823 386h2M846 378h2M909 442h2M889 409h2M867 402h2M843 417h2M871 391h2M790 430h2M821 436h2M821 381h2M883 428h2M883 410h2M828 458h2M872 418h2M851 438h2M808 428h2M856 423h2M879 437h2M881 444h2M793 457h2M892 450h2M923 378h2M865 434h2M909 393h2M847 409h2M838 416h2M844 422h2M811 400h2M802 468h2M893 414h2M876 519h2M797 434h2M816 465h2M902 416h2M877 396h2M928 411h2M954 384h2M797 414h2M907 422h2M845 421h2M889 419h2M854 418h2M790 460h2M811 380h2M824 421h2M887 376h2M865 387h2M789 425h2M802 465h2M793 452h2M927 401h2M812 439h2M784 437h2M907 428h2M862 415h2M897 395h2M926 419h2M824 427h2M840 399h2M786 420h2M808 446h2M872 410h2M853 391h2M793 398h2M843 395h2M825 394h2M858 386h2M845 423h2M894 398h2M789 375h2M884 401h2M896 418h2M812 444h2M815 440h2M862 383h2M820 400h2M803 444h2M853 442h2M889 386h2M848 422h2M805 451h2M871 454h2M828 441h2M843 392h2M837 425h2M881 388h2M977 424h2M808 400h2M935 385h2M840 418h2M809 398h2M911 463h2M832 441h2M869 423h2M839 457h2M875 413h2M834 448h2M816 398h2M832 405h2M909 431h2M842 404h2M917 433h2M950 447h2M835 403h2M832 425h2M886 435h2M925 374h2M847 377h2M794 402h2M813 391h2M830 449h2M816 446h2M818 432h2M792 462h2M868 452h2M832 459h2M850 405h2M814 422h2M800 384h2M853 441h2M831 445h2M925 382h2M859 391h2M814 425h2M888 436h2M878 475h2M828 453h2M919 435h2M843 443h2M833 415h2M920 401h2M799 421h2M902 438h2M850 405h2M908 447h2M877 401h2M845 456h2M937 426h2M818 426h2M885 390h2M888 429h2M883 457h2M848 427h2M866 434h2M793 412h2M838 421h2M808 416h2M860 426h2M876 445h2M874 449h2M888 462h2M877 401h2M963 454h2M909 442h2M848 386h2M868 409h2M924 385h2M791 434h2M874 396h2M846 428h2M854 436h2M885 409h2M827 390h2M884 438h2M815 491h2M844 429h2M862 413h2M862 381h2M826 476h2M890 408h2M817 375h2M840 415h2M854 433h2M903 435h2M922 456h2M841 388h2M868 449h2M880 403h2M919 426h2M818 380h2M931 471h2M835 408h2M881 457h2M805 486h2M836 454h2M811 480h2M835 382h2M944 399h2M846 382h2M880 426h2M831 408h2M817 398h2M891 378h2M787 432h2M960 414h2M830 412h2M858 415h2M900 450h2M874 467h2M834 403h2M864 388h2M839 408h2M792 454h2M826 434h2M819 424h2M823 422h2M841 399h2M868 414h2M797 388h2M868 460h2M869 451h2M882 384h2M848 447h2M858 413h2M787 425h2M843 421h2M921 456h2M806 427h2M830 423h2M928 448h2M848 400h2M838 431h2M821 453h2M847 384h2M832 416h2M896 454h2M919 467h2M862 423h2M897 419h2M879 438h2M790 456h2M862 375h2M869 450h2M873 411h2M806 454h2" stroke="#2a3ee0" stroke-width="2" opacity="0.8" fill="none" transform="scale(.5)"/>
<path d="M903 428h2M884 403h2M839 420h2M929 446h2M875 465h2M889 404h2M925 461h2M884 399h2M898 465h2M904 410h2M917 416h2M934 419h2M957 420h2M902 405h2M857 436h2M907 405h2M913 418h2M879 426h2M908 445h2M933 437h2M874 411h2M907 399h2M891 419h2M893 432h2M927 467h2M923 452h2M864 453h2M935 395h2M972 414h2M824 470h2M898 409h2M879 454h2M904 419h2M931 405h2M870 414h2M873 445h2M889 403h2M882 380h2M901 430h2M914 422h2M908 406h2M897 432h2M859 442h2M900 429h2M882 476h2M896 410h2M870 442h2M890 409h2M874 450h2M899 453h2M895 400h2M922 436h2M876 421h2M867 448h2M883 439h2M904 422h2M907 422h2M860 418h2M861 446h2M916 414h2M915 434h2M925 406h2M897 404h2M875 461h2M836 406h2M911 447h2M872 379h2M844 437h2M929 450h2M874 460h2M890 443h2M890 466h2M880 376h2M887 433h2M904 411h2M889 401h2M889 430h2M903 467h2M836 440h2M909 400h2M898 428h2M866 445h2M953 444h2M919 454h2M892 451h2M872 432h2M917 459h2M887 421h2M910 426h2M900 447h2M873 449h2M907 422h2M859 413h2M895 450h2M837 445h2M902 401h2M922 437h2M909 405h2M863 450h2M938 437h2M890 417h2M845 451h2M893 457h2M874 453h2M875 442h2M937 411h2M923 428h2M868 433h2M915 411h2M888 414h2M873 423h2M921 416h2M933 419h2M875 454h2M938 412h2M913 400h2M884 419h2M917 398h2M881 412h2M899 399h2M856 495h2M902 392h2M921 397h2M840 468h2M933 408h2M864 439h2M956 442h2M916 400h2M843 437h2M926 431h2M896 461h2M871 454h2M921 413h2M900 431h2M913 405h2M889 430h2M897 429h2M903 423h2M881 452h2M877 420h2M870 401h2M909 427h2M892 439h2M891 444h2M949 436h2M888 467h2M917 389h2M935 433h2M921 401h2M871 413h2M912 401h2M875 451h2M877 431h2M869 388h2M894 425h2M854 451h2M920 449h2M881 401h2M893 432h2M891 414h2M867 411h2M894 416h2M945 421h2M909 417h2M891 405h2M882 393h2M835 460h2M865 438h2M892 415h2M917 415h2M909 419h2M925 451h2M898 454h2M911 465h2M892 392h2M902 434h2M885 423h2M888 398h2M946 410h2" stroke="#2a3ee0" stroke-width="2" opacity="0.5" fill="none" transform="scale(.5)"/>
<path d="M796 466h2M813 487h2M822 471h2M792 487h2M941 481h2M888 458h2M957 487h2M926 502h2M801 489h2M889 478h2M928 486h2M846 514h2M888 510h2M864 502h2M820 490h2M956 458h2M916 484h2M957 490h2M870 470h2M852 478h2M853 491h2M856 496h2M854 483h2M826 492h2M906 475h2M852 503h2M941 487h2M822 505h2M843 493h2M832 497h2M790 486h2M868 483h2M961 504h2M925 477h2M831 500h2M886 473h2M832 446h2M875 471h2M872 472h2M807 481h2M788 481h2M954 499h2M927 484h2M885 477h2M862 477h2M820 486h2M842 505h2M873 479h2M926 492h2M825 477h2M886 466h2M808 502h2M939 503h2M842 480h2M855 481h2M970 485h2M976 478h2M903 510h2M820 479h2M831 466h2M853 479h2M946 487h2M897 498h2M834 489h2M886 511h2M871 504h2M879 490h2M924 478h2M826 519h2M811 501h2M926 499h2M976 470h2M946 460h2M879 493h2M951 503h2M806 484h2M863 478h2M815 479h2M960 507h2M931 511h2M882 473h2M827 491h2M951 505h2M809 501h2M836 496h2M943 508h2M836 491h2M907 482h2M882 496h2M834 463h2M804 495h2M925 494h2M919 480h2M913 484h2M855 498h2M969 490h2M826 485h2M870 508h2M938 510h2M931 477h2M944 501h2M866 494h2M851 471h2M868 498h2M848 457h2M816 503h2M892 503h2M819 482h2M801 477h2M913 490h2M839 492h2M968 480h2M921 472h2M835 491h2M920 459h2M866 490h2M791 496h2M884 478h2M930 514h2M838 485h2M907 522h2M916 491h2M883 492h2M807 485h2M815 497h2M922 480h2M841 471h2M840 518h2M874 500h2M918 508h2M851 475h2M952 501h2M826 503h2M874 487h2M898 484h2M890 503h2M908 478h2M908 486h2M898 485h2M846 457h2M926 482h2M899 457h2M893 502h2M889 470h2M946 481h2M832 491h2M852 516h2M864 518h2M908 471h2M875 489h2M842 520h2M808 493h2M849 478h2M914 494h2M872 497h2M816 483h2M909 516h2M872 489h2M972 489h2M971 491h2M960 491h2M806 476h2M907 514h2M812 501h2M903 497h2M785 493h2M945 487h2M951 488h2M900 484h2M912 477h2M973 485h2M818 505h2M862 467h2M842 476h2M861 475h2M880 494h2M832 485h2M863 500h2M821 498h2M968 485h2M803 484h2M786 486h2M847 495h2M884 494h2M871 492h2M790 497h2M972 504h2M860 482h2M819 485h2M874 475h2M879 492h2M914 487h2M874 520h2M950 493h2M918 451h2M863 493h2M878 489h2M863 507h2M903 484h2M858 517h2M810 481h2M899 490h2M897 507h2M960 494h2M878 487h2M858 502h2M841 475h2M820 505h2M832 474h2M846 503h2M815 484h2M910 501h2M804 495h2M873 504h2M844 485h2M811 469h2M895 498h2M959 492h2M840 475h2M788 478h2M900 489h2M854 473h2M874 495h2M798 469h2M851 492h2M856 510h2M886 474h2M933 479h2M927 489h2M968 474h2M929 494h2M807 498h2M818 486h2M973 492h2M974 466h2M863 484h2M838 505h2M830 493h2M844 478h2M942 504h2M894 518h2M934 456h2M809 499h2M845 500h2M944 480h2M861 501h2M859 480h2M874 497h2M844 474h2M837 487h2M880 501h2M807 504h2M879 498h2M970 471h2M906 503h2M945 466h2M888 504h2M866 487h2M881 511h2M835 475h2M792 481h2M858 493h2M869 464h2M931 469h2M947 454h2M873 482h2M848 485h2M868 475h2M833 496h2M916 469h2M838 510h2M930 511h2M847 473h2M793 478h2M862 500h2M918 463h2M800 488h2M845 469h2M830 496h2M808 494h2M960 493h2M925 481h2M871 464h2M821 472h2M876 509h2M805 487h2M964 477h2M816 505h2M904 495h2M939 478h2M893 479h2M821 490h2M909 470h2M817 497h2M889 497h2M852 477h2M935 496h2M818 497h2M802 492h2M883 496h2" stroke="#2a3ee0" stroke-width="2" opacity="0.8" fill="none" transform="scale(.5)"/>
<path d="M935 484h2M931 490h2M910 491h2M925 464h2M918 479h2M927 492h2M925 470h2M953 472h2M910 487h2M916 467h2M907 490h2M907 477h2M916 474h2M911 478h2M930 489h2M917 462h2M901 476h2M887 492h2M922 478h2M902 468h2M912 484h2M916 483h2M929 453h2M919 491h2M915 478h2M920 461h2M953 474h2M931 471h2M942 490h2M939 488h2M932 493h2M928 478h2M933 465h2M886 486h2M924 468h2M918 465h2M910 478h2M924 486h2M921 484h2M932 468h2M898 468h2M918 470h2M953 468h2M929 467h2M932 461h2M935 478h2M916 462h2M945 469h2M942 447h2M905 498h2M947 476h2M936 483h2M917 478h2M906 460h2M924 485h2M924 461h2M934 477h2M933 473h2M918 489h2M941 462h2M906 488h2M927 477h2M908 488h2M925 479h2M927 470h2M928 478h2M932 481h2M904 468h2M918 490h2M913 490h2M937 487h2M954 476h2M927 491h2M928 488h2M920 493h2M927 453h2M937 474h2M910 473h2M918 490h2M927 475h2M922 465h2M913 471h2M919 462h2M916 488h2M928 476h2M927 473h2M905 487h2M954 482h2M932 506h2M905 482h2M917 473h2M899 475h2M928 457h2M919 470h2M908 484h2M945 481h2M936 485h2M921 483h2M941 471h2M920 460h2M896 466h2M935 481h2M926 492h2M897 493h2M923 485h2M941 466h2M910 481h2M921 469h2M920 468h2M924 472h2M946 464h2M930 477h2M944 465h2M915 497h2M913 472h2M916 465h2M939 494h2M920 467h2M903 484h2M915 483h2M888 471h2M931 481h2M882 480h2M924 476h2M917 471h2M924 482h2M878 476h2M935 474h2M939 465h2M949 488h2M916 509h2M942 495h2M905 475h2M929 489h2M923 461h2M939 474h2M928 472h2M920 460h2M931 469h2M897 481h2M922 488h2M934 462h2M920 476h2M923 464h2M923 488h2M939 493h2M933 446h2M918 470h2M881 494h2M935 476h2M927 482h2M919 492h2M948 486h2M914 479h2M936 485h2M912 487h2M932 483h2M916 476h2M895 476h2M916 473h2" stroke="#2a3ee0" stroke-width="2" opacity="0.8" fill="none" transform="scale(.5)"/>
<ellipse cx="422.00" cy="210.00" rx="24.00" ry="16.00" fill="url(#g_blue)" opacity="0.7"/>
<ellipse cx="440.00" cy="213.00" rx="12.00" ry="10.00" fill="url(#g_blue)" opacity="0.35"/>
<ellipse cx="423.00" cy="210.00" rx="16.00" ry="12.00" fill="url(#g_cy2)"/>
<ellipse cx="423.00" cy="210.00" rx="10.00" ry="8.00" fill="url(#g_gr2)"/>
<ellipse cx="420.00" cy="243.00" rx="14.00" ry="6.50" fill="url(#g_blue)" opacity="0.4"/>
<ellipse cx="445.00" cy="244.00" rx="10.00" ry="5.00" fill="url(#g_blue)" opacity="0.3"/>
<ellipse cx="461.50" cy="238.00" rx="8.00" ry="7.00" fill="url(#g_cy2)"/>
<ellipse cx="461.50" cy="238.00" rx="5.00" ry="4.50" fill="url(#g_gr2)"/>
<text x="395.0" y="194.0" font-size="5" class="nb">72.8</text>
<text x="487.0" y="194.0" font-size="5" class="nb" text-anchor="end">4.21</text>
<text x="395.0" y="276.0" font-size="5" class="nb">5.72</text>
<text x="487.0" y="276.0" font-size="5" class="nb" text-anchor="end">16.6</text>
<line x1="384.00" y1="308.00" x2="397.00" y2="308.00" stroke="#000" stroke-width="2.1"/>
<text x="432.0" y="311.0" font-size="10.5" class="sb" text-anchor="middle" textLength="62" lengthAdjust="spacingAndGlyphs">PKH<tspan dy="-3.99" font-size="6.51">26</tspan><tspan dy="3.99">-PCL</tspan><tspan dy="-3.99" font-size="6.51">red</tspan></text>
<line x1="467.40" y1="308.00" x2="492.50" y2="308.00" stroke="#000" stroke-width="2.1"/>
<path d="M498.00,308.00 L492.00,311.00 L492.00,305.00 Z" fill="#000"/>
<text x="2.0" y="337.0" font-size="11.5" class="nb">C</text>
<text x="173.0" y="334.0" font-size="9.5" class="sb" textLength="139" lengthAdjust="spacingAndGlyphs">Gated on CD11b<tspan dy="-3.61" font-size="5.89">high</tspan><tspan dy="3.61">F4/80</tspan><tspan dy="-3.61" font-size="5.89">high</tspan><tspan dy="3.61"> Mφs</tspan></text>
<rect x="19.25" y="359.50" width="72.75" height="72.50" fill="none" stroke="#888" stroke-width="0.6"/>
<line x1="58.00" y1="359.50" x2="58.00" y2="432.00" stroke="#333" stroke-width="1"/>
<line x1="19.25" y1="386.25" x2="92.00" y2="386.25" stroke="#333" stroke-width="1"/>
<path d="M19.2,359.5V432.0H92.0M17.4,431.0h1.8M17.4,417.9h1.8M17.4,404.8h1.8M17.4,391.7h1.8M17.4,378.6h1.8M17.4,365.5h1.8M26.8,432.0v1.8M41.8,432.0v1.8M56.9,432.0v1.8M71.9,432.0v1.8M87.0,432.0v1.8" stroke="#444" stroke-width="0.6" fill="none"/>
<path d="M18.2,427.1h1M18.2,424.7h1M18.2,423.1h1M18.2,421.8h1M18.2,420.8h1M18.2,414.0h1M18.2,411.6h1M18.2,410.0h1M18.2,408.7h1M18.2,407.7h1M18.2,400.9h1M18.2,398.5h1M18.2,396.9h1M18.2,395.6h1M18.2,394.6h1M18.2,387.8h1M18.2,385.4h1M18.2,383.8h1M18.2,382.5h1M18.2,381.5h1M18.2,374.7h1M18.2,372.3h1M18.2,370.7h1M18.2,369.4h1M18.2,368.4h1M31.3,432.0v1M34.0,432.0v1M35.8,432.0v1M37.3,432.0v1M38.5,432.0v1M46.3,432.0v1M49.0,432.0v1M50.9,432.0v1M52.4,432.0v1M53.6,432.0v1M61.4,432.0v1M64.1,432.0v1M65.9,432.0v1M67.4,432.0v1M68.6,432.0v1M76.5,432.0v1M79.2,432.0v1M81.0,432.0v1M82.5,432.0v1M83.7,432.0v1" stroke="#999" stroke-width="0.4" fill="none"/>
<text x="16.9" y="432.2" font-size="3.3" class="nr" text-anchor="end" fill="#777">10<tspan dy="-1.25" font-size="2.05">0</tspan></text>
<text x="16.9" y="419.1" font-size="3.3" class="nr" text-anchor="end" fill="#777">10<tspan dy="-1.25" font-size="2.05">1</tspan></text>
<text x="16.9" y="406.0" font-size="3.3" class="nr" text-anchor="end" fill="#777">10<tspan dy="-1.25" font-size="2.05">2</tspan></text>
<text x="16.9" y="392.9" font-size="3.3" class="nr" text-anchor="end" fill="#777">10<tspan dy="-1.25" font-size="2.05">3</tspan></text>
<text x="16.9" y="379.8" font-size="3.3" class="nr" text-anchor="end" fill="#777">10<tspan dy="-1.25" font-size="2.05">4</tspan></text>
<text x="16.9" y="366.7" font-size="3.3" class="nr" text-anchor="end" fill="#777">10<tspan dy="-1.25" font-size="2.05">5</tspan></text>
<text x="26.8" y="438.6" font-size="3.3" class="nr" text-anchor="middle" fill="#777">10<tspan dy="-1.25" font-size="2.05">1</tspan></text>
<text x="41.8" y="438.6" font-size="3.3" class="nr" text-anchor="middle" fill="#777">10<tspan dy="-1.25" font-size="2.05">2</tspan></text>
<text x="56.9" y="438.6" font-size="3.3" class="nr" text-anchor="middle" fill="#777">10<tspan dy="-1.25" font-size="2.05">3</tspan></text>
<text x="71.9" y="438.6" font-size="3.3" class="nr" text-anchor="middle" fill="#777">10<tspan dy="-1.25" font-size="2.05">4</tspan></text>
<text x="87.0" y="438.6" font-size="3.3" class="nr" text-anchor="middle" fill="#777">10<tspan dy="-1.25" font-size="2.05">5</tspan></text>
<path d="M147 733h2M146 740h2M143 734h2M141 744h2M152 736h2M134 738h2M125 755h2M148 732h2M150 730h2M141 736h2M135 733h2M154 726h2M150 748h2M159 735h2M161 739h2M152 732h2M131 758h2M155 727h2M139 758h2M145 752h2M136 750h2M146 734h2M163 731h2M161 733h2M147 740h2M138 741h2M128 739h2M151 731h2M141 748h2M153 728h2M157 733h2M139 753h2M140 765h2M152 745h2M143 740h2M122 780h2M158 730h2M171 725h2M164 726h2M143 726h2M151 740h2M164 731h2M127 738h2M136 750h2M129 764h2M130 754h2M169 728h2M149 722h2M138 755h2M165 745h2M149 745h2M129 764h2M136 762h2M140 751h2M150 739h2M145 730h2M150 733h2M150 727h2M154 739h2M147 735h2M160 737h2M163 734h2M151 753h2M138 742h2M162 731h2M142 741h2M147 733h2M143 742h2M138 761h2M128 760h2M146 732h2M143 733h2M147 746h2M153 740h2M133 753h2M154 751h2M155 728h2M157 753h2M128 773h2M147 735h2M158 743h2M134 767h2M146 722h2M149 743h2M148 736h2M144 743h2M145 732h2M157 725h2M151 740h2M126 750h2M119 759h2M130 750h2M131 759h2M135 750h2M144 746h2M133 762h2M154 730h2M145 738h2M130 748h2M129 761h2M138 753h2M150 728h2M150 724h2M148 742h2M161 726h2M143 734h2M142 744h2M145 750h2M132 753h2M155 731h2M167 730h2M138 757h2M144 743h2M141 747h2M147 739h2M150 735h2M157 751h2M136 744h2M140 743h2M144 757h2M149 737h2M136 755h2M135 753h2M141 734h2M145 751h2M152 732h2M138 724h2M144 729h2M164 735h2M152 742h2M138 734h2M162 726h2M142 728h2M156 734h2M145 746h2M142 744h2M156 741h2M158 726h2M142 733h2M158 733h2M128 744h2M138 735h2M158 728h2M138 754h2M138 746h2M155 727h2M148 727h2M144 759h2M146 731h2M133 729h2M160 722h2M147 730h2M152 755h2M150 743h2M129 744h2M154 737h2M141 745h2M141 742h2M157 740h2M144 737h2M154 736h2M153 730h2M141 745h2M142 732h2M143 722h2M142 745h2M140 732h2M137 738h2M144 745h2M142 734h2M159 735h2M139 737h2M127 744h2M144 755h2M139 747h2M135 749h2M149 724h2M153 734h2M158 730h2M157 727h2M126 765h2M138 728h2M161 740h2M154 740h2M124 761h2M136 739h2M152 738h2M143 746h2M135 749h2M134 744h2M150 745h2M144 736h2M129 731h2M159 730h2M148 740h2M140 743h2M158 722h2M142 737h2M142 726h2M149 757h2M134 748h2M125 753h2M142 738h2M141 737h2M148 740h2M134 744h2M150 741h2M160 733h2M156 742h2M160 739h2M142 740h2M140 762h2M150 726h2M140 758h2M154 737h2M155 744h2M141 747h2M141 748h2M144 747h2M138 752h2M133 758h2M139 749h2M140 739h2M148 742h2" stroke="#ff4a4a" stroke-width="2" opacity="0.5" fill="none" transform="scale(.5)"/>
<ellipse cx="73.00" cy="369.00" rx="6.32" ry="12.65" fill="url(#g_R)" transform="rotate(35 73.00 369.00)"/>
<ellipse cx="75.31" cy="365.70" rx="4.40" ry="6.90" fill="url(#g_R)" transform="rotate(35 75.31 365.70)"/>
<text x="57.2" y="354.0" font-size="7.5" class="sb" text-anchor="middle">Day 0</text>
<text x="22.2" y="366.0" font-size="5.5" class="sb">0</text>
<text x="90.0" y="366.0" font-size="5.5" class="sb" text-anchor="end">99.9</text>
<text x="22.2" y="429.5" font-size="5.5" class="sb">0</text>
<text x="90.0" y="429.5" font-size="5.5" class="sb" text-anchor="end">0. 07</text>
<rect x="102.10" y="360.30" width="71.90" height="71.90" fill="none" stroke="#888" stroke-width="0.6"/>
<line x1="135.80" y1="360.30" x2="135.80" y2="432.20" stroke="#333" stroke-width="1"/>
<line x1="102.10" y1="383.50" x2="174.00" y2="383.50" stroke="#333" stroke-width="1"/>
<path d="M102.1,360.3V432.2H174.0M100.3,431.2h1.8M100.3,418.2h1.8M100.3,405.2h1.8M100.3,392.3h1.8M100.3,379.3h1.8M100.3,366.3h1.8M109.6,432.2v1.8M124.4,432.2v1.8M139.3,432.2v1.8M154.2,432.2v1.8M169.0,432.2v1.8" stroke="#444" stroke-width="0.6" fill="none"/>
<path d="M101.1,427.3h1M101.1,425.0h1M101.1,423.4h1M101.1,422.1h1M101.1,421.1h1M101.1,414.3h1M101.1,412.0h1M101.1,410.4h1M101.1,409.1h1M101.1,408.1h1M101.1,401.3h1M101.1,399.0h1M101.1,397.5h1M101.1,396.2h1M101.1,395.1h1M101.1,388.4h1M101.1,386.0h1M101.1,384.5h1M101.1,383.2h1M101.1,382.1h1M101.1,375.4h1M101.1,373.0h1M101.1,371.5h1M101.1,370.2h1M101.1,369.2h1M114.1,432.2v1M116.7,432.2v1M118.5,432.2v1M120.0,432.2v1M121.2,432.2v1M128.9,432.2v1M131.6,432.2v1M133.4,432.2v1M134.8,432.2v1M136.0,432.2v1M143.8,432.2v1M146.4,432.2v1M148.2,432.2v1M149.7,432.2v1M150.9,432.2v1M158.6,432.2v1M161.3,432.2v1M163.1,432.2v1M164.5,432.2v1M165.7,432.2v1" stroke="#999" stroke-width="0.4" fill="none"/>
<text x="99.7" y="432.4" font-size="3.3" class="nr" text-anchor="end" fill="#777">10<tspan dy="-1.25" font-size="2.05">0</tspan></text>
<text x="99.7" y="419.4" font-size="3.3" class="nr" text-anchor="end" fill="#777">10<tspan dy="-1.25" font-size="2.05">1</tspan></text>
<text x="99.7" y="406.4" font-size="3.3" class="nr" text-anchor="end" fill="#777">10<tspan dy="-1.25" font-size="2.05">2</tspan></text>
<text x="99.7" y="393.4" font-size="3.3" class="nr" text-anchor="end" fill="#777">10<tspan dy="-1.25" font-size="2.05">3</tspan></text>
<text x="99.7" y="380.4" font-size="3.3" class="nr" text-anchor="end" fill="#777">10<tspan dy="-1.25" font-size="2.05">4</tspan></text>
<text x="99.7" y="367.5" font-size="3.3" class="nr" text-anchor="end" fill="#777">10<tspan dy="-1.25" font-size="2.05">5</tspan></text>
<text x="109.6" y="438.8" font-size="3.3" class="nr" text-anchor="middle" fill="#777">10<tspan dy="-1.25" font-size="2.05">1</tspan></text>
<text x="124.4" y="438.8" font-size="3.3" class="nr" text-anchor="middle" fill="#777">10<tspan dy="-1.25" font-size="2.05">2</tspan></text>
<text x="139.3" y="438.8" font-size="3.3" class="nr" text-anchor="middle" fill="#777">10<tspan dy="-1.25" font-size="2.05">3</tspan></text>
<text x="154.2" y="438.8" font-size="3.3" class="nr" text-anchor="middle" fill="#777">10<tspan dy="-1.25" font-size="2.05">4</tspan></text>
<text x="169.0" y="438.8" font-size="3.3" class="nr" text-anchor="middle" fill="#777">10<tspan dy="-1.25" font-size="2.05">5</tspan></text>
<path d="M316 803h2M309 807h2M312 785h2M286 814h2M281 803h2M302 803h2M299 808h2M289 804h2M288 789h2M300 780h2M294 803h2M292 782h2M291 805h2M301 833h2M302 788h2M292 835h2M292 822h2M311 793h2M321 772h2M293 786h2M297 800h2M312 791h2M327 774h2M289 844h2M291 809h2M277 853h2M308 794h2M311 765h2M285 806h2M275 771h2M296 818h2M313 790h2M307 769h2M291 780h2M332 769h2M276 815h2M292 818h2M287 829h2M294 796h2M299 805h2M275 778h2M290 803h2M279 783h2M282 802h2M286 807h2M302 783h2M294 776h2M293 812h2M285 765h2M302 794h2M292 806h2M297 815h2M294 759h2M288 792h2M287 804h2M287 820h2M285 796h2M282 833h2M283 778h2M286 810h2M295 795h2M279 759h2M292 793h2M318 809h2M297 816h2M285 775h2M284 823h2M310 790h2M273 811h2M313 782h2M319 789h2M305 796h2M291 787h2M302 810h2M306 795h2M275 833h2M319 799h2M273 821h2M296 799h2M305 806h2M290 833h2M280 797h2M291 802h2M329 797h2M305 811h2M300 790h2M302 804h2M312 816h2M293 746h2M314 810h2M298 788h2M326 827h2M297 792h2M298 823h2M299 816h2M297 805h2M275 797h2M295 797h2M290 803h2M286 793h2M285 775h2M287 789h2M286 753h2M315 820h2M287 807h2M283 767h2M297 809h2M284 796h2M309 804h2M295 808h2M275 799h2M291 764h2M308 797h2M302 835h2M274 772h2M305 825h2M299 805h2M302 811h2M273 808h2M310 794h2M282 787h2M284 806h2M305 800h2M295 767h2M291 780h2M285 803h2M286 859h2M283 787h2M278 791h2M287 815h2M305 791h2M283 800h2M302 797h2M292 798h2M277 800h2M302 800h2M277 795h2M291 803h2M285 811h2M307 815h2M294 820h2M294 795h2M273 795h2M315 785h2M309 778h2M293 830h2M298 778h2M299 796h2M307 791h2M299 817h2M298 799h2M305 796h2M287 801h2M311 792h2M303 788h2M283 799h2M277 780h2M278 785h2M274 835h2M303 801h2M281 754h2M302 788h2M310 794h2M277 784h2M276 770h2M306 791h2M306 790h2M292 788h2M288 785h2M316 801h2M309 820h2M293 795h2M287 799h2M301 799h2M285 780h2M313 831h2M278 784h2M292 808h2M291 802h2M296 818h2M299 808h2M288 808h2M302 811h2M292 814h2M296 786h2M330 816h2M306 792h2M287 816h2M295 829h2M315 783h2M303 795h2M291 788h2M321 800h2M291 804h2M288 796h2M285 790h2M295 820h2M299 816h2M279 801h2M297 815h2M285 793h2M283 816h2M311 793h2M291 801h2M281 794h2M304 813h2M286 785h2M296 773h2M298 801h2M275 791h2M285 792h2M277 819h2M277 808h2M293 823h2M293 798h2M300 767h2M330 801h2M292 779h2M287 824h2M281 803h2M306 816h2M293 768h2M298 809h2M290 790h2M324 777h2M288 787h2M278 817h2M302 773h2M279 779h2M290 805h2M285 792h2M305 797h2M306 790h2" stroke="#2a2ad0" stroke-width="2" opacity="0.6" fill="none" transform="scale(.5)"/>
<path d="M284 839h2M285 824h2M283 831h2M276 823h2M275 836h2M286 821h2M288 827h2M285 830h2M297 830h2M310 816h2M295 845h2M297 836h2M292 822h2M301 826h2M280 824h2M286 832h2M278 820h2M285 839h2M290 834h2M286 823h2M282 825h2M292 827h2M306 830h2M293 830h2M286 825h2M299 833h2M290 831h2M289 836h2M302 830h2M295 834h2M283 829h2M299 828h2M297 834h2M285 824h2M278 818h2M278 826h2M291 832h2M286 832h2M296 839h2M298 835h2M291 825h2M294 825h2M292 826h2M278 835h2M284 834h2M292 814h2M298 833h2M277 832h2M280 818h2M298 828h2M296 831h2M284 828h2M277 833h2M294 833h2M288 835h2M305 824h2" stroke="#4a4ae0" stroke-width="2" opacity="0.45" fill="none" transform="scale(.5)"/>
<ellipse cx="147.00" cy="397.00" rx="11.00" ry="12.10" fill="url(#g_B)" transform="rotate(10 147.00 397.00)"/>
<ellipse cx="147.00" cy="397.00" rx="7.00" ry="7.70" fill="url(#g_B)" transform="rotate(10 147.00 397.00)"/>
<path d="M296 767h2M299 745h2M282 762h2M285 748h2M303 764h2M305 737h2M322 741h2M294 733h2M285 744h2M282 755h2M320 726h2M305 733h2M279 759h2M290 746h2M289 752h2M286 771h2M296 733h2M311 730h2M308 754h2M295 735h2M321 746h2M309 732h2M310 740h2M319 741h2M285 744h2M300 753h2M304 737h2M298 739h2M291 752h2M294 755h2M317 754h2M294 751h2M321 756h2M297 775h2M289 746h2M310 757h2M273 779h2M275 780h2M302 735h2M291 758h2M299 759h2M310 756h2M298 743h2M310 736h2M311 738h2M315 742h2M301 755h2M296 756h2M287 753h2M308 741h2M299 775h2M292 753h2M285 774h2M311 752h2M316 729h2M292 761h2M290 754h2M309 741h2M278 755h2M312 772h2M308 725h2M294 758h2M346 723h2M312 762h2M297 754h2M303 741h2M333 730h2M293 754h2M292 734h2M307 763h2M297 762h2M298 754h2M299 739h2M332 742h2M318 728h2M309 732h2M290 742h2M288 748h2M296 752h2M286 766h2M327 724h2M325 744h2M297 751h2M294 742h2M336 733h2M296 729h2M318 728h2M273 745h2M323 731h2M307 750h2M321 729h2M294 753h2M281 782h2M307 751h2M300 734h2M294 752h2M342 725h2M294 739h2M303 760h2M303 765h2M309 776h2M284 772h2M306 736h2M291 744h2M292 764h2M303 766h2M314 752h2M285 751h2M290 773h2M307 739h2M294 750h2M304 744h2M308 745h2M313 741h2M295 732h2M326 748h2M289 773h2M294 747h2M278 740h2M310 760h2M296 725h2M295 744h2M310 743h2M311 733h2M303 754h2M311 742h2M309 746h2M306 747h2M312 727h2M302 724h2M317 729h2M276 780h2M327 739h2M310 737h2M328 731h2M301 752h2M300 757h2M313 731h2M309 747h2M287 764h2M277 771h2M329 731h2M281 761h2M282 761h2M300 741h2M331 731h2M309 741h2M279 773h2M324 731h2M315 747h2M287 765h2M286 759h2M316 735h2M319 725h2M308 757h2M324 737h2M325 735h2M304 749h2M293 748h2M314 735h2M315 723h2M309 759h2M290 755h2M312 724h2M282 773h2M302 751h2M336 736h2M339 752h2M320 727h2M297 735h2M332 750h2M294 747h2M298 736h2M304 741h2M300 742h2M296 728h2M313 728h2M283 785h2M320 740h2M305 764h2M288 750h2M290 751h2M292 770h2M296 738h2M319 729h2M295 760h2M300 730h2M275 760h2M303 737h2M294 769h2M341 726h2M332 726h2M303 737h2M284 763h2M302 745h2M299 757h2M330 725h2M301 755h2M307 750h2M323 731h2M327 737h2M297 771h2M306 742h2M312 748h2M290 743h2M300 732h2M303 771h2M300 743h2M298 742h2M282 747h2M311 738h2M306 737h2M305 736h2M302 766h2M300 755h2M302 768h2M300 753h2M303 749h2M305 752h2M304 758h2M291 754h2M310 742h2M305 738h2M306 738h2M285 763h2M301 742h2M303 734h2M308 743h2M299 733h2M325 744h2M288 762h2M304 733h2" stroke="#ff4a4a" stroke-width="2" opacity="0.5" fill="none" transform="scale(.5)"/>
<ellipse cx="151.00" cy="373.50" rx="7.47" ry="16.50" fill="url(#g_R)" transform="rotate(44 151.00 373.50)"/>
<ellipse cx="154.65" cy="369.72" rx="5.20" ry="9.00" fill="url(#g_R)" transform="rotate(44 154.65 369.72)"/>
<text x="139.5" y="354.0" font-size="7.5" class="sb" text-anchor="middle">Day 3</text>
<text x="105.1" y="366.8" font-size="5.5" class="sb">0</text>
<text x="172.0" y="366.8" font-size="5.5" class="sb" text-anchor="end">28.6</text>
<text x="105.1" y="429.7" font-size="5.5" class="sb">0</text>
<text x="172.0" y="429.7" font-size="5.5" class="sb" text-anchor="end">71.4</text>
<rect x="183.80" y="360.30" width="71.20" height="71.90" fill="none" stroke="#888" stroke-width="0.6"/>
<line x1="219.00" y1="360.30" x2="219.00" y2="432.20" stroke="#333" stroke-width="1"/>
<line x1="183.80" y1="390.70" x2="255.00" y2="390.70" stroke="#333" stroke-width="1"/>
<path d="M183.8,360.3V432.2H255.0M182.0,431.2h1.8M182.0,418.2h1.8M182.0,405.2h1.8M182.0,392.3h1.8M182.0,379.3h1.8M182.0,366.3h1.8M191.3,432.2v1.8M206.0,432.2v1.8M220.7,432.2v1.8M235.3,432.2v1.8M250.0,432.2v1.8" stroke="#444" stroke-width="0.6" fill="none"/>
<path d="M182.8,427.3h1M182.8,425.0h1M182.8,423.4h1M182.8,422.1h1M182.8,421.1h1M182.8,414.3h1M182.8,412.0h1M182.8,410.4h1M182.8,409.1h1M182.8,408.1h1M182.8,401.3h1M182.8,399.0h1M182.8,397.5h1M182.8,396.2h1M182.8,395.1h1M182.8,388.4h1M182.8,386.0h1M182.8,384.5h1M182.8,383.2h1M182.8,382.1h1M182.8,375.4h1M182.8,373.0h1M182.8,371.5h1M182.8,370.2h1M182.8,369.2h1M195.7,432.2v1M198.3,432.2v1M200.1,432.2v1M201.6,432.2v1M202.7,432.2v1M210.4,432.2v1M213.0,432.2v1M214.8,432.2v1M216.2,432.2v1M217.4,432.2v1M225.1,432.2v1M227.7,432.2v1M229.5,432.2v1M230.9,432.2v1M232.1,432.2v1M239.7,432.2v1M242.4,432.2v1M244.1,432.2v1M245.6,432.2v1M246.8,432.2v1" stroke="#999" stroke-width="0.4" fill="none"/>
<text x="181.4" y="432.4" font-size="3.3" class="nr" text-anchor="end" fill="#777">10<tspan dy="-1.25" font-size="2.05">0</tspan></text>
<text x="181.4" y="419.4" font-size="3.3" class="nr" text-anchor="end" fill="#777">10<tspan dy="-1.25" font-size="2.05">1</tspan></text>
<text x="181.4" y="406.4" font-size="3.3" class="nr" text-anchor="end" fill="#777">10<tspan dy="-1.25" font-size="2.05">2</tspan></text>
<text x="181.4" y="393.4" font-size="3.3" class="nr" text-anchor="end" fill="#777">10<tspan dy="-1.25" font-size="2.05">3</tspan></text>
<text x="181.4" y="380.4" font-size="3.3" class="nr" text-anchor="end" fill="#777">10<tspan dy="-1.25" font-size="2.05">4</tspan></text>
<text x="181.4" y="367.5" font-size="3.3" class="nr" text-anchor="end" fill="#777">10<tspan dy="-1.25" font-size="2.05">5</tspan></text>
<text x="191.3" y="438.8" font-size="3.3" class="nr" text-anchor="middle" fill="#777">10<tspan dy="-1.25" font-size="2.05">1</tspan></text>
<text x="206.0" y="438.8" font-size="3.3" class="nr" text-anchor="middle" fill="#777">10<tspan dy="-1.25" font-size="2.05">2</tspan></text>
<text x="220.7" y="438.8" font-size="3.3" class="nr" text-anchor="middle" fill="#777">10<tspan dy="-1.25" font-size="2.05">3</tspan></text>
<text x="235.3" y="438.8" font-size="3.3" class="nr" text-anchor="middle" fill="#777">10<tspan dy="-1.25" font-size="2.05">4</tspan></text>
<text x="250.0" y="438.8" font-size="3.3" class="nr" text-anchor="middle" fill="#777">10<tspan dy="-1.25" font-size="2.05">5</tspan></text>
<path d="M486 838h2M452 813h2M459 813h2M463 804h2M462 783h2M452 840h2M462 797h2M458 831h2M442 783h2M452 801h2M458 798h2M459 812h2M447 796h2M445 815h2M460 823h2M450 798h2M440 815h2M468 820h2M464 815h2M460 829h2M468 852h2M454 827h2M466 819h2M463 785h2M471 793h2M453 792h2M466 791h2M462 822h2M460 803h2M462 837h2M455 788h2M453 792h2M456 807h2M450 801h2M441 769h2M447 814h2M470 774h2M458 841h2M453 828h2M463 792h2M469 799h2M462 802h2M455 813h2M475 777h2M446 811h2M468 807h2M455 820h2M476 793h2M442 803h2M468 784h2M468 830h2M468 794h2M443 822h2M460 824h2M449 749h2M468 831h2M455 810h2M461 825h2M457 799h2M446 830h2M465 742h2M463 799h2M446 799h2M445 800h2M451 820h2M451 773h2M454 782h2M466 807h2M442 791h2M458 809h2M459 830h2M470 808h2M445 801h2M466 792h2M473 792h2M445 826h2M456 816h2M455 810h2M449 847h2M465 808h2M461 827h2M452 813h2M461 799h2M450 805h2M456 802h2M465 812h2M474 829h2M455 796h2M464 803h2M441 811h2M455 805h2M464 814h2M480 797h2M456 816h2M454 799h2M479 782h2M465 775h2M465 772h2M444 832h2M474 814h2M462 788h2M457 783h2M457 808h2M458 826h2M455 765h2M448 784h2M455 801h2M455 837h2M460 788h2M456 792h2M454 821h2M445 823h2M474 842h2M475 813h2M440 849h2M457 815h2M456 791h2M467 783h2M443 820h2M456 793h2M461 839h2M455 807h2M462 829h2M468 824h2M450 820h2M461 776h2M470 823h2M472 810h2M466 809h2M458 828h2M458 822h2M455 834h2M468 778h2M475 820h2M454 797h2M479 814h2M462 822h2M449 844h2M481 796h2M473 779h2M454 811h2M458 821h2M462 818h2M456 816h2M449 849h2M456 835h2M459 807h2M458 784h2M479 820h2M460 801h2M472 805h2M454 799h2M474 818h2M458 797h2M471 817h2M453 828h2M469 791h2M468 833h2M458 783h2M470 804h2M456 804h2M454 826h2M446 820h2M468 832h2M465 816h2M456 807h2M446 842h2M459 790h2M464 841h2M461 804h2M445 822h2M457 797h2M467 785h2M470 763h2M454 781h2M454 826h2M442 836h2M452 800h2M470 797h2M473 807h2M459 791h2M470 810h2M455 791h2M452 808h2M449 825h2M459 798h2M460 839h2M469 814h2M469 780h2M449 829h2M457 811h2M464 818h2M464 801h2M453 836h2M456 781h2M453 827h2M476 815h2M451 821h2M459 834h2M462 825h2M463 819h2M449 806h2M472 838h2M467 819h2M456 817h2M453 831h2M456 795h2M452 792h2M459 846h2M466 804h2M465 794h2M456 810h2M457 825h2M460 848h2M467 805h2M462 794h2M453 803h2M470 797h2M444 789h2M446 805h2M457 787h2M451 801h2M461 822h2M472 806h2M465 812h2M448 797h2M481 809h2M474 828h2M476 808h2M468 805h2M449 786h2M466 779h2M464 793h2M464 784h2M467 806h2M445 781h2M462 778h2M461 820h2M449 837h2M472 818h2M462 820h2M453 836h2M457 760h2M458 819h2M469 789h2M474 795h2M464 825h2M458 832h2M450 850h2M464 802h2M485 812h2M440 836h2" stroke="#2a2ad0" stroke-width="2" opacity="0.6" fill="none" transform="scale(.5)"/>
<path d="M461 843h2M440 852h2M455 836h2M447 843h2M449 861h2M440 856h2M448 848h2M451 837h2M447 855h2M452 834h2M441 845h2M451 851h2M446 825h2M449 839h2M462 845h2M447 853h2M458 852h2M444 862h2M455 827h2M447 839h2M456 850h2M456 848h2M453 839h2M441 845h2M450 850h2M449 839h2M450 851h2M465 841h2M452 855h2M448 845h2M444 858h2M463 854h2M445 852h2M454 844h2M451 854h2M445 851h2M443 827h2M448 845h2M448 845h2M447 851h2M444 849h2M452 829h2M452 847h2M463 829h2M454 839h2M451 840h2M451 837h2M463 831h2M440 843h2M465 842h2M450 831h2M439 853h2M450 854h2M451 847h2M451 834h2M443 855h2" stroke="#4a4ae0" stroke-width="2" opacity="0.45" fill="none" transform="scale(.5)"/>
<ellipse cx="229.00" cy="403.00" rx="7.70" ry="14.30" fill="url(#g_B)" transform="rotate(5 229.00 403.00)"/>
<ellipse cx="229.00" cy="403.00" rx="4.90" ry="9.10" fill="url(#g_B)" transform="rotate(5 229.00 403.00)"/>
<path d="M463 750h2M482 758h2M478 745h2M494 738h2M475 750h2M466 759h2M470 773h2M473 763h2M448 771h2M476 767h2M477 751h2M448 764h2M445 783h2M474 755h2M463 752h2M464 741h2M483 754h2M483 758h2M480 738h2M470 743h2M440 781h2M474 753h2M460 748h2M469 731h2M447 789h2M450 755h2M459 744h2M476 739h2M477 769h2M476 741h2M486 738h2M482 749h2M472 748h2M462 775h2M473 734h2M474 777h2M474 777h2M454 782h2M467 742h2M459 763h2M463 746h2M464 745h2M466 776h2M443 796h2M459 757h2M447 769h2M465 756h2M478 758h2M469 739h2M456 758h2M460 759h2M461 738h2M481 767h2M456 773h2M456 780h2M452 761h2M454 760h2M473 789h2M458 756h2M479 741h2M480 734h2M467 772h2M460 764h2M488 759h2M451 750h2M472 736h2M466 774h2M457 784h2M467 742h2M444 747h2M466 752h2M459 752h2M482 745h2M474 752h2M466 754h2M475 768h2M472 758h2M443 760h2M467 754h2M479 723h2M462 791h2M498 726h2M484 734h2M472 742h2M471 736h2M457 764h2M472 775h2M469 750h2M466 751h2M465 746h2M477 752h2M463 747h2M470 751h2M459 764h2M477 734h2M479 742h2M466 770h2M469 760h2M460 743h2M463 764h2M461 745h2M455 749h2M468 755h2M474 772h2M472 741h2M457 764h2M480 747h2M471 744h2M472 758h2M471 733h2M491 733h2M489 751h2M469 766h2M464 776h2M465 750h2M471 766h2M469 736h2M454 751h2M461 756h2M472 749h2M463 764h2M466 733h2M469 769h2M464 733h2M472 771h2M457 770h2M465 783h2M469 723h2M465 749h2M463 755h2M469 778h2M476 756h2M477 767h2M470 753h2M459 768h2M488 758h2M449 765h2M479 736h2M476 756h2M457 755h2M451 765h2M482 767h2M471 752h2M475 756h2M463 782h2M484 739h2M476 750h2M461 771h2M461 753h2M487 743h2M460 764h2M457 769h2M472 751h2M462 770h2M480 750h2M458 752h2M484 727h2M475 755h2M480 750h2M486 737h2M461 730h2M470 762h2M452 747h2M458 785h2M469 764h2M452 752h2M455 739h2M474 733h2M461 745h2M479 743h2M464 766h2M450 786h2M473 738h2M443 763h2M475 752h2M472 751h2M475 756h2M471 752h2M484 732h2M465 765h2M490 747h2M460 769h2M468 739h2M452 790h2M468 773h2M454 760h2M489 735h2M470 749h2M489 724h2M474 755h2M457 734h2M469 762h2M490 725h2M457 777h2M450 757h2M457 759h2M484 724h2M448 770h2M456 773h2M462 769h2M463 754h2M457 766h2M453 769h2M492 737h2M462 761h2M471 780h2M480 745h2M466 760h2M447 765h2M470 766h2M469 761h2M462 737h2M478 750h2M465 759h2M466 757h2M472 754h2M462 743h2M482 744h2M469 759h2M475 738h2M454 766h2M459 755h2M467 756h2M502 726h2M477 754h2M472 739h2M468 753h2M446 777h2M464 747h2M457 749h2M461 773h2M480 747h2M482 757h2M464 789h2M475 732h2M459 780h2M461 773h2M464 770h2M481 752h2M458 744h2M473 728h2M460 764h2M483 740h2M452 774h2" stroke="#ff4a4a" stroke-width="2" opacity="0.5" fill="none" transform="scale(.5)"/>
<ellipse cx="234.00" cy="376.00" rx="6.90" ry="16.50" fill="url(#g_R)" transform="rotate(28 234.00 376.00)"/>
<ellipse cx="236.46" cy="371.36" rx="4.80" ry="9.00" fill="url(#g_R)" transform="rotate(28 236.46 371.36)"/>
<text x="219.7" y="354.0" font-size="7.5" class="sb" text-anchor="middle">Day 6</text>
<text x="186.8" y="366.8" font-size="5.5" class="sb">0</text>
<text x="253.0" y="366.8" font-size="5.5" class="sb" text-anchor="end">29.8</text>
<text x="186.8" y="429.7" font-size="5.5" class="sb">0</text>
<text x="253.0" y="429.7" font-size="5.5" class="sb" text-anchor="end">70.2</text>
<rect x="267.00" y="359.60" width="72.00" height="72.60" fill="none" stroke="#888" stroke-width="0.6"/>
<line x1="298.40" y1="359.60" x2="298.40" y2="432.20" stroke="#333" stroke-width="1"/>
<line x1="267.00" y1="381.50" x2="339.00" y2="381.50" stroke="#333" stroke-width="1"/>
<path d="M267.0,359.6V432.2H339.0M265.2,431.2h1.8M265.2,418.1h1.8M265.2,405.0h1.8M265.2,391.8h1.8M265.2,378.7h1.8M265.2,365.6h1.8M274.5,432.2v1.8M289.4,432.2v1.8M304.2,432.2v1.8M319.1,432.2v1.8M334.0,432.2v1.8" stroke="#444" stroke-width="0.6" fill="none"/>
<path d="M266.0,427.3h1M266.0,424.9h1M266.0,423.3h1M266.0,422.0h1M266.0,421.0h1M266.0,414.1h1M266.0,411.8h1M266.0,410.2h1M266.0,408.9h1M266.0,407.8h1M266.0,401.0h1M266.0,398.7h1M266.0,397.1h1M266.0,395.8h1M266.0,394.7h1M266.0,387.9h1M266.0,385.5h1M266.0,384.0h1M266.0,382.7h1M266.0,381.6h1M266.0,374.8h1M266.0,372.4h1M266.0,370.8h1M266.0,369.5h1M266.0,368.5h1M279.0,432.2v1M281.6,432.2v1M283.4,432.2v1M284.9,432.2v1M286.1,432.2v1M293.8,432.2v1M296.5,432.2v1M298.3,432.2v1M299.8,432.2v1M301.0,432.2v1M308.7,432.2v1M311.4,432.2v1M313.2,432.2v1M314.7,432.2v1M315.9,432.2v1M323.6,432.2v1M326.3,432.2v1M328.1,432.2v1M329.5,432.2v1M330.7,432.2v1" stroke="#999" stroke-width="0.4" fill="none"/>
<text x="264.6" y="432.4" font-size="3.3" class="nr" text-anchor="end" fill="#777">10<tspan dy="-1.25" font-size="2.05">0</tspan></text>
<text x="264.6" y="419.2" font-size="3.3" class="nr" text-anchor="end" fill="#777">10<tspan dy="-1.25" font-size="2.05">1</tspan></text>
<text x="264.6" y="406.1" font-size="3.3" class="nr" text-anchor="end" fill="#777">10<tspan dy="-1.25" font-size="2.05">2</tspan></text>
<text x="264.6" y="393.0" font-size="3.3" class="nr" text-anchor="end" fill="#777">10<tspan dy="-1.25" font-size="2.05">3</tspan></text>
<text x="264.6" y="379.9" font-size="3.3" class="nr" text-anchor="end" fill="#777">10<tspan dy="-1.25" font-size="2.05">4</tspan></text>
<text x="264.6" y="366.8" font-size="3.3" class="nr" text-anchor="end" fill="#777">10<tspan dy="-1.25" font-size="2.05">5</tspan></text>
<text x="274.5" y="438.8" font-size="3.3" class="nr" text-anchor="middle" fill="#777">10<tspan dy="-1.25" font-size="2.05">1</tspan></text>
<text x="289.4" y="438.8" font-size="3.3" class="nr" text-anchor="middle" fill="#777">10<tspan dy="-1.25" font-size="2.05">2</tspan></text>
<text x="304.2" y="438.8" font-size="3.3" class="nr" text-anchor="middle" fill="#777">10<tspan dy="-1.25" font-size="2.05">3</tspan></text>
<text x="319.1" y="438.8" font-size="3.3" class="nr" text-anchor="middle" fill="#777">10<tspan dy="-1.25" font-size="2.05">4</tspan></text>
<text x="334.0" y="438.8" font-size="3.3" class="nr" text-anchor="middle" fill="#777">10<tspan dy="-1.25" font-size="2.05">5</tspan></text>
<path d="M629 799h2M627 746h2M623 799h2M601 794h2M622 790h2M625 808h2M618 788h2M602 811h2M610 797h2M633 807h2M603 789h2M612 763h2M607 801h2M621 789h2M621 772h2M609 788h2M626 787h2M615 798h2M635 772h2M623 796h2M616 796h2M616 770h2M627 791h2M612 805h2M608 779h2M625 808h2M640 786h2M603 765h2M604 793h2M616 780h2M607 779h2M611 812h2M622 816h2M625 806h2M629 801h2M632 813h2M637 798h2M605 835h2M613 801h2M614 780h2M624 773h2M613 816h2M617 806h2M624 799h2M617 803h2M606 801h2M606 778h2M613 768h2M622 804h2M641 797h2M626 780h2M627 773h2M640 777h2M611 805h2M606 795h2M628 796h2M628 784h2M627 755h2M635 782h2M608 791h2M637 782h2M617 786h2M609 769h2M623 805h2M608 795h2M621 799h2M615 793h2M622 774h2M614 806h2M609 814h2M616 773h2M616 768h2M626 765h2M618 788h2M613 799h2M621 783h2M627 785h2M625 816h2M620 808h2M601 800h2M601 788h2M629 746h2M610 778h2M607 791h2M626 773h2M613 759h2M612 755h2M600 799h2M628 779h2M622 779h2M626 823h2M611 783h2M632 821h2M616 803h2M600 785h2M614 789h2M623 765h2M602 828h2M624 801h2M620 764h2M614 765h2M638 800h2M625 796h2M611 812h2M626 804h2M622 805h2M613 799h2M618 788h2M621 830h2M610 812h2M606 788h2M628 792h2M623 771h2M602 820h2M619 791h2M603 773h2M606 790h2M617 781h2M609 793h2M632 769h2M600 810h2M602 784h2M616 824h2M599 740h2M614 810h2M620 778h2M622 757h2M624 818h2M614 806h2M603 816h2M611 778h2M611 761h2M621 827h2M602 787h2M623 783h2M599 796h2M628 795h2M606 786h2M629 812h2M615 799h2M611 794h2M610 794h2M611 795h2M625 792h2M602 799h2M615 783h2M624 778h2M626 803h2M610 779h2M617 776h2M631 754h2M619 786h2M604 802h2M611 799h2M613 787h2M621 809h2M628 793h2M634 788h2M605 758h2M602 776h2M617 791h2M620 790h2M615 786h2M619 773h2M629 820h2M614 831h2M605 807h2M598 801h2M607 809h2M617 809h2M623 802h2M612 819h2M620 801h2M633 789h2M635 813h2M620 767h2M631 788h2M618 794h2M627 804h2M621 795h2M625 803h2M636 781h2M631 800h2M619 804h2M612 804h2M614 804h2M607 812h2M601 779h2M616 796h2M609 784h2M618 810h2M632 785h2M617 787h2M601 783h2M632 770h2M647 812h2M636 797h2M635 784h2M630 806h2M625 806h2M623 804h2M630 801h2M623 800h2M620 777h2M599 773h2M606 765h2M625 787h2M626 847h2M626 785h2M622 789h2M617 828h2M633 816h2M618 823h2M625 808h2M605 780h2M619 788h2M614 757h2M609 789h2M622 774h2M613 823h2M622 758h2M615 792h2M631 797h2M632 799h2M628 817h2M634 797h2M618 861h2M603 794h2M623 780h2M626 790h2M626 796h2M605 809h2M638 810h2M623 762h2M621 792h2M611 758h2M621 809h2M621 832h2M615 817h2M618 775h2M616 800h2M610 778h2M619 808h2M614 800h2M612 786h2M618 809h2M635 791h2M619 827h2M627 787h2" stroke="#2a2ad0" stroke-width="2" opacity="0.6" fill="none" transform="scale(.5)"/>
<path d="M617 813h2M599 811h2M610 810h2M617 822h2M609 824h2M612 813h2M628 813h2M606 829h2M608 822h2M610 826h2M603 831h2M607 836h2M617 808h2M601 814h2M618 811h2M601 831h2M614 818h2M608 824h2M608 819h2M604 823h2M613 839h2M614 812h2M600 820h2M613 819h2M605 819h2M608 829h2M621 806h2M605 824h2M608 830h2M603 818h2M608 818h2M601 827h2M612 828h2M604 815h2M607 826h2M607 819h2M624 831h2M616 803h2M599 834h2M619 816h2M613 827h2M601 827h2M607 819h2M608 825h2M605 824h2M608 825h2M614 819h2M601 819h2M615 829h2M613 818h2M607 810h2M605 818h2M600 818h2M615 809h2M605 823h2M608 830h2M608 821h2" stroke="#4a4ae0" stroke-width="2" opacity="0.45" fill="none" transform="scale(.5)"/>
<ellipse cx="308.50" cy="394.00" rx="8.25" ry="12.65" fill="url(#g_B)" transform="rotate(5 308.50 394.00)"/>
<ellipse cx="308.50" cy="394.00" rx="5.25" ry="8.05" fill="url(#g_B)" transform="rotate(5 308.50 394.00)"/>
<path d="M616 750h2M620 738h2M629 742h2M601 753h2M638 738h2M648 750h2M621 734h2M612 767h2M629 762h2M618 754h2M625 731h2M626 751h2M637 735h2M641 730h2M631 752h2M624 735h2M613 803h2M604 756h2M621 748h2M630 723h2M631 742h2M617 761h2M617 751h2M623 749h2M617 744h2M627 749h2M636 725h2M599 756h2M629 756h2M628 746h2M619 762h2M619 747h2M649 733h2M623 732h2M619 732h2M621 734h2M641 735h2M610 762h2M639 732h2M607 755h2M629 736h2M638 742h2M609 744h2M631 738h2M616 762h2M632 754h2M622 754h2M625 734h2M628 728h2M633 753h2M626 746h2M617 737h2M602 740h2M609 742h2M622 729h2M624 758h2M611 770h2M627 737h2M638 739h2M607 750h2M654 733h2M628 749h2M635 748h2M608 761h2M615 746h2M630 748h2M626 758h2M649 731h2M613 741h2M618 771h2M632 737h2M614 749h2M639 727h2M623 745h2M602 757h2M616 762h2M635 734h2M621 766h2M634 725h2M637 744h2M616 736h2M637 740h2M614 757h2M647 732h2M611 772h2M632 751h2M644 729h2M625 735h2M641 760h2M598 758h2M652 735h2M641 724h2M657 726h2M650 746h2M625 753h2M642 740h2M634 748h2M626 752h2M649 740h2M606 743h2M637 769h2M616 752h2M613 738h2M609 735h2M612 771h2M610 753h2M646 743h2M642 721h2M612 744h2M611 727h2M614 768h2M600 732h2M610 745h2M616 754h2M615 751h2M627 727h2M642 723h2M637 751h2M626 728h2M615 740h2M612 753h2M616 736h2M617 729h2M636 754h2M632 751h2M625 727h2M611 741h2M628 767h2M615 740h2M606 754h2M605 745h2M619 731h2M624 748h2M624 744h2M618 738h2M634 734h2M627 751h2M604 755h2M638 750h2M631 761h2M605 752h2M618 760h2M608 764h2M635 748h2M612 734h2M635 734h2M606 762h2M608 755h2M627 727h2M633 750h2M615 759h2M650 742h2M626 752h2M606 768h2M629 736h2M650 725h2M637 737h2M635 739h2M631 746h2M612 747h2M647 731h2M617 733h2M607 758h2M632 762h2M636 749h2M610 739h2M613 761h2M636 721h2M617 750h2M628 738h2M627 743h2M649 739h2M607 728h2M643 729h2M619 750h2M623 751h2M634 722h2M635 748h2M643 766h2M601 745h2M613 763h2M642 725h2M627 739h2M628 745h2M642 735h2M625 735h2M646 728h2M598 774h2M598 745h2M614 758h2M622 749h2M622 753h2M616 735h2M623 775h2M628 728h2M611 757h2M638 745h2M606 727h2M629 764h2M623 756h2M627 772h2M648 742h2M620 741h2M609 726h2M625 744h2M646 761h2M624 742h2M637 726h2M633 753h2M627 748h2M616 749h2M615 753h2M621 736h2M626 745h2M610 764h2M619 744h2M613 747h2M634 738h2M629 723h2M620 745h2M621 740h2M600 774h2M608 782h2M623 749h2M636 764h2M635 744h2M611 751h2M626 733h2M609 738h2M617 751h2M631 724h2M633 753h2M643 737h2M616 759h2M615 776h2M628 732h2M631 734h2M613 734h2M633 737h2M638 730h2M625 739h2" stroke="#ff4a4a" stroke-width="2" opacity="0.5" fill="none" transform="scale(.5)"/>
<ellipse cx="312.00" cy="372.50" rx="8.62" ry="13.20" fill="url(#g_R)" transform="rotate(42 312.00 372.50)"/>
<ellipse cx="314.81" cy="369.38" rx="6.00" ry="7.20" fill="url(#g_R)" transform="rotate(42 314.81 369.38)"/>
<text x="299.0" y="354.0" font-size="7.5" class="sb" text-anchor="middle">Day 9</text>
<text x="270.0" y="366.1" font-size="5.5" class="sb">0</text>
<text x="337.0" y="366.1" font-size="5.5" class="sb" text-anchor="end">26.8</text>
<text x="270.0" y="429.7" font-size="5.5" class="sb">0</text>
<text x="337.0" y="429.7" font-size="5.5" class="sb" text-anchor="end">73.2</text>
<rect x="349.70" y="359.60" width="72.30" height="72.60" fill="none" stroke="#888" stroke-width="0.6"/>
<line x1="387.30" y1="359.60" x2="387.30" y2="432.20" stroke="#333" stroke-width="1"/>
<line x1="349.70" y1="388.00" x2="422.00" y2="388.00" stroke="#333" stroke-width="1"/>
<path d="M349.7,359.6V432.2H422.0M347.9,431.2h1.8M347.9,418.1h1.8M347.9,405.0h1.8M347.9,391.8h1.8M347.9,378.7h1.8M347.9,365.6h1.8M357.2,432.2v1.8M372.1,432.2v1.8M387.1,432.2v1.8M402.1,432.2v1.8M417.0,432.2v1.8" stroke="#444" stroke-width="0.6" fill="none"/>
<path d="M348.7,427.3h1M348.7,424.9h1M348.7,423.3h1M348.7,422.0h1M348.7,421.0h1M348.7,414.1h1M348.7,411.8h1M348.7,410.2h1M348.7,408.9h1M348.7,407.8h1M348.7,401.0h1M348.7,398.7h1M348.7,397.1h1M348.7,395.8h1M348.7,394.7h1M348.7,387.9h1M348.7,385.5h1M348.7,384.0h1M348.7,382.7h1M348.7,381.6h1M348.7,374.8h1M348.7,372.4h1M348.7,370.8h1M348.7,369.5h1M348.7,368.5h1M361.7,432.2v1M364.4,432.2v1M366.2,432.2v1M367.7,432.2v1M368.9,432.2v1M376.6,432.2v1M379.3,432.2v1M381.1,432.2v1M382.6,432.2v1M383.8,432.2v1M391.6,432.2v1M394.3,432.2v1M396.1,432.2v1M397.6,432.2v1M398.8,432.2v1M406.5,432.2v1M409.2,432.2v1M411.0,432.2v1M412.5,432.2v1M413.7,432.2v1" stroke="#999" stroke-width="0.4" fill="none"/>
<text x="347.3" y="432.4" font-size="3.3" class="nr" text-anchor="end" fill="#777">10<tspan dy="-1.25" font-size="2.05">0</tspan></text>
<text x="347.3" y="419.2" font-size="3.3" class="nr" text-anchor="end" fill="#777">10<tspan dy="-1.25" font-size="2.05">1</tspan></text>
<text x="347.3" y="406.1" font-size="3.3" class="nr" text-anchor="end" fill="#777">10<tspan dy="-1.25" font-size="2.05">2</tspan></text>
<text x="347.3" y="393.0" font-size="3.3" class="nr" text-anchor="end" fill="#777">10<tspan dy="-1.25" font-size="2.05">3</tspan></text>
<text x="347.3" y="379.9" font-size="3.3" class="nr" text-anchor="end" fill="#777">10<tspan dy="-1.25" font-size="2.05">4</tspan></text>
<text x="347.3" y="366.8" font-size="3.3" class="nr" text-anchor="end" fill="#777">10<tspan dy="-1.25" font-size="2.05">5</tspan></text>
<text x="357.2" y="438.8" font-size="3.3" class="nr" text-anchor="middle" fill="#777">10<tspan dy="-1.25" font-size="2.05">1</tspan></text>
<text x="372.1" y="438.8" font-size="3.3" class="nr" text-anchor="middle" fill="#777">10<tspan dy="-1.25" font-size="2.05">2</tspan></text>
<text x="387.1" y="438.8" font-size="3.3" class="nr" text-anchor="middle" fill="#777">10<tspan dy="-1.25" font-size="2.05">3</tspan></text>
<text x="402.1" y="438.8" font-size="3.3" class="nr" text-anchor="middle" fill="#777">10<tspan dy="-1.25" font-size="2.05">4</tspan></text>
<text x="417.0" y="438.8" font-size="3.3" class="nr" text-anchor="middle" fill="#777">10<tspan dy="-1.25" font-size="2.05">5</tspan></text>
<path d="M789 801h2M781 776h2M786 816h2M784 784h2M814 797h2M790 785h2M809 812h2M797 833h2M782 770h2M805 810h2M789 817h2M793 840h2M781 809h2M804 819h2M790 794h2M790 815h2M790 799h2M804 800h2M796 800h2M794 759h2M785 809h2M788 790h2M795 846h2M786 784h2M776 811h2M793 786h2M790 821h2M804 809h2M806 822h2M789 817h2M796 817h2M797 843h2M781 809h2M783 847h2M789 795h2M794 801h2M811 801h2M797 823h2M809 783h2M797 776h2M799 829h2M789 797h2M806 811h2M802 793h2M791 795h2M810 773h2M789 832h2M793 781h2M796 798h2M793 812h2M802 773h2M796 831h2M780 800h2M782 815h2M785 796h2M790 811h2M781 775h2M796 828h2M789 810h2M797 804h2M794 791h2M792 825h2M798 827h2M787 804h2M787 776h2M803 797h2M796 774h2M791 800h2M790 822h2M799 805h2M796 793h2M787 797h2M784 799h2M793 824h2M790 849h2M789 805h2M794 790h2M793 767h2M805 791h2M794 767h2M800 777h2M808 782h2M787 815h2M807 763h2M777 834h2M798 772h2M790 816h2M790 831h2M787 805h2M806 831h2M796 813h2M791 801h2M788 810h2M802 782h2M782 803h2M814 806h2M795 801h2M777 788h2M809 761h2M812 778h2M814 853h2M809 799h2M800 791h2M789 806h2M791 781h2M791 815h2M786 809h2M780 804h2M782 817h2M783 814h2M805 786h2M794 785h2M799 817h2M805 828h2M807 788h2M795 812h2M796 776h2M814 852h2M795 751h2M812 798h2M817 781h2M799 818h2M779 795h2M799 815h2M798 750h2M810 772h2M798 820h2M784 771h2M797 793h2M793 798h2M793 808h2M789 801h2M788 785h2M797 786h2M799 801h2M805 814h2M801 804h2M794 823h2M801 775h2M795 822h2M795 777h2M802 814h2M805 805h2M795 819h2M783 836h2M798 806h2M802 818h2M793 786h2M803 821h2M798 790h2M795 783h2M819 789h2M803 834h2M785 791h2M781 805h2M792 802h2M794 793h2M795 801h2M787 796h2M788 776h2M794 765h2M799 801h2M796 825h2M803 793h2M797 826h2M792 809h2M798 781h2M797 794h2M791 811h2M800 784h2M791 798h2M784 809h2M792 788h2M803 800h2M782 800h2M792 808h2M817 813h2M808 798h2M799 812h2M793 807h2M789 816h2M785 836h2M793 809h2M795 770h2M798 784h2M796 794h2M791 772h2M781 791h2M783 807h2M780 806h2M799 787h2M784 795h2M802 829h2M816 804h2M800 806h2M794 781h2M790 824h2M808 790h2M778 839h2M794 811h2M792 766h2M797 783h2M791 790h2M791 849h2M809 763h2M778 792h2M787 817h2M810 787h2M800 798h2M811 786h2M800 792h2M793 793h2M792 803h2M788 807h2M781 818h2M784 765h2M802 795h2M789 820h2M794 841h2M798 774h2M789 789h2M791 835h2M821 836h2M798 813h2M796 758h2M808 841h2M789 801h2M787 798h2M785 779h2M806 763h2M804 779h2M791 762h2M800 782h2M819 783h2M796 815h2M784 785h2M783 813h2M797 822h2M779 783h2M793 793h2M797 824h2M795 786h2M793 788h2M787 839h2M801 838h2M792 801h2M781 807h2M801 816h2M782 804h2M803 793h2M801 792h2M794 790h2" stroke="#2a2ad0" stroke-width="2" opacity="0.6" fill="none" transform="scale(.5)"/>
<path d="M780 824h2M788 833h2M788 830h2M792 835h2M790 831h2M794 837h2M781 856h2M794 821h2M781 837h2M783 818h2M791 820h2M791 841h2M780 846h2M786 822h2M791 837h2M781 844h2M783 841h2M783 846h2M791 832h2M796 835h2M800 827h2M794 814h2M784 849h2M782 839h2M780 848h2M787 839h2M797 823h2M789 838h2M793 838h2M790 836h2M782 828h2M789 822h2M787 830h2M797 836h2M786 836h2M795 821h2M784 825h2M792 840h2M779 840h2M783 837h2M779 853h2M781 832h2M805 820h2M782 837h2M783 839h2M796 827h2M778 846h2M806 814h2M786 845h2M785 825h2M780 831h2M777 839h2M780 838h2M787 845h2M780 857h2M791 837h2M796 835h2" stroke="#4a4ae0" stroke-width="2" opacity="0.45" fill="none" transform="scale(.5)"/>
<ellipse cx="397.00" cy="399.00" rx="7.70" ry="13.75" fill="url(#g_B)"/>
<ellipse cx="397.00" cy="399.00" rx="4.90" ry="8.75" fill="url(#g_B)"/>
<path d="M786 782h2M792 751h2M799 758h2M787 769h2M825 759h2M783 738h2M790 726h2M777 766h2M793 766h2M788 770h2M782 773h2M806 762h2M788 728h2M808 738h2M796 750h2M818 750h2M802 747h2M785 757h2M819 736h2M798 799h2M795 763h2M788 742h2M801 754h2M820 747h2M790 761h2M798 750h2M793 760h2M814 741h2M795 731h2M816 726h2M830 758h2M793 762h2M797 749h2M836 733h2M806 743h2M793 751h2M795 764h2M784 763h2M786 764h2M808 772h2M780 747h2M809 734h2M782 755h2M794 750h2M792 752h2M823 749h2M799 765h2M797 733h2M782 759h2M791 772h2M800 758h2M795 758h2M792 765h2M779 767h2M817 761h2M813 738h2M809 731h2M808 760h2M801 778h2M782 763h2M798 799h2M792 762h2M785 761h2M793 781h2M795 754h2M804 754h2M838 729h2M781 737h2M805 758h2M813 732h2M800 766h2M810 776h2M795 739h2M787 740h2M786 774h2M816 764h2M805 755h2M778 756h2M801 724h2M776 774h2M782 746h2M806 750h2M786 749h2M812 774h2M795 764h2M801 782h2M801 738h2M785 750h2M793 753h2M778 773h2M793 737h2M791 730h2M784 732h2M789 764h2M796 753h2M796 776h2M784 773h2M805 740h2M796 773h2M800 755h2M789 764h2M786 739h2M790 775h2M804 739h2M827 774h2M793 740h2M793 794h2M808 733h2M807 760h2M791 755h2M782 751h2M792 775h2M825 755h2M807 743h2M790 773h2M807 753h2M812 778h2M811 762h2M814 759h2M807 760h2M809 729h2M804 769h2M789 752h2M799 768h2M810 763h2M797 760h2M781 776h2M793 742h2M806 727h2M818 741h2M808 778h2M825 756h2M797 745h2M813 744h2M796 758h2M827 752h2M804 769h2M816 741h2M807 762h2M798 797h2M792 744h2M828 736h2M790 781h2M806 758h2M804 721h2M808 747h2M790 757h2M787 772h2M797 723h2M810 753h2M816 729h2M779 785h2M809 733h2M776 772h2M810 774h2M791 741h2M783 769h2M799 767h2M796 743h2M815 750h2M789 762h2M787 769h2M799 768h2M829 758h2M832 745h2M795 737h2M796 779h2M829 759h2M811 757h2M815 744h2M810 747h2M810 741h2M788 786h2M812 734h2M787 752h2M816 738h2M799 722h2M816 769h2M804 749h2M816 775h2M786 774h2M806 753h2M793 752h2M825 738h2M799 784h2M816 732h2M806 762h2M797 722h2M778 747h2M779 753h2M790 764h2M815 744h2M787 764h2M781 767h2M797 773h2M784 764h2M793 757h2M809 748h2M784 761h2M782 741h2M801 767h2M777 753h2M807 746h2M792 750h2M781 770h2M805 746h2M813 734h2M802 749h2M791 750h2M811 731h2M778 806h2M811 749h2M788 784h2M778 784h2M779 767h2M780 772h2M805 765h2M779 767h2M810 738h2M805 754h2M803 737h2M793 770h2M781 763h2M808 739h2M809 733h2M816 771h2M817 744h2M814 759h2M808 767h2M793 774h2" stroke="#ff4a4a" stroke-width="2" opacity="0.5" fill="none" transform="scale(.5)"/>
<ellipse cx="398.50" cy="377.00" rx="10.35" ry="14.30" fill="url(#g_R)" transform="rotate(25 398.50 377.00)"/>
<ellipse cx="400.42" cy="372.88" rx="7.20" ry="7.80" fill="url(#g_R)" transform="rotate(25 400.42 372.88)"/>
<text x="390.0" y="354.0" font-size="7.5" class="sb" text-anchor="middle">Day 13</text>
<text x="352.7" y="366.1" font-size="5.5" class="sb">0</text>
<text x="420.0" y="366.1" font-size="5.5" class="sb" text-anchor="end">25.9</text>
<text x="352.7" y="429.7" font-size="5.5" class="sb">0</text>
<text x="420.0" y="429.7" font-size="5.5" class="sb" text-anchor="end">74.1</text>
<rect x="431.70" y="360.30" width="71.90" height="71.20" fill="none" stroke="#888" stroke-width="0.6"/>
<line x1="464.40" y1="360.30" x2="464.40" y2="431.50" stroke="#333" stroke-width="1"/>
<line x1="431.70" y1="391.30" x2="503.60" y2="391.30" stroke="#333" stroke-width="1"/>
<path d="M431.7,360.3V431.5H503.6M429.9,430.5h1.8M429.9,417.7h1.8M429.9,404.8h1.8M429.9,392.0h1.8M429.9,379.1h1.8M429.9,366.3h1.8M439.2,431.5v1.8M454.1,431.5v1.8M468.9,431.5v1.8M483.8,431.5v1.8M498.6,431.5v1.8" stroke="#444" stroke-width="0.6" fill="none"/>
<path d="M430.7,426.6h1M430.7,424.3h1M430.7,422.8h1M430.7,421.5h1M430.7,420.5h1M430.7,413.8h1M430.7,411.5h1M430.7,410.0h1M430.7,408.7h1M430.7,407.6h1M430.7,401.0h1M430.7,398.7h1M430.7,397.1h1M430.7,395.8h1M430.7,394.8h1M430.7,388.1h1M430.7,385.8h1M430.7,384.3h1M430.7,383.0h1M430.7,382.0h1M430.7,375.3h1M430.7,373.0h1M430.7,371.4h1M430.7,370.2h1M430.7,369.1h1M443.7,431.5v1M446.3,431.5v1M448.1,431.5v1M449.6,431.5v1M450.8,431.5v1M458.5,431.5v1M461.2,431.5v1M463.0,431.5v1M464.4,431.5v1M465.6,431.5v1M473.4,431.5v1M476.0,431.5v1M477.8,431.5v1M479.3,431.5v1M480.5,431.5v1M488.2,431.5v1M490.9,431.5v1M492.7,431.5v1M494.1,431.5v1M495.3,431.5v1" stroke="#999" stroke-width="0.4" fill="none"/>
<text x="429.3" y="431.7" font-size="3.3" class="nr" text-anchor="end" fill="#777">10<tspan dy="-1.25" font-size="2.05">0</tspan></text>
<text x="429.3" y="418.8" font-size="3.3" class="nr" text-anchor="end" fill="#777">10<tspan dy="-1.25" font-size="2.05">1</tspan></text>
<text x="429.3" y="406.0" font-size="3.3" class="nr" text-anchor="end" fill="#777">10<tspan dy="-1.25" font-size="2.05">2</tspan></text>
<text x="429.3" y="393.1" font-size="3.3" class="nr" text-anchor="end" fill="#777">10<tspan dy="-1.25" font-size="2.05">3</tspan></text>
<text x="429.3" y="380.3" font-size="3.3" class="nr" text-anchor="end" fill="#777">10<tspan dy="-1.25" font-size="2.05">4</tspan></text>
<text x="429.3" y="367.5" font-size="3.3" class="nr" text-anchor="end" fill="#777">10<tspan dy="-1.25" font-size="2.05">5</tspan></text>
<text x="439.2" y="438.1" font-size="3.3" class="nr" text-anchor="middle" fill="#777">10<tspan dy="-1.25" font-size="2.05">1</tspan></text>
<text x="454.1" y="438.1" font-size="3.3" class="nr" text-anchor="middle" fill="#777">10<tspan dy="-1.25" font-size="2.05">2</tspan></text>
<text x="468.9" y="438.1" font-size="3.3" class="nr" text-anchor="middle" fill="#777">10<tspan dy="-1.25" font-size="2.05">3</tspan></text>
<text x="483.8" y="438.1" font-size="3.3" class="nr" text-anchor="middle" fill="#777">10<tspan dy="-1.25" font-size="2.05">4</tspan></text>
<text x="498.6" y="438.1" font-size="3.3" class="nr" text-anchor="middle" fill="#777">10<tspan dy="-1.25" font-size="2.05">5</tspan></text>
<path d="M941 804h2M958 825h2M942 788h2M962 737h2M956 810h2M934 824h2M950 754h2M938 832h2M942 813h2M946 848h2M950 810h2M941 838h2M940 824h2M951 832h2M955 821h2M967 833h2M939 792h2M940 845h2M936 851h2M951 800h2M937 812h2M955 812h2M954 818h2M961 802h2M946 787h2M944 790h2M932 809h2M954 761h2M934 781h2M951 827h2M950 810h2M939 818h2M938 808h2M951 808h2M959 762h2M931 838h2M941 803h2M942 812h2M946 822h2M956 858h2M938 819h2M937 816h2M950 813h2M949 829h2M937 813h2M957 836h2M957 794h2M940 837h2M947 821h2M944 835h2M949 791h2M951 806h2M944 827h2M949 800h2M936 803h2M946 786h2M941 815h2M935 806h2M949 818h2M930 815h2M937 840h2M946 851h2M951 786h2M956 802h2M946 816h2M934 842h2M949 790h2M934 825h2M959 823h2M950 804h2M958 827h2M939 800h2M977 811h2M951 832h2M937 794h2M963 836h2M954 812h2M947 817h2M951 800h2M957 855h2M942 792h2M938 846h2M940 796h2M958 810h2M947 831h2M958 820h2M962 798h2M942 830h2M953 773h2M944 830h2M945 856h2M931 819h2M939 777h2M945 813h2M943 799h2M955 790h2M941 781h2M959 780h2M964 793h2M947 852h2M937 845h2M934 803h2M953 822h2M950 822h2M963 776h2M940 835h2M933 798h2M971 846h2M952 816h2M945 794h2M938 791h2M934 817h2M951 792h2M948 783h2M951 807h2M946 819h2M960 819h2M941 818h2M951 827h2M957 795h2M935 829h2M936 825h2M974 844h2M932 795h2M951 808h2M954 820h2M950 827h2M932 841h2M933 794h2M951 806h2M935 763h2M953 787h2M943 820h2M946 824h2M963 831h2M937 813h2M945 794h2M954 805h2M949 830h2M968 800h2M963 822h2M940 818h2M941 805h2M952 805h2M947 817h2M945 821h2M945 825h2M939 816h2M964 796h2M939 837h2M950 818h2M949 805h2M942 827h2M949 830h2M948 848h2M957 797h2M963 801h2M957 797h2M951 818h2M961 764h2M955 803h2M948 774h2M943 799h2M956 821h2M945 842h2M941 833h2M945 826h2M944 848h2M955 795h2M943 846h2M962 786h2M949 830h2M971 831h2M945 837h2M948 795h2M947 810h2M945 817h2M951 797h2M954 778h2M954 827h2M951 780h2M942 820h2M952 833h2M932 816h2M958 788h2M935 804h2M944 809h2M960 822h2M948 835h2M947 848h2M949 804h2M935 837h2M946 774h2M956 846h2M954 856h2M959 798h2M952 833h2M932 849h2M952 835h2M938 835h2M947 808h2M947 824h2M932 816h2M951 778h2M954 816h2M937 790h2M935 836h2M938 820h2M943 837h2M960 837h2M954 841h2M964 795h2M950 800h2M948 811h2M948 832h2M934 755h2M950 841h2M943 850h2M970 817h2M945 828h2M955 781h2M952 768h2M936 821h2M950 788h2M948 846h2M931 829h2M960 784h2M959 826h2M944 816h2M947 817h2M945 799h2M956 856h2M945 849h2M939 786h2M953 822h2M952 793h2M943 840h2M963 822h2M951 754h2M941 847h2M966 797h2M934 806h2" stroke="#2a2ad0" stroke-width="2" opacity="0.6" fill="none" transform="scale(.5)"/>
<path d="M937 847h2M931 857h2M946 838h2M941 855h2M932 851h2M943 845h2M941 847h2M933 832h2M937 845h2M936 852h2M944 833h2M939 849h2M931 858h2M942 849h2M932 853h2M938 841h2M938 850h2M934 858h2M934 861h2M934 861h2M940 843h2M942 851h2M939 842h2M943 849h2M940 843h2M931 838h2M937 831h2M934 858h2M935 846h2M935 848h2M940 857h2M939 859h2M947 842h2M933 851h2M935 855h2M933 855h2M941 841h2M936 852h2M945 852h2M935 855h2M939 857h2M944 859h2M938 832h2M940 847h2" stroke="#4a4ae0" stroke-width="2" opacity="0.45" fill="none" transform="scale(.5)"/>
<ellipse cx="473.50" cy="405.00" rx="7.70" ry="15.95" fill="url(#g_B)"/>
<ellipse cx="473.50" cy="405.00" rx="4.90" ry="10.15" fill="url(#g_B)"/>
<path d="M952 765h2M983 740h2M960 762h2M949 778h2M971 744h2M942 771h2M933 760h2M940 789h2M958 739h2M968 756h2M1000 738h2M937 753h2M971 744h2M932 750h2M970 740h2M965 745h2M939 760h2M956 755h2M956 735h2M962 742h2M959 757h2M957 750h2M946 774h2M935 764h2M953 773h2M949 754h2M990 745h2M966 755h2M968 767h2M971 749h2M931 778h2M953 738h2M971 732h2M977 737h2M960 750h2M937 743h2M944 745h2M945 731h2M959 764h2M944 789h2M965 755h2M947 764h2M960 729h2M933 784h2M944 752h2M941 762h2M960 756h2M967 755h2M951 759h2M973 745h2M963 739h2M956 764h2M975 733h2M969 725h2M955 733h2M952 764h2M934 754h2M938 783h2M983 734h2M957 761h2M969 744h2M966 765h2M973 729h2M943 770h2M955 773h2M969 732h2M953 755h2M959 748h2M977 731h2M980 741h2M969 740h2M974 753h2M954 742h2M980 739h2M953 737h2M934 798h2M943 769h2M945 762h2M952 742h2M946 757h2M975 771h2M960 745h2M950 770h2M954 761h2M974 735h2M951 774h2M949 753h2M965 767h2M939 723h2M954 759h2M949 738h2M948 767h2M941 787h2M957 742h2M946 760h2M970 770h2M970 739h2M937 778h2M970 751h2M971 740h2M964 755h2M946 780h2M941 764h2M967 748h2M942 777h2M945 772h2M942 778h2M960 748h2M932 777h2M976 756h2M945 756h2M940 790h2M978 751h2M970 751h2M959 769h2M969 762h2M980 737h2M942 757h2M946 770h2M983 758h2M961 728h2M936 770h2M964 751h2M964 755h2M959 755h2M935 760h2M966 744h2M968 743h2M961 747h2M972 740h2M961 746h2M950 747h2M952 771h2M961 754h2M968 755h2M985 728h2M957 734h2M969 757h2M975 738h2M946 795h2M966 743h2M962 751h2M973 724h2M990 744h2M949 758h2M951 756h2M973 749h2M963 755h2M942 751h2M934 765h2M955 757h2M976 746h2M931 774h2M957 766h2M941 742h2M957 737h2M948 758h2M955 747h2M939 778h2M951 752h2M980 771h2M980 738h2M955 739h2M991 762h2M975 754h2M944 773h2M956 742h2M958 734h2M973 751h2M940 758h2M960 755h2M970 772h2M983 740h2M939 775h2M951 774h2M949 739h2M951 790h2M958 776h2M947 768h2M981 745h2M955 774h2M931 778h2M956 777h2M950 756h2M935 782h2M989 755h2M968 774h2M961 737h2M966 769h2M954 746h2M956 749h2M982 754h2M949 773h2M983 756h2M960 745h2M947 746h2M954 745h2M948 768h2M953 765h2M963 755h2M963 763h2M953 736h2M992 736h2M971 767h2M943 777h2M966 747h2M947 729h2M938 758h2M971 738h2M955 777h2M973 773h2M946 747h2M952 774h2M940 753h2M958 765h2M950 735h2M960 749h2M970 753h2M972 743h2M942 772h2M954 750h2M962 723h2M947 778h2M955 746h2M966 748h2M964 747h2M970 749h2M972 727h2M971 723h2M943 770h2M958 730h2M945 756h2M959 746h2M953 742h2M966 737h2M963 771h2M952 758h2" stroke="#ff4a4a" stroke-width="2" opacity="0.5" fill="none" transform="scale(.5)"/>
<ellipse cx="479.00" cy="376.50" rx="8.05" ry="16.50" fill="url(#g_R)" transform="rotate(38 479.00 376.50)"/>
<ellipse cx="482.23" cy="372.36" rx="5.60" ry="9.00" fill="url(#g_R)" transform="rotate(38 482.23 372.36)"/>
<text x="465.0" y="354.0" font-size="7.5" class="sb" text-anchor="middle">Day 17</text>
<text x="434.7" y="366.8" font-size="5.5" class="sb">0</text>
<text x="501.6" y="366.8" font-size="5.5" class="sb" text-anchor="end">43.3</text>
<text x="434.7" y="429.0" font-size="5.5" class="sb">0</text>
<text x="501.6" y="429.0" font-size="5.5" class="sb" text-anchor="end">56.6</text>
<line x1="3.60" y1="369.10" x2="3.60" y2="361.07" stroke="#000" stroke-width="2"/>
<path d="M3.60,356.20 L6.48,361.57 L0.72,361.57 Z" fill="#000"/>
<text x="6.4" y="397.8" font-size="7.2" class="sb" text-anchor="middle" textLength="48.4" lengthAdjust="spacingAndGlyphs" transform="rotate(-90 6.4 397.8)">PKH<tspan dy="-2.74" font-size="4.46">26</tspan><tspan dy="2.74">-PCL</tspan><tspan dy="-2.74" font-size="4.46">red</tspan></text>
<line x1="3.60" y1="427.00" x2="3.60" y2="438.00" stroke="#000" stroke-width="2"/>
<line x1="27.00" y1="452.00" x2="40.00" y2="452.00" stroke="#000" stroke-width="1.6"/>
<text x="57.5" y="455.0" font-size="9.5" class="sb" text-anchor="middle" textLength="23" lengthAdjust="spacingAndGlyphs">F4/80</text>
<line x1="74.00" y1="451.60" x2="440.25" y2="451.60" stroke="#000" stroke-width="1.8"/>
<path d="M446.00,451.60 L439.75,454.60 L439.75,448.60 Z" fill="#000"/>
<text x="2.0" y="474.0" font-size="11.5" class="nb">D</text>
<rect x="20.00" y="480.00" width="73.00" height="73.00" fill="none" stroke="#777" stroke-width="0.7"/>
<path d="M20.0,480.0V553.0H93.0M18.2,552.0h1.8M18.2,538.8h1.8M18.2,525.6h1.8M18.2,512.4h1.8M18.2,499.2h1.8M18.2,486.0h1.8M27.5,553.0v1.8M39.6,553.0v1.8M51.7,553.0v1.8M63.8,553.0v1.8M75.9,553.0v1.8M88.0,553.0v1.8" stroke="#444" stroke-width="0.6" fill="none"/>
<path d="M19.0,548.0h1M19.0,545.7h1M19.0,544.1h1M19.0,542.8h1M19.0,541.7h1M19.0,534.8h1M19.0,532.5h1M19.0,530.9h1M19.0,529.6h1M19.0,528.5h1M19.0,521.6h1M19.0,519.3h1M19.0,517.7h1M19.0,516.4h1M19.0,515.3h1M19.0,508.4h1M19.0,506.1h1M19.0,504.5h1M19.0,503.2h1M19.0,502.1h1M19.0,495.2h1M19.0,492.9h1M19.0,491.3h1M19.0,490.0h1M19.0,488.9h1M31.1,553.0v1M33.3,553.0v1M34.8,553.0v1M36.0,553.0v1M36.9,553.0v1M43.2,553.0v1M45.4,553.0v1M46.9,553.0v1M48.1,553.0v1M49.0,553.0v1M55.3,553.0v1M57.5,553.0v1M59.0,553.0v1M60.2,553.0v1M61.1,553.0v1M67.4,553.0v1M69.6,553.0v1M71.1,553.0v1M72.3,553.0v1M73.2,553.0v1M79.5,553.0v1M81.7,553.0v1M83.2,553.0v1M84.4,553.0v1M85.3,553.0v1" stroke="#999" stroke-width="0.4" fill="none"/>
<text x="17.6" y="553.2" font-size="3.3" class="nr" text-anchor="end" fill="#777">10<tspan dy="-1.25" font-size="2.05">0</tspan></text>
<text x="17.6" y="540.0" font-size="3.3" class="nr" text-anchor="end" fill="#777">10<tspan dy="-1.25" font-size="2.05">1</tspan></text>
<text x="17.6" y="526.8" font-size="3.3" class="nr" text-anchor="end" fill="#777">10<tspan dy="-1.25" font-size="2.05">2</tspan></text>
<text x="17.6" y="513.6" font-size="3.3" class="nr" text-anchor="end" fill="#777">10<tspan dy="-1.25" font-size="2.05">3</tspan></text>
<text x="17.6" y="500.4" font-size="3.3" class="nr" text-anchor="end" fill="#777">10<tspan dy="-1.25" font-size="2.05">4</tspan></text>
<text x="17.6" y="487.2" font-size="3.3" class="nr" text-anchor="end" fill="#777">10<tspan dy="-1.25" font-size="2.05">5</tspan></text>
<text x="27.5" y="559.6" font-size="3.3" class="nr" text-anchor="middle" fill="#777">10<tspan dy="-1.25" font-size="2.05">0</tspan></text>
<text x="39.6" y="559.6" font-size="3.3" class="nr" text-anchor="middle" fill="#777">10<tspan dy="-1.25" font-size="2.05">1</tspan></text>
<text x="51.7" y="559.6" font-size="3.3" class="nr" text-anchor="middle" fill="#777">10<tspan dy="-1.25" font-size="2.05">2</tspan></text>
<text x="63.8" y="559.6" font-size="3.3" class="nr" text-anchor="middle" fill="#777">10<tspan dy="-1.25" font-size="2.05">3</tspan></text>
<text x="75.9" y="559.6" font-size="3.3" class="nr" text-anchor="middle" fill="#777">10<tspan dy="-1.25" font-size="2.05">4</tspan></text>
<text x="88.0" y="559.6" font-size="3.3" class="nr" text-anchor="middle" fill="#777">10<tspan dy="-1.25" font-size="2.05">5</tspan></text>
<text x="65.2" y="475.5" font-size="7.5" class="sb" text-anchor="middle">Day 0</text>
<rect x="102.40" y="479.70" width="71.00" height="73.60" fill="none" stroke="#777" stroke-width="0.7"/>
<path d="M102.4,479.7V553.3H173.4M100.6,552.3h1.8M100.6,539.0h1.8M100.6,525.7h1.8M100.6,512.3h1.8M100.6,499.0h1.8M100.6,485.7h1.8M109.9,553.3v1.8M121.6,553.3v1.8M133.3,553.3v1.8M145.0,553.3v1.8M156.7,553.3v1.8M168.4,553.3v1.8" stroke="#444" stroke-width="0.6" fill="none"/>
<path d="M101.4,548.3h1M101.4,545.9h1M101.4,544.3h1M101.4,543.0h1M101.4,541.9h1M101.4,535.0h1M101.4,532.6h1M101.4,531.0h1M101.4,529.7h1M101.4,528.6h1M101.4,521.7h1M101.4,519.3h1M101.4,517.7h1M101.4,516.3h1M101.4,515.3h1M101.4,508.3h1M101.4,505.9h1M101.4,504.3h1M101.4,503.0h1M101.4,502.0h1M101.4,495.0h1M101.4,492.6h1M101.4,491.0h1M101.4,489.7h1M101.4,488.6h1M113.4,553.3v1M115.5,553.3v1M116.9,553.3v1M118.1,553.3v1M119.0,553.3v1M125.1,553.3v1M127.2,553.3v1M128.6,553.3v1M129.8,553.3v1M130.7,553.3v1M136.8,553.3v1M138.9,553.3v1M140.3,553.3v1M141.5,553.3v1M142.4,553.3v1M148.5,553.3v1M150.6,553.3v1M152.0,553.3v1M153.2,553.3v1M154.1,553.3v1M160.2,553.3v1M162.3,553.3v1M163.7,553.3v1M164.9,553.3v1M165.8,553.3v1" stroke="#999" stroke-width="0.4" fill="none"/>
<text x="100.0" y="553.5" font-size="3.3" class="nr" text-anchor="end" fill="#777">10<tspan dy="-1.25" font-size="2.05">0</tspan></text>
<text x="100.0" y="540.1" font-size="3.3" class="nr" text-anchor="end" fill="#777">10<tspan dy="-1.25" font-size="2.05">1</tspan></text>
<text x="100.0" y="526.8" font-size="3.3" class="nr" text-anchor="end" fill="#777">10<tspan dy="-1.25" font-size="2.05">2</tspan></text>
<text x="100.0" y="513.5" font-size="3.3" class="nr" text-anchor="end" fill="#777">10<tspan dy="-1.25" font-size="2.05">3</tspan></text>
<text x="100.0" y="500.2" font-size="3.3" class="nr" text-anchor="end" fill="#777">10<tspan dy="-1.25" font-size="2.05">4</tspan></text>
<text x="100.0" y="486.9" font-size="3.3" class="nr" text-anchor="end" fill="#777">10<tspan dy="-1.25" font-size="2.05">5</tspan></text>
<text x="109.9" y="559.9" font-size="3.3" class="nr" text-anchor="middle" fill="#777">10<tspan dy="-1.25" font-size="2.05">0</tspan></text>
<text x="121.6" y="559.9" font-size="3.3" class="nr" text-anchor="middle" fill="#777">10<tspan dy="-1.25" font-size="2.05">1</tspan></text>
<text x="133.3" y="559.9" font-size="3.3" class="nr" text-anchor="middle" fill="#777">10<tspan dy="-1.25" font-size="2.05">2</tspan></text>
<text x="145.0" y="559.9" font-size="3.3" class="nr" text-anchor="middle" fill="#777">10<tspan dy="-1.25" font-size="2.05">3</tspan></text>
<text x="156.7" y="559.9" font-size="3.3" class="nr" text-anchor="middle" fill="#777">10<tspan dy="-1.25" font-size="2.05">4</tspan></text>
<text x="168.4" y="559.9" font-size="3.3" class="nr" text-anchor="middle" fill="#777">10<tspan dy="-1.25" font-size="2.05">5</tspan></text>
<text x="140.3" y="475.5" font-size="7.5" class="sb" text-anchor="middle">Day 3</text>
<rect x="182.50" y="479.70" width="72.50" height="73.60" fill="none" stroke="#777" stroke-width="0.7"/>
<path d="M182.5,479.7V553.3H255.0M180.7,552.3h1.8M180.7,539.0h1.8M180.7,525.7h1.8M180.7,512.3h1.8M180.7,499.0h1.8M180.7,485.7h1.8M190.0,553.3v1.8M202.0,553.3v1.8M214.0,553.3v1.8M226.0,553.3v1.8M238.0,553.3v1.8M250.0,553.3v1.8" stroke="#444" stroke-width="0.6" fill="none"/>
<path d="M181.5,548.3h1M181.5,545.9h1M181.5,544.3h1M181.5,543.0h1M181.5,541.9h1M181.5,535.0h1M181.5,532.6h1M181.5,531.0h1M181.5,529.7h1M181.5,528.6h1M181.5,521.7h1M181.5,519.3h1M181.5,517.7h1M181.5,516.3h1M181.5,515.3h1M181.5,508.3h1M181.5,505.9h1M181.5,504.3h1M181.5,503.0h1M181.5,502.0h1M181.5,495.0h1M181.5,492.6h1M181.5,491.0h1M181.5,489.7h1M181.5,488.6h1M193.6,553.3v1M195.8,553.3v1M197.2,553.3v1M198.4,553.3v1M199.4,553.3v1M205.6,553.3v1M207.8,553.3v1M209.2,553.3v1M210.4,553.3v1M211.4,553.3v1M217.6,553.3v1M219.8,553.3v1M221.2,553.3v1M222.4,553.3v1M223.4,553.3v1M229.6,553.3v1M231.8,553.3v1M233.2,553.3v1M234.4,553.3v1M235.4,553.3v1M241.6,553.3v1M243.8,553.3v1M245.2,553.3v1M246.4,553.3v1M247.4,553.3v1" stroke="#999" stroke-width="0.4" fill="none"/>
<text x="180.1" y="553.5" font-size="3.3" class="nr" text-anchor="end" fill="#777">10<tspan dy="-1.25" font-size="2.05">0</tspan></text>
<text x="180.1" y="540.1" font-size="3.3" class="nr" text-anchor="end" fill="#777">10<tspan dy="-1.25" font-size="2.05">1</tspan></text>
<text x="180.1" y="526.8" font-size="3.3" class="nr" text-anchor="end" fill="#777">10<tspan dy="-1.25" font-size="2.05">2</tspan></text>
<text x="180.1" y="513.5" font-size="3.3" class="nr" text-anchor="end" fill="#777">10<tspan dy="-1.25" font-size="2.05">3</tspan></text>
<text x="180.1" y="500.2" font-size="3.3" class="nr" text-anchor="end" fill="#777">10<tspan dy="-1.25" font-size="2.05">4</tspan></text>
<text x="180.1" y="486.9" font-size="3.3" class="nr" text-anchor="end" fill="#777">10<tspan dy="-1.25" font-size="2.05">5</tspan></text>
<text x="190.0" y="559.9" font-size="3.3" class="nr" text-anchor="middle" fill="#777">10<tspan dy="-1.25" font-size="2.05">0</tspan></text>
<text x="202.0" y="559.9" font-size="3.3" class="nr" text-anchor="middle" fill="#777">10<tspan dy="-1.25" font-size="2.05">1</tspan></text>
<text x="214.0" y="559.9" font-size="3.3" class="nr" text-anchor="middle" fill="#777">10<tspan dy="-1.25" font-size="2.05">2</tspan></text>
<text x="226.0" y="559.9" font-size="3.3" class="nr" text-anchor="middle" fill="#777">10<tspan dy="-1.25" font-size="2.05">3</tspan></text>
<text x="238.0" y="559.9" font-size="3.3" class="nr" text-anchor="middle" fill="#777">10<tspan dy="-1.25" font-size="2.05">4</tspan></text>
<text x="250.0" y="559.9" font-size="3.3" class="nr" text-anchor="middle" fill="#777">10<tspan dy="-1.25" font-size="2.05">5</tspan></text>
<text x="225.7" y="475.5" font-size="7.5" class="sb" text-anchor="middle">Day 6</text>
<rect x="267.20" y="479.70" width="73.80" height="73.60" fill="none" stroke="#777" stroke-width="0.7"/>
<path d="M267.2,479.7V553.3H341.0M265.4,552.3h1.8M265.4,539.0h1.8M265.4,525.7h1.8M265.4,512.3h1.8M265.4,499.0h1.8M265.4,485.7h1.8M274.7,553.3v1.8M287.0,553.3v1.8M299.2,553.3v1.8M311.5,553.3v1.8M323.7,553.3v1.8M336.0,553.3v1.8" stroke="#444" stroke-width="0.6" fill="none"/>
<path d="M266.2,548.3h1M266.2,545.9h1M266.2,544.3h1M266.2,543.0h1M266.2,541.9h1M266.2,535.0h1M266.2,532.6h1M266.2,531.0h1M266.2,529.7h1M266.2,528.6h1M266.2,521.7h1M266.2,519.3h1M266.2,517.7h1M266.2,516.3h1M266.2,515.3h1M266.2,508.3h1M266.2,505.9h1M266.2,504.3h1M266.2,503.0h1M266.2,502.0h1M266.2,495.0h1M266.2,492.6h1M266.2,491.0h1M266.2,489.7h1M266.2,488.6h1M278.4,553.3v1M280.6,553.3v1M282.1,553.3v1M283.3,553.3v1M284.3,553.3v1M290.6,553.3v1M292.8,553.3v1M294.3,553.3v1M295.5,553.3v1M296.5,553.3v1M302.9,553.3v1M305.1,553.3v1M306.6,553.3v1M307.8,553.3v1M308.8,553.3v1M315.2,553.3v1M317.4,553.3v1M318.8,553.3v1M320.1,553.3v1M321.0,553.3v1M327.4,553.3v1M329.6,553.3v1M331.1,553.3v1M332.3,553.3v1M333.3,553.3v1" stroke="#999" stroke-width="0.4" fill="none"/>
<text x="264.8" y="553.5" font-size="3.3" class="nr" text-anchor="end" fill="#777">10<tspan dy="-1.25" font-size="2.05">0</tspan></text>
<text x="264.8" y="540.1" font-size="3.3" class="nr" text-anchor="end" fill="#777">10<tspan dy="-1.25" font-size="2.05">1</tspan></text>
<text x="264.8" y="526.8" font-size="3.3" class="nr" text-anchor="end" fill="#777">10<tspan dy="-1.25" font-size="2.05">2</tspan></text>
<text x="264.8" y="513.5" font-size="3.3" class="nr" text-anchor="end" fill="#777">10<tspan dy="-1.25" font-size="2.05">3</tspan></text>
<text x="264.8" y="500.2" font-size="3.3" class="nr" text-anchor="end" fill="#777">10<tspan dy="-1.25" font-size="2.05">4</tspan></text>
<text x="264.8" y="486.9" font-size="3.3" class="nr" text-anchor="end" fill="#777">10<tspan dy="-1.25" font-size="2.05">5</tspan></text>
<text x="274.7" y="559.9" font-size="3.3" class="nr" text-anchor="middle" fill="#777">10<tspan dy="-1.25" font-size="2.05">0</tspan></text>
<text x="287.0" y="559.9" font-size="3.3" class="nr" text-anchor="middle" fill="#777">10<tspan dy="-1.25" font-size="2.05">1</tspan></text>
<text x="299.2" y="559.9" font-size="3.3" class="nr" text-anchor="middle" fill="#777">10<tspan dy="-1.25" font-size="2.05">2</tspan></text>
<text x="311.5" y="559.9" font-size="3.3" class="nr" text-anchor="middle" fill="#777">10<tspan dy="-1.25" font-size="2.05">3</tspan></text>
<text x="323.7" y="559.9" font-size="3.3" class="nr" text-anchor="middle" fill="#777">10<tspan dy="-1.25" font-size="2.05">4</tspan></text>
<text x="336.0" y="559.9" font-size="3.3" class="nr" text-anchor="middle" fill="#777">10<tspan dy="-1.25" font-size="2.05">5</tspan></text>
<text x="312.3" y="475.5" font-size="7.5" class="sb" text-anchor="middle">Day 9</text>
<rect x="351.50" y="479.70" width="72.50" height="73.60" fill="none" stroke="#777" stroke-width="0.7"/>
<path d="M351.5,479.7V553.3H424.0M349.7,552.3h1.8M349.7,539.0h1.8M349.7,525.7h1.8M349.7,512.3h1.8M349.7,499.0h1.8M349.7,485.7h1.8M359.0,553.3v1.8M371.0,553.3v1.8M383.0,553.3v1.8M395.0,553.3v1.8M407.0,553.3v1.8M419.0,553.3v1.8" stroke="#444" stroke-width="0.6" fill="none"/>
<path d="M350.5,548.3h1M350.5,545.9h1M350.5,544.3h1M350.5,543.0h1M350.5,541.9h1M350.5,535.0h1M350.5,532.6h1M350.5,531.0h1M350.5,529.7h1M350.5,528.6h1M350.5,521.7h1M350.5,519.3h1M350.5,517.7h1M350.5,516.3h1M350.5,515.3h1M350.5,508.3h1M350.5,505.9h1M350.5,504.3h1M350.5,503.0h1M350.5,502.0h1M350.5,495.0h1M350.5,492.6h1M350.5,491.0h1M350.5,489.7h1M350.5,488.6h1M362.6,553.3v1M364.8,553.3v1M366.2,553.3v1M367.4,553.3v1M368.4,553.3v1M374.6,553.3v1M376.8,553.3v1M378.2,553.3v1M379.4,553.3v1M380.4,553.3v1M386.6,553.3v1M388.8,553.3v1M390.2,553.3v1M391.4,553.3v1M392.4,553.3v1M398.6,553.3v1M400.8,553.3v1M402.2,553.3v1M403.4,553.3v1M404.4,553.3v1M410.6,553.3v1M412.8,553.3v1M414.2,553.3v1M415.4,553.3v1M416.4,553.3v1" stroke="#999" stroke-width="0.4" fill="none"/>
<text x="349.1" y="553.5" font-size="3.3" class="nr" text-anchor="end" fill="#777">10<tspan dy="-1.25" font-size="2.05">0</tspan></text>
<text x="349.1" y="540.1" font-size="3.3" class="nr" text-anchor="end" fill="#777">10<tspan dy="-1.25" font-size="2.05">1</tspan></text>
<text x="349.1" y="526.8" font-size="3.3" class="nr" text-anchor="end" fill="#777">10<tspan dy="-1.25" font-size="2.05">2</tspan></text>
<text x="349.1" y="513.5" font-size="3.3" class="nr" text-anchor="end" fill="#777">10<tspan dy="-1.25" font-size="2.05">3</tspan></text>
<text x="349.1" y="500.2" font-size="3.3" class="nr" text-anchor="end" fill="#777">10<tspan dy="-1.25" font-size="2.05">4</tspan></text>
<text x="349.1" y="486.9" font-size="3.3" class="nr" text-anchor="end" fill="#777">10<tspan dy="-1.25" font-size="2.05">5</tspan></text>
<text x="359.0" y="559.9" font-size="3.3" class="nr" text-anchor="middle" fill="#777">10<tspan dy="-1.25" font-size="2.05">0</tspan></text>
<text x="371.0" y="559.9" font-size="3.3" class="nr" text-anchor="middle" fill="#777">10<tspan dy="-1.25" font-size="2.05">1</tspan></text>
<text x="383.0" y="559.9" font-size="3.3" class="nr" text-anchor="middle" fill="#777">10<tspan dy="-1.25" font-size="2.05">2</tspan></text>
<text x="395.0" y="559.9" font-size="3.3" class="nr" text-anchor="middle" fill="#777">10<tspan dy="-1.25" font-size="2.05">3</tspan></text>
<text x="407.0" y="559.9" font-size="3.3" class="nr" text-anchor="middle" fill="#777">10<tspan dy="-1.25" font-size="2.05">4</tspan></text>
<text x="419.0" y="559.9" font-size="3.3" class="nr" text-anchor="middle" fill="#777">10<tspan dy="-1.25" font-size="2.05">5</tspan></text>
<text x="395.7" y="475.5" font-size="7.5" class="sb" text-anchor="middle">Day 13</text>
<rect x="435.80" y="480.70" width="72.70" height="72.00" fill="none" stroke="#777" stroke-width="0.7"/>
<path d="M435.8,480.7V552.7H508.5M434.0,551.7h1.8M434.0,538.7h1.8M434.0,525.7h1.8M434.0,512.7h1.8M434.0,499.7h1.8M434.0,486.7h1.8M443.3,552.7v1.8M455.3,552.7v1.8M467.4,552.7v1.8M479.4,552.7v1.8M491.5,552.7v1.8M503.5,552.7v1.8" stroke="#444" stroke-width="0.6" fill="none"/>
<path d="M434.8,547.8h1M434.8,545.5h1M434.8,543.9h1M434.8,542.6h1M434.8,541.6h1M434.8,534.8h1M434.8,532.5h1M434.8,530.9h1M434.8,529.6h1M434.8,528.6h1M434.8,521.8h1M434.8,519.5h1M434.8,517.9h1M434.8,516.6h1M434.8,515.6h1M434.8,508.8h1M434.8,506.5h1M434.8,504.9h1M434.8,503.6h1M434.8,502.6h1M434.8,495.8h1M434.8,493.5h1M434.8,491.9h1M434.8,490.6h1M434.8,489.6h1M446.9,552.7v1M449.1,552.7v1M450.5,552.7v1M451.7,552.7v1M452.7,552.7v1M459.0,552.7v1M461.1,552.7v1M462.6,552.7v1M463.8,552.7v1M464.7,552.7v1M471.0,552.7v1M473.2,552.7v1M474.6,552.7v1M475.8,552.7v1M476.8,552.7v1M483.0,552.7v1M485.2,552.7v1M486.6,552.7v1M487.8,552.7v1M488.8,552.7v1M495.1,552.7v1M497.2,552.7v1M498.7,552.7v1M499.9,552.7v1M500.9,552.7v1" stroke="#999" stroke-width="0.4" fill="none"/>
<text x="433.4" y="552.9" font-size="3.3" class="nr" text-anchor="end" fill="#777">10<tspan dy="-1.25" font-size="2.05">0</tspan></text>
<text x="433.4" y="539.9" font-size="3.3" class="nr" text-anchor="end" fill="#777">10<tspan dy="-1.25" font-size="2.05">1</tspan></text>
<text x="433.4" y="526.9" font-size="3.3" class="nr" text-anchor="end" fill="#777">10<tspan dy="-1.25" font-size="2.05">2</tspan></text>
<text x="433.4" y="513.9" font-size="3.3" class="nr" text-anchor="end" fill="#777">10<tspan dy="-1.25" font-size="2.05">3</tspan></text>
<text x="433.4" y="500.9" font-size="3.3" class="nr" text-anchor="end" fill="#777">10<tspan dy="-1.25" font-size="2.05">4</tspan></text>
<text x="433.4" y="487.9" font-size="3.3" class="nr" text-anchor="end" fill="#777">10<tspan dy="-1.25" font-size="2.05">5</tspan></text>
<text x="443.3" y="559.3" font-size="3.3" class="nr" text-anchor="middle" fill="#777">10<tspan dy="-1.25" font-size="2.05">0</tspan></text>
<text x="455.3" y="559.3" font-size="3.3" class="nr" text-anchor="middle" fill="#777">10<tspan dy="-1.25" font-size="2.05">1</tspan></text>
<text x="467.4" y="559.3" font-size="3.3" class="nr" text-anchor="middle" fill="#777">10<tspan dy="-1.25" font-size="2.05">2</tspan></text>
<text x="479.4" y="559.3" font-size="3.3" class="nr" text-anchor="middle" fill="#777">10<tspan dy="-1.25" font-size="2.05">3</tspan></text>
<text x="491.5" y="559.3" font-size="3.3" class="nr" text-anchor="middle" fill="#777">10<tspan dy="-1.25" font-size="2.05">4</tspan></text>
<text x="503.5" y="559.3" font-size="3.3" class="nr" text-anchor="middle" fill="#777">10<tspan dy="-1.25" font-size="2.05">5</tspan></text>
<text x="473.6" y="475.5" font-size="7.5" class="sb" text-anchor="middle">Day 17</text>
<path d="M161 989h2M86 982h2M131 987h2M93 983h2M70 979h2M89 980h2M136 983h2M131 982h2M60 995h2M86 981h2M129 997h2M104 995h2M87 989h2M76 992h2M85 989h2M68 997h2M144 979h2M102 972h2M95 967h2M119 981h2M131 982h2M94 974h2M117 981h2M68 967h2M126 981h2M98 976h2M86 982h2M105 970h2M166 992h2M49 983h2M130 975h2M64 988h2M84 982h2M144 982h2M136 974h2M51 978h2M90 989h2M70 978h2M81 975h2M91 984h2M60 973h2M76 994h2M95 967h2M113 992h2M57 970h2M112 983h2M116 999h2M118 992h2M87 997h2M81 986h2M46 978h2M121 973h2M91 969h2M102 977h2M82 979h2M89 982h2M93 994h2M136 980h2M109 973h2M116 988h2M85 970h2M114 987h2M70 986h2M134 972h2M85 971h2M109 974h2M145 988h2M95 978h2M127 978h2M90 983h2M128 997h2M91 969h2M76 980h2M117 986h2M106 967h2M103 977h2M75 988h2M133 984h2M116 992h2M101 978h2M140 976h2M92 985h2M89 972h2M129 982h2M82 976h2M116 990h2M106 994h2M100 998h2M124 970h2M98 985h2M100 972h2M113 981h2M62 969h2M90 991h2M100 984h2M126 980h2M101 981h2M124 975h2M111 975h2M103 993h2M80 987h2M103 984h2M114 983h2M114 1000h2M83 971h2M120 986h2M153 976h2M120 976h2M88 976h2M80 972h2M93 980h2M102 990h2M78 981h2M78 990h2M77 978h2M81 993h2M70 970h2M91 978h2M77 993h2M96 969h2M84 977h2M78 978h2M91 988h2M166 975h2M89 993h2M144 990h2M94 1001h2M103 994h2M87 969h2M135 973h2M74 983h2M77 989h2M103 980h2M87 997h2" stroke="#50c050" stroke-width="2" opacity="0.5" fill="none" transform="scale(.5)"/>
<ellipse cx="57.00" cy="493.40" rx="12.50" ry="7.50" fill="url(#g_G)" opacity="0.85"/>
<path d="M159 1089h2M140 1103h2M153 1042h2M138 1042h2M158 1048h2M161 1026h2M154 1057h2M140 1070h2M147 1052h2M135 1033h2M145 1056h2M146 1065h2M147 1093h2M153 1086h2M139 1064h2M148 1077h2M145 1064h2M142 1050h2M152 1047h2M143 1056h2M151 1071h2M141 1049h2M141 1033h2M166 1092h2M154 1052h2M155 1100h2M158 1079h2M154 1083h2M152 1070h2M146 1015h2M152 1078h2M149 1080h2M148 1058h2M153 1015h2M159 1050h2M153 1076h2M140 1035h2M150 1017h2M153 1057h2M144 1082h2M143 1040h2M149 1083h2M148 1051h2M150 1050h2M136 1084h2M152 1089h2M150 1072h2M138 1024h2M136 1091h2M144 1095h2M152 1048h2M148 1039h2M146 1069h2M154 1047h2M138 1090h2M141 1079h2M138 1036h2M135 1077h2M162 1063h2M135 1054h2M151 1069h2M150 1033h2M145 1050h2M141 1044h2M157 1070h2M145 1050h2M154 1045h2M143 1052h2M131 1090h2M143 1080h2M149 1087h2M153 1054h2M151 1005h2M141 1006h2M151 1022h2M138 1070h2M153 1055h2M159 1066h2M163 1082h2M163 990h2M154 1080h2M159 1076h2M152 1068h2M150 1075h2M160 1018h2M146 1022h2M145 1067h2M150 1070h2M154 1071h2M146 1057h2M141 1048h2" stroke="#ff7070" stroke-width="2" opacity="0.35" fill="none" transform="scale(.5)"/>
<ellipse cx="74.50" cy="528.00" rx="5.00" ry="14.00" fill="url(#g_Rl)" opacity="0.7"/>
<ellipse cx="74.50" cy="515.00" rx="6.50" ry="11.00" fill="url(#g_R)"/>
<path d="M274 991h2M254 999h2M274 970h2M273 993h2M277 982h2M263 989h2M278 990h2M270 1001h2M250 987h2M253 965h2M278 996h2M271 992h2M273 1000h2M267 993h2M280 969h2M291 981h2M260 980h2M287 982h2M286 977h2M279 968h2M271 1001h2M268 989h2M250 1005h2M272 992h2M270 976h2M270 983h2M261 985h2M262 982h2M236 976h2M279 989h2M272 991h2M299 991h2M277 986h2M280 994h2M245 1010h2M288 992h2M267 986h2M265 1002h2M266 969h2M272 978h2M278 989h2M263 970h2M270 973h2M272 989h2M270 989h2M269 1005h2M251 975h2M290 973h2M283 985h2M275 971h2M269 985h2M246 987h2M269 962h2M277 983h2M254 999h2M273 974h2M263 990h2M267 995h2M258 990h2M281 993h2M264 976h2M259 988h2M246 1017h2M271 1000h2M270 1001h2M271 998h2M288 990h2M257 991h2M277 983h2M271 994h2M246 993h2M296 980h2M291 982h2M270 983h2M274 978h2M266 984h2M262 986h2M288 978h2M277 979h2M259 987h2M271 998h2M284 988h2M266 1001h2M257 979h2M284 991h2M283 984h2M284 999h2M248 992h2M288 976h2M262 991h2M283 987h2M252 989h2M273 983h2M288 964h2M276 980h2M282 983h2M298 989h2M267 969h2M271 986h2M296 991h2" stroke="#40c040" stroke-width="2" opacity="0.5" fill="none" transform="scale(.5)"/>
<ellipse cx="139.20" cy="494.20" rx="11.00" ry="9.00" fill="url(#g_G)"/>
<ellipse cx="139.20" cy="494.20" rx="7.50" ry="6.50" fill="url(#g_G)"/>
<path d="M145.0,489.0 L152.0,490.0 L158.0,498.0 L162.0,508.0 L163.0,520.0 L161.0,532.0 L157.0,540.0 L152.0,538.0 L149.0,526.0 L147.0,512.0 L144.0,500.0 Z" fill="#3020a8" opacity="0.6" filter="url(#bl2)"/>
<path d="M299 994h2M299 992h2M295 1049h2M290 979h2M325 1074h2M295 965h2M289 994h2M312 1023h2M299 1037h2M306 1049h2M300 984h2M313 1028h2M319 1021h2M300 1025h2M320 1046h2M324 1066h2M302 1020h2M306 983h2M316 1067h2M301 1075h2M321 990h2M326 1055h2M305 1000h2M305 999h2M304 999h2M289 1014h2M311 1041h2M307 1065h2M309 1022h2M301 1011h2M312 1036h2M310 990h2M292 1026h2M300 1018h2M288 1047h2M324 1039h2M321 1049h2M311 1043h2M319 1044h2M311 1025h2M301 1044h2M306 1052h2M298 1101h2M300 988h2M292 985h2M309 1029h2M322 1045h2M303 1015h2M294 997h2M313 1059h2M301 969h2M290 1087h2M317 1020h2M305 1042h2M316 1031h2M304 1038h2M298 993h2M312 990h2M288 977h2M315 1080h2M315 1029h2M312 1047h2M295 989h2M312 1094h2M287 987h2M308 1015h2M303 1035h2M291 965h2M316 1035h2M296 1013h2M307 1001h2M316 1033h2M318 1091h2M311 1098h2M312 1006h2M326 1042h2M306 1013h2M302 1013h2M309 1060h2M324 1075h2M317 1024h2M311 1018h2M316 1052h2M303 998h2M308 1097h2M293 1007h2M306 1014h2M321 1081h2M292 1036h2M300 974h2M325 1084h2M310 1047h2M311 1067h2M301 1030h2M294 1003h2M317 1025h2M302 966h2M287 997h2M324 1007h2M315 1042h2M308 1053h2M310 1048h2M310 1096h2M307 990h2M306 1006h2M288 996h2M315 1077h2M300 986h2M307 995h2M306 1034h2M302 1008h2M301 1017h2M319 1035h2M310 1025h2M294 1056h2M304 988h2M290 1009h2M297 1007h2M317 1075h2M310 1055h2M308 1031h2M295 1059h2M313 1025h2M306 1046h2M314 1048h2M298 970h2M287 967h2M297 1026h2M303 1002h2M324 1034h2M304 999h2M316 1016h2M296 1023h2M310 996h2M311 1063h2M310 1064h2M314 1008h2M323 1048h2M303 1014h2M312 1009h2M299 1073h2M308 1028h2M314 1075h2M314 1090h2M306 1065h2M299 1069h2M295 1022h2M307 998h2M311 1028h2M326 1061h2M307 1021h2M309 1085h2M293 982h2M294 1014h2M316 1063h2M306 1053h2M309 1028h2M304 1057h2M303 1020h2M303 1020h2M318 1070h2M301 1004h2M303 1023h2M317 1057h2M296 1043h2M311 1083h2M305 996h2M308 1087h2M303 1052h2M293 1031h2M296 1009h2M294 963h2M305 1014h2M300 1078h2M305 1046h2M324 1041h2M316 1035h2M302 1037h2M294 1050h2M317 1043h2M289 984h2M296 1019h2M299 1035h2M302 1035h2M305 1027h2M305 1008h2M315 1035h2M305 1030h2M315 1025h2M322 1030h2M308 1028h2M312 1046h2M306 1060h2M300 998h2M291 999h2M302 1002h2M318 1009h2M289 996h2M303 1023h2M309 999h2M316 1064h2M289 963h2M316 1067h2M309 1028h2M300 1094h2M294 984h2M303 1035h2M299 994h2M320 1051h2M292 985h2M302 1072h2M319 1091h2M294 1084h2M305 1007h2M309 1002h2M307 1049h2M309 1039h2M316 1068h2M319 1000h2M308 1041h2M294 1011h2M308 1029h2M311 1018h2M287 975h2M291 1042h2M305 1012h2M302 982h2M300 1021h2M296 1019h2M311 1056h2M306 991h2M307 1012h2M309 1005h2M309 992h2M308 1062h2M322 1060h2M313 1064h2M304 1061h2M308 1022h2M307 1071h2M289 1018h2M294 998h2M302 1041h2M300 1013h2M304 995h2M299 1069h2M314 1088h2M297 972h2M312 1047h2M295 976h2M306 1103h2M311 1026h2M318 1071h2M311 1078h2M309 1036h2M312 1040h2M309 1090h2M298 1019h2M310 1024h2M301 1015h2M306 1003h2M300 1042h2M324 1047h2M288 979h2M317 1046h2M310 1053h2M315 1047h2M306 967h2M295 1010h2M312 1044h2M311 1018h2M312 1019h2M317 1049h2M306 968h2M290 1001h2M300 1045h2M312 1013h2M323 1061h2M305 1055h2M315 1007h2M289 1055h2M313 1052h2M310 1026h2M299 998h2M297 996h2M323 1089h2M299 997h2M317 1037h2M296 1022h2M298 986h2M319 1077h2M326 1075h2M312 1024h2M322 1075h2M310 1049h2M300 1031h2M292 989h2M301 1000h2M314 1062h2M289 1029h2M316 1050h2M325 1033h2M313 1005h2M293 1011h2M309 1065h2M313 1029h2M298 1037h2M299 1016h2M302 1093h2M324 1009h2M288 1033h2M295 971h2M300 995h2M287 987h2M315 1069h2M292 980h2M300 1025h2M318 1032h2" stroke="#3828b8" stroke-width="2" opacity="0.55" fill="none" transform="scale(.5)"/>
<ellipse cx="150.00" cy="497.00" rx="5.50" ry="6.00" fill="url(#g_B)" opacity="0.8"/>
<ellipse cx="153.00" cy="507.00" rx="5.00" ry="7.00" fill="url(#g_P)" transform="rotate(-20 153.00 507.00)" opacity="0.8"/>
<ellipse cx="160.00" cy="515.00" rx="6.00" ry="11.50" fill="url(#g_R)" opacity="0.85"/>
<ellipse cx="156.00" cy="535.00" rx="3.50" ry="7.00" fill="url(#g_Bl)" opacity="0.5"/>
<path d="M473 1015h2M441 1021h2M426 1002h2M430 985h2M455 994h2M452 989h2M422 974h2M436 980h2M441 973h2M446 997h2M441 1006h2M451 1001h2M435 994h2M428 971h2M424 987h2M451 1015h2M452 987h2M463 993h2M448 993h2M461 1009h2M428 992h2M441 992h2M481 989h2M414 1001h2M441 981h2M479 1013h2M462 994h2M438 1007h2M444 994h2M445 993h2M420 978h2M430 967h2M432 986h2M445 990h2M442 1003h2M419 985h2M445 982h2M467 990h2M463 997h2M444 1002h2M427 978h2M442 965h2M442 989h2M423 980h2M430 1017h2M465 998h2M451 1006h2M449 1005h2M460 1015h2M463 985h2M456 1004h2M457 1015h2M452 987h2M460 1004h2M448 997h2M450 994h2M453 987h2M458 995h2M472 995h2M450 978h2M480 989h2M441 988h2M448 990h2M472 986h2M445 986h2M456 973h2M462 987h2M428 1007h2M429 999h2M448 984h2M425 983h2M459 990h2M440 1002h2M448 992h2M436 976h2M441 994h2M442 995h2M444 989h2M447 995h2M417 991h2M445 986h2M462 1004h2M464 999h2M454 993h2M458 984h2M446 995h2M446 978h2M447 987h2M439 998h2M463 992h2M432 989h2M445 980h2M439 993h2M440 996h2M430 998h2M438 992h2M448 985h2M462 972h2M451 998h2M444 990h2" stroke="#40c040" stroke-width="2" opacity="0.5" fill="none" transform="scale(.5)"/>
<ellipse cx="224.60" cy="495.70" rx="11.50" ry="9.00" fill="url(#g_G)"/>
<ellipse cx="224.60" cy="495.70" rx="8.00" ry="6.50" fill="url(#g_G)"/>
<path d="M230.0,497.0 L238.0,497.0 L243.0,505.0 L244.0,520.0 L241.0,535.0 L237.0,542.0 L233.0,536.0 L231.0,520.0 L230.0,506.0 Z" fill="#4020a8" opacity="0.6" filter="url(#bl2)"/>
<path d="M464 1031h2M474 1009h2M473 1018h2M465 1029h2M467 1067h2M467 1088h2M473 1031h2M467 1049h2M465 971h2M482 1011h2M485 1042h2M486 975h2M469 1043h2M468 1035h2M472 1058h2M478 987h2M486 974h2M466 1052h2M471 1059h2M476 1002h2M460 1078h2M471 1028h2M470 1022h2M467 1034h2M475 983h2M460 1054h2M480 1011h2M472 1012h2M476 1029h2M468 1002h2M476 1046h2M469 1048h2M468 1041h2M483 1047h2M463 1067h2M471 1064h2M462 968h2M460 1055h2M482 1042h2M474 1028h2M474 992h2M483 1063h2M481 1029h2M480 1070h2M467 1001h2M480 1051h2M477 1034h2M466 1038h2M461 1043h2M491 1060h2M466 998h2M469 1055h2M470 990h2M474 1052h2M483 983h2M485 1022h2M457 1071h2M481 1053h2M480 997h2M477 968h2M486 1047h2M477 1035h2M478 1040h2M465 1018h2M457 998h2M472 1047h2M491 968h2M490 1015h2M469 1029h2M491 990h2M470 1053h2M481 1047h2M474 1071h2M465 1094h2M469 1047h2M465 1008h2M481 1054h2M471 1064h2M456 1039h2M459 1072h2M466 1032h2M485 966h2M478 1020h2M485 1045h2M467 1015h2M473 1099h2M474 1012h2M470 1065h2M470 1101h2M480 1038h2M474 1019h2M485 1024h2M475 979h2M471 1039h2M472 1034h2M481 1060h2M479 1010h2M469 1032h2M460 976h2M476 1033h2M474 1079h2M471 981h2M478 1087h2M461 1034h2M481 1034h2M469 1070h2M459 1031h2M468 1029h2M463 1039h2M483 1050h2M462 1012h2M467 974h2M479 1052h2M471 1090h2M479 1010h2M473 1027h2M473 1084h2M483 995h2M489 970h2M479 1078h2M474 1052h2M468 1090h2M471 1012h2M461 993h2M477 1034h2M487 1057h2M476 1002h2M477 977h2M467 1087h2M475 988h2M468 1028h2M476 1041h2M469 1038h2M482 1009h2M462 1001h2M463 1013h2M467 1077h2M478 1027h2M476 1095h2M471 989h2M473 985h2M475 1067h2M470 1069h2M470 1056h2M480 1065h2M481 1052h2M479 1069h2M477 1056h2M475 1031h2M458 1031h2M473 1012h2M469 1082h2M469 1029h2M483 1045h2M477 1012h2M468 971h2M478 1034h2M467 1036h2M482 1070h2M480 1079h2M475 1034h2M473 1052h2M459 1045h2M473 999h2M469 1079h2M470 1030h2M485 996h2M473 1017h2M469 1027h2M478 1023h2M481 1062h2M464 1036h2M472 983h2M459 1073h2M475 1081h2M486 1064h2M476 1083h2M472 1018h2M481 1059h2M469 1018h2M470 1014h2M468 1013h2M474 1035h2M474 1099h2M473 1011h2M489 1014h2M479 1043h2M472 995h2M474 1041h2M488 975h2M461 1055h2M470 1078h2M458 975h2M485 999h2M466 1027h2M486 1026h2M479 1027h2M464 1044h2M458 1073h2M460 1039h2M476 1004h2M489 1033h2M477 976h2M469 1042h2M479 1056h2M462 976h2M464 1077h2M459 985h2M474 1031h2M472 1001h2M476 1029h2M471 1042h2M471 1026h2M482 1061h2M474 1038h2M484 981h2M457 1034h2M459 992h2M475 1041h2M470 1003h2M461 1005h2M466 1032h2M480 1022h2M464 1049h2M483 1045h2M469 1018h2M470 992h2M480 1021h2M488 1080h2M469 1003h2M459 1033h2M476 1019h2M472 1051h2M467 1031h2M471 1092h2M478 1029h2M465 1027h2M467 1019h2M476 1064h2M481 1010h2M474 1032h2M481 1068h2M475 1053h2M457 1046h2M472 1031h2M475 987h2M470 1065h2M479 1040h2M477 1003h2M470 1004h2M469 1042h2M474 1071h2M488 1053h2M466 1034h2M467 1003h2M470 1070h2M467 1046h2M467 1067h2M482 978h2M479 1000h2M476 1030h2M480 985h2M488 1047h2M468 1082h2M484 1054h2M469 1003h2M466 1096h2M473 1033h2M470 1081h2M470 1067h2M459 1003h2M476 997h2M476 1054h2M477 1031h2M475 1010h2M473 1103h2M473 1076h2M484 1012h2M488 976h2M469 1031h2M471 1057h2M472 1057h2M466 973h2M488 1044h2M476 989h2M477 1032h2M477 1039h2M481 1088h2M470 1019h2M479 978h2" stroke="#4030b8" stroke-width="2" opacity="0.55" fill="none" transform="scale(.5)"/>
<ellipse cx="241.50" cy="500.00" rx="5.00" ry="4.00" fill="url(#g_Rl)" opacity="0.6"/>
<ellipse cx="235.50" cy="506.00" rx="4.50" ry="8.00" fill="url(#g_P)" opacity="0.8"/>
<ellipse cx="243.00" cy="517.00" rx="5.00" ry="11.50" fill="url(#g_R)" opacity="0.85"/>
<ellipse cx="236.00" cy="538.00" rx="3.00" ry="6.00" fill="url(#g_Bl)" opacity="0.5"/>
<path d="M591 995h2M571 1019h2M597 997h2M584 1005h2M594 986h2M606 1015h2M580 999h2M631 997h2M591 1016h2M604 1009h2M624 1006h2M605 1019h2M580 987h2M598 992h2M598 979h2M578 1007h2M598 1003h2M595 999h2M580 1018h2M615 985h2M595 1003h2M595 998h2M604 979h2M611 1004h2M587 997h2M600 996h2M601 983h2M602 1003h2M606 1004h2M593 1000h2M614 1000h2M604 1000h2M608 985h2M600 1008h2M588 1005h2M594 994h2M585 989h2M617 984h2M603 984h2M629 1006h2M590 987h2M597 1003h2M624 1014h2M587 1002h2M614 991h2M594 1009h2M581 999h2M600 996h2M601 982h2M612 994h2M628 1020h2M594 1020h2M621 990h2M597 1012h2M591 995h2M566 984h2M584 991h2M591 1002h2M604 995h2M582 1002h2M609 998h2M620 994h2M613 1002h2M619 1016h2M585 980h2M615 1002h2M606 994h2M590 1012h2M607 993h2M601 1002h2M583 992h2M608 1001h2M582 1002h2M629 1006h2M582 994h2M592 991h2M589 993h2M600 986h2M614 1002h2M628 1008h2M614 1005h2M599 988h2M610 1000h2M592 1003h2M605 992h2M621 994h2M603 1010h2M594 996h2M607 996h2M594 987h2M604 995h2M612 1010h2M601 1007h2M591 1016h2M593 998h2M596 994h2M612 999h2M588 1007h2M601 1005h2M604 994h2M576 996h2M588 1012h2M598 1015h2M633 1011h2M634 989h2M594 988h2M582 986h2M613 991h2M596 1005h2M595 1016h2" stroke="#40c040" stroke-width="2" opacity="0.45" fill="none" transform="scale(.5)"/>
<ellipse cx="300.40" cy="499.50" rx="10.00" ry="8.50" fill="url(#g_G)" opacity="0.8"/>
<ellipse cx="322.50" cy="510.00" rx="5.00" ry="10.00" fill="url(#g_Rl)" opacity="0.5"/>
<ellipse cx="324.20" cy="504.20" rx="6.00" ry="9.00" fill="url(#g_R)"/>
<ellipse cx="317.30" cy="502.60" rx="7.50" ry="9.00" fill="url(#g_Bv)"/>
<ellipse cx="317.30" cy="502.60" rx="5.00" ry="6.50" fill="url(#g_Bv)"/>
<path d="M795 1003h2M802 1001h2M782 1007h2M794 979h2M794 1006h2M751 1018h2M782 1011h2M765 997h2M771 985h2M784 978h2M780 1003h2M770 982h2M787 1005h2M792 988h2M775 1010h2M791 998h2M783 993h2M788 1003h2M781 998h2M762 993h2M801 997h2M762 989h2M781 1011h2M808 994h2M778 996h2M766 1010h2M765 1003h2M774 983h2M784 1014h2M764 997h2M771 1007h2M761 980h2M775 980h2M793 978h2M781 989h2M793 989h2M778 1014h2M788 1009h2M798 1000h2M784 975h2M758 990h2M784 1008h2M770 991h2M807 982h2M778 994h2M771 1012h2M760 991h2M758 987h2M800 972h2M758 995h2M785 986h2M786 992h2M775 996h2M796 981h2M791 998h2M777 986h2M784 1004h2M768 1003h2M780 1004h2M784 992h2M783 1002h2M761 995h2M749 997h2M774 995h2M793 1005h2M798 1005h2M777 986h2M813 987h2M775 1000h2M769 996h2M783 989h2M767 995h2M786 983h2M782 996h2M769 1000h2M762 1005h2M771 1006h2M781 995h2M763 1003h2M766 1020h2M786 997h2M780 1003h2M786 999h2M791 993h2M801 977h2M759 1001h2M780 977h2M765 986h2M796 1002h2M759 979h2M782 981h2M772 988h2M781 1001h2M771 989h2M784 1013h2M785 991h2M792 993h2M762 1002h2M801 982h2M790 981h2M779 993h2M776 993h2M789 989h2M777 991h2M784 987h2M790 998h2M772 980h2M777 1006h2M788 995h2M806 1013h2" stroke="#40c040" stroke-width="2" opacity="0.45" fill="none" transform="scale(.5)"/>
<ellipse cx="390.00" cy="497.20" rx="9.50" ry="9.50" fill="url(#g_G)" opacity="0.85"/>
<ellipse cx="408.50" cy="498.00" rx="8.50" ry="10.00" fill="url(#g_R)"/>
<ellipse cx="404.60" cy="498.80" rx="7.50" ry="8.50" fill="url(#g_Bv)"/>
<ellipse cx="404.60" cy="498.80" rx="5.00" ry="6.00" fill="url(#g_Bv)"/>
<path d="M944 1001h2M932 986h2M940 973h2M937 985h2M958 994h2M961 985h2M960 991h2M944 993h2M916 997h2M929 995h2M935 981h2M931 992h2M931 1004h2M955 990h2M930 1002h2M937 999h2M915 972h2M948 997h2M934 988h2M943 994h2M935 989h2M940 999h2M947 967h2M942 987h2M953 995h2M928 988h2M899 988h2M919 990h2M925 1000h2M957 986h2M922 1000h2M915 986h2M930 991h2M937 981h2M950 992h2M941 1003h2M966 991h2M930 987h2M934 980h2M925 985h2M944 996h2M897 975h2M926 980h2M936 974h2M932 991h2M942 985h2M943 996h2M931 980h2M928 992h2M941 975h2M912 975h2M965 993h2M939 979h2M902 1007h2M946 968h2M962 993h2M935 991h2M950 972h2M941 978h2M930 987h2M929 983h2M939 986h2M940 996h2M922 987h2M922 996h2M948 998h2M953 990h2M920 983h2M955 990h2M949 984h2M932 1006h2M952 975h2M925 990h2M953 998h2M950 1000h2M947 996h2M922 979h2M928 1000h2M958 980h2M932 990h2M945 992h2M960 991h2M933 987h2M953 987h2M944 986h2M918 971h2M931 982h2M949 986h2M921 995h2M929 1007h2M929 990h2M924 1002h2M941 987h2M935 971h2M956 989h2M955 982h2M959 983h2M937 1007h2M928 989h2M934 990h2M938 988h2M943 985h2M957 995h2M918 985h2M931 997h2M905 999h2M905 984h2M922 986h2M949 997h2M934 987h2" stroke="#40c040" stroke-width="2" opacity="0.45" fill="none" transform="scale(.5)"/>
<ellipse cx="469.70" cy="494.90" rx="9.00" ry="7.00" fill="url(#g_G)" opacity="0.85"/>
<ellipse cx="488.00" cy="518.00" rx="6.00" ry="14.00" fill="url(#g_Rl)" opacity="0.8"/>
<path d="M960 1090h2M956 1044h2M966 1071h2M963 1066h2M951 1076h2M964 1071h2M967 1036h2M956 1036h2M968 1078h2M977 1085h2M984 1085h2M982 1080h2M971 1017h2M976 1057h2M965 1027h2M978 1060h2M965 1041h2M967 1071h2M973 1063h2M970 1062h2M965 1089h2M967 1046h2M982 1037h2M964 1063h2M967 1058h2M976 1086h2M959 1035h2M973 1035h2M958 1081h2M972 1070h2M979 1086h2M964 1049h2M971 1050h2M970 1082h2M970 1025h2M981 1059h2M971 1019h2M968 1028h2M981 1048h2M957 1057h2M961 1062h2M961 1017h2M966 1053h2M962 1077h2M975 1058h2M967 1069h2M975 1065h2M959 1076h2M987 1076h2M971 1046h2M956 1073h2M973 1072h2M969 1092h2M967 1013h2M967 1065h2M974 1074h2M974 1072h2M970 1031h2M965 1086h2M981 994h2M967 1049h2M975 1011h2M964 1065h2M962 1017h2M983 1054h2M969 1076h2M983 1043h2M967 1052h2M976 1084h2M981 1049h2M958 1045h2M953 1069h2M952 1071h2M960 1071h2M980 1057h2M967 1061h2M963 1069h2M966 1064h2M961 1074h2M971 1039h2M967 1025h2M957 1033h2M971 1050h2M968 1067h2M966 1056h2M961 1075h2M959 1058h2M971 1048h2M985 1067h2M971 1019h2M971 1030h2M972 1069h2M967 1046h2M961 1044h2M980 1040h2M965 1070h2M957 1050h2M977 1066h2M972 1078h2M968 1001h2M974 1074h2M949 1055h2M979 1031h2M975 1096h2M967 1053h2" stroke="#5030b0" stroke-width="2" opacity="0.35" fill="none" transform="scale(.5)"/>
<ellipse cx="486.00" cy="516.00" rx="6.00" ry="15.00" fill="url(#g_Rl)" opacity="0.7"/>
<ellipse cx="483.50" cy="511.00" rx="6.50" ry="16.00" fill="url(#g_B)"/>
<ellipse cx="483.50" cy="510.00" rx="4.50" ry="12.00" fill="url(#g_B)"/>
<line x1="4.30" y1="497.10" x2="4.30" y2="485.07" stroke="#000" stroke-width="2"/>
<path d="M4.30,480.20 L7.18,485.57 L1.42,485.57 Z" fill="#000"/>
<text x="7.3" y="515.6" font-size="7.5" class="sb" text-anchor="middle" textLength="26.6" lengthAdjust="spacingAndGlyphs" transform="rotate(-90 7.3 515.6)">MHC-II</text>
<line x1="4.30" y1="531.60" x2="4.30" y2="547.70" stroke="#000" stroke-width="2"/>
<line x1="29.50" y1="574.00" x2="43.75" y2="574.00" stroke="#000" stroke-width="1.6"/>
<text x="62.0" y="578.0" font-size="11" class="sb" text-anchor="middle" textLength="24" lengthAdjust="spacingAndGlyphs">F4/80</text>
<line x1="77.50" y1="573.80" x2="428.65" y2="573.80" stroke="#000" stroke-width="1.8"/>
<path d="M434.40,573.80 L428.15,576.80 L428.15,570.80 Z" fill="#000"/>
<rect x="444.60" y="567.90" width="74.80" height="30.90" fill="none" stroke="#111" stroke-width="1.2"/>
<rect x="449.8" y="570.4" width="8.1" height="6.1" fill="#e8202a"/>
<rect x="449.8" y="580.2" width="8.1" height="6.5" fill="#1f4e9c"/>
<rect x="449.8" y="589.8" width="8.1" height="6.5" fill="#8cc850"/>
<text x="463.3" y="575.8" font-size="8" class="sr" textLength="44" lengthAdjust="spacingAndGlyphs">PKH<tspan dy="-3.04" font-size="4.96">+</tspan><tspan dy="3.04"> resMφs</tspan></text>
<text x="463.3" y="586.2" font-size="8" class="sr" textLength="44" lengthAdjust="spacingAndGlyphs">PKH<tspan dy="-3.04" font-size="4.96">-</tspan><tspan dy="3.04"> moMφs</tspan></text>
<text x="463.3" y="595.8" font-size="8" class="sr">moDCs</text>
<text x="65.5" y="618.5" font-size="11.5" class="nb">E</text>
<text x="168.0" y="614.4" font-size="7.5" class="sb" text-anchor="middle" textLength="20" lengthAdjust="spacingAndGlyphs">Blood</text>
<text x="139.9" y="624.2" font-size="6.5" class="sb" text-anchor="middle" textLength="10.6" lengthAdjust="spacingAndGlyphs">WT</text>
<text x="208.2" y="624.2" font-size="6.5" class="sbi" text-anchor="middle" textLength="14.4" lengthAdjust="spacingAndGlyphs">ccr2<tspan dy="-2.47" font-size="4.03">-/-</tspan></text>
<rect x="110.40" y="629.20" width="55.20" height="54.30" fill="none" stroke="#999" stroke-width="0.6"/>
<line x1="136.70" y1="629.20" x2="136.70" y2="683.50" stroke="#aaa" stroke-width="0.6"/>
<line x1="110.40" y1="661.90" x2="165.60" y2="661.90" stroke="#aaa" stroke-width="0.6"/>
<text x="108.1" y="633.2" font-size="3.4" class="nr" text-anchor="end" fill="#777">10<tspan dy="-1.29" font-size="2.11">5</tspan></text>
<text x="108.1" y="646.2" font-size="3.4" class="nr" text-anchor="end" fill="#777">10<tspan dy="-1.29" font-size="2.11">4</tspan></text>
<text x="108.1" y="659.2" font-size="3.4" class="nr" text-anchor="end" fill="#777">10<tspan dy="-1.29" font-size="2.11">3</tspan></text>
<text x="108.1" y="672.2" font-size="3.4" class="nr" text-anchor="end" fill="#777">10<tspan dy="-1.29" font-size="2.11">2</tspan></text>
<text x="108.1" y="679.2" font-size="3.4" class="nr" text-anchor="end" fill="#777">0</text>
<text x="115.0" y="689.0" font-size="3.4" class="nr" text-anchor="middle" fill="#777">0</text>
<text x="121.0" y="689.0" font-size="3.4" class="nr" text-anchor="middle" fill="#777">10<tspan dy="-1.29" font-size="2.11">2</tspan></text>
<text x="138.0" y="689.0" font-size="3.4" class="nr" text-anchor="middle" fill="#777">10<tspan dy="-1.29" font-size="2.11">3</tspan></text>
<text x="150.0" y="689.0" font-size="3.4" class="nr" text-anchor="middle" fill="#777">10<tspan dy="-1.29" font-size="2.11">4</tspan></text>
<text x="162.0" y="689.0" font-size="3.4" class="nr" text-anchor="middle" fill="#777">10<tspan dy="-1.29" font-size="2.11">5</tspan></text>
<path d="M108.9,632.0h1.5M108.9,645.0h1.5M108.9,658.0h1.5M108.9,671.0h1.5M108.9,678.0h1.5M115.0,683.5v1.5M121.0,683.5v1.5M138.0,683.5v1.5M150.0,683.5v1.5M162.0,683.5v1.5" stroke="#888" stroke-width="0.5" fill="none"/>
<g clip-path="url(#c1)">
<path d="M244 1320h2M239 1305h2M229 1335h2M256 1283h2M247 1294h2M250 1294h2M253 1288h2M231 1324h2M246 1263h2M249 1324h2M232 1332h2M258 1292h2M247 1333h2M222 1311h2M230 1293h2M236 1319h2M253 1313h2M257 1328h2M245 1289h2M249 1277h2M280 1276h2M264 1299h2M270 1290h2M236 1320h2M227 1310h2M282 1305h2M226 1304h2M234 1312h2M225 1295h2M253 1304h2M225 1314h2M223 1327h2M253 1333h2M249 1291h2M242 1306h2M240 1333h2M223 1295h2M263 1300h2M249 1289h2M268 1305h2M258 1300h2M238 1303h2M223 1292h2M256 1307h2M248 1272h2M272 1324h2M263 1317h2M226 1332h2M248 1283h2M257 1320h2M242 1296h2M243 1276h2M275 1301h2M247 1309h2M230 1282h2M241 1335h2M266 1295h2M230 1292h2M246 1275h2M257 1297h2M226 1324h2M265 1278h2M236 1299h2M249 1327h2M237 1277h2M229 1329h2M273 1309h2M260 1282h2M233 1266h2M250 1272h2M235 1321h2M235 1332h2M227 1286h2M252 1304h2M265 1322h2M236 1314h2M264 1308h2M260 1301h2M225 1270h2M289 1275h2M236 1291h2M253 1281h2M249 1268h2M232 1330h2M271 1319h2M256 1322h2M246 1287h2M242 1284h2M224 1315h2M233 1309h2M259 1282h2M258 1270h2M255 1315h2M249 1325h2M270 1310h2M243 1305h2M247 1297h2M272 1322h2M245 1271h2M225 1284h2M260 1326h2M235 1296h2M227 1307h2M238 1331h2M268 1313h2M223 1311h2M224 1335h2M234 1298h2M249 1302h2M255 1296h2M225 1302h2M235 1336h2M227 1272h2M264 1330h2M233 1307h2M237 1319h2M252 1311h2M244 1299h2M238 1297h2M285 1306h2M239 1320h2M236 1298h2M251 1301h2M230 1284h2M250 1322h2M226 1316h2M251 1266h2M259 1321h2M271 1334h2M283 1280h2M237 1329h2M237 1283h2M236 1282h2M241 1294h2M254 1283h2M257 1281h2M239 1297h2M246 1317h2M259 1286h2M234 1314h2M246 1321h2M257 1326h2M267 1260h2M262 1261h2M237 1306h2M260 1267h2M233 1286h2M262 1320h2M235 1276h2M245 1303h2M254 1331h2M258 1304h2M260 1322h2M250 1336h2M231 1260h2M222 1298h2M230 1333h2M269 1307h2M227 1287h2M244 1309h2M246 1282h2M238 1274h2M249 1311h2M232 1308h2M259 1306h2M242 1298h2M244 1307h2M248 1316h2M236 1271h2M232 1301h2M253 1324h2M254 1261h2M236 1261h2M244 1311h2M234 1326h2M240 1288h2M247 1336h2M259 1296h2M265 1326h2M279 1302h2M245 1314h2M255 1292h2M267 1270h2M253 1297h2M229 1330h2M259 1320h2M247 1323h2M225 1302h2M247 1294h2M227 1297h2M243 1283h2M244 1286h2M246 1325h2M275 1282h2M238 1280h2M260 1276h2M282 1308h2M237 1302h2M224 1324h2M264 1281h2M256 1320h2M269 1302h2M227 1312h2M249 1297h2M224 1324h2M238 1264h2M237 1317h2M265 1280h2M226 1316h2M239 1315h2M228 1321h2M248 1289h2M284 1324h2M226 1306h2M249 1274h2M224 1327h2M239 1303h2M259 1297h2M238 1299h2M234 1279h2M248 1313h2M253 1302h2M298 1302h2M239 1305h2M236 1285h2M260 1315h2M246 1297h2M247 1297h2M251 1335h2M235 1295h2M261 1303h2M249 1312h2M265 1320h2M239 1273h2M228 1297h2M231 1329h2M233 1273h2M262 1304h2" stroke="#3048e0" stroke-width="2" opacity="0.55" fill="none" transform="scale(.5)"/>
<path d="M292 1301h2M276 1278h2M284 1281h2M296 1295h2M291 1290h2M267 1279h2M298 1301h2M309 1309h2M272 1273h2M291 1292h2M275 1275h2M320 1275h2M302 1297h2M319 1290h2M311 1288h2M307 1301h2M292 1276h2M301 1266h2M320 1285h2M281 1298h2M310 1294h2M280 1296h2M295 1287h2M276 1294h2M277 1301h2M256 1282h2M296 1276h2M330 1279h2M280 1287h2M296 1301h2M283 1286h2M318 1290h2M308 1290h2M282 1285h2M272 1284h2M296 1290h2M308 1291h2M300 1283h2M259 1298h2M328 1288h2M310 1283h2M274 1293h2M309 1295h2M315 1291h2M289 1291h2M274 1287h2M258 1281h2M308 1286h2M246 1281h2M308 1289h2M290 1295h2M316 1288h2M297 1306h2M304 1286h2M275 1286h2M316 1274h2M305 1287h2M305 1292h2M260 1286h2M251 1289h2M276 1297h2M255 1292h2M272 1286h2M257 1305h2M287 1291h2M290 1283h2M286 1287h2M302 1296h2M293 1299h2M285 1280h2M257 1297h2M285 1294h2M307 1283h2M318 1296h2M325 1296h2M269 1295h2M295 1278h2M310 1288h2M300 1303h2M319 1287h2M307 1298h2M295 1299h2M304 1286h2M321 1288h2M282 1287h2M256 1299h2M267 1275h2M299 1272h2M286 1296h2" stroke="#3048e0" stroke-width="2" opacity="0.5" fill="none" transform="scale(.5)"/>
<path d="M310 1344h2M292 1317h2M308 1352h2M298 1356h2M231 1318h2M225 1327h2M305 1310h2M284 1334h2M277 1331h2M327 1336h2M330 1345h2M285 1338h2M326 1325h2M281 1361h2M324 1349h2M285 1332h2M311 1344h2M325 1314h2M325 1316h2M273 1326h2M285 1357h2M280 1339h2M328 1321h2M298 1339h2M281 1315h2M278 1290h2M282 1328h2M324 1307h2M300 1359h2M323 1366h2M296 1306h2M301 1347h2M271 1330h2M281 1320h2M295 1323h2M301 1326h2M265 1322h2M306 1350h2M309 1318h2M275 1352h2M293 1345h2" stroke="#5068e0" stroke-width="2" opacity="0.35" fill="none" transform="scale(.5)"/>
<path d="M111.0,648.0 L128.0,646.0 L133.0,668.0 L111.0,668.0 Z" fill="#2a40e0" opacity="0.45" filter="url(#bl3)"/>
<ellipse cx="151.00" cy="642.70" rx="7.00" ry="3.50" fill="url(#g_blue)"/>
<ellipse cx="152.00" cy="642.70" rx="4.00" ry="2.20" fill="url(#g_B)" opacity="0.7"/>
<path d="M109.0,664.0 L128.0,663.0 L133.0,672.0 L132.0,686.0 L109.0,686.0 Z" fill="#1830e0" opacity="0.95" filter="url(#bl2)"/>
<ellipse cx="117.00" cy="677.00" rx="13.00" ry="11.00" fill="url(#g_orange)"/>
</g>
<text x="111.5" y="635.0" font-size="5.5" class="nr">2.7</text>
<text x="164.5" y="635.0" font-size="5.5" class="nr" text-anchor="end">1.69</text>
<text x="111.5" y="682.0" font-size="5.5" class="nr">95</text>
<text x="164.5" y="682.0" font-size="5.5" class="nr" text-anchor="end">0.605</text>
<rect x="182.70" y="628.80" width="55.80" height="56.20" fill="none" stroke="#999" stroke-width="0.6"/>
<line x1="209.60" y1="628.80" x2="209.60" y2="685.00" stroke="#aaa" stroke-width="0.6"/>
<line x1="182.70" y1="663.00" x2="238.50" y2="663.00" stroke="#aaa" stroke-width="0.6"/>
<text x="180.4" y="633.2" font-size="3.4" class="nr" text-anchor="end" fill="#777">10<tspan dy="-1.29" font-size="2.11">5</tspan></text>
<text x="180.4" y="647.2" font-size="3.4" class="nr" text-anchor="end" fill="#777">10<tspan dy="-1.29" font-size="2.11">4</tspan></text>
<text x="180.4" y="660.2" font-size="3.4" class="nr" text-anchor="end" fill="#777">10<tspan dy="-1.29" font-size="2.11">3</tspan></text>
<text x="180.4" y="673.2" font-size="3.4" class="nr" text-anchor="end" fill="#777">10<tspan dy="-1.29" font-size="2.11">2</tspan></text>
<text x="180.4" y="680.2" font-size="3.4" class="nr" text-anchor="end" fill="#777">0</text>
<text x="190.0" y="690.5" font-size="3.4" class="nr" text-anchor="middle" fill="#777">0</text>
<text x="195.0" y="690.5" font-size="3.4" class="nr" text-anchor="middle" fill="#777">10<tspan dy="-1.29" font-size="2.11">2</tspan></text>
<text x="210.0" y="690.5" font-size="3.4" class="nr" text-anchor="middle" fill="#777">10<tspan dy="-1.29" font-size="2.11">3</tspan></text>
<text x="222.0" y="690.5" font-size="3.4" class="nr" text-anchor="middle" fill="#777">10<tspan dy="-1.29" font-size="2.11">4</tspan></text>
<text x="234.0" y="690.5" font-size="3.4" class="nr" text-anchor="middle" fill="#777">10<tspan dy="-1.29" font-size="2.11">5</tspan></text>
<path d="M181.2,632.0h1.5M181.2,646.0h1.5M181.2,659.0h1.5M181.2,672.0h1.5M181.2,679.0h1.5M190.0,685.0v1.5M195.0,685.0v1.5M210.0,685.0v1.5M222.0,685.0v1.5M234.0,685.0v1.5" stroke="#888" stroke-width="0.5" fill="none"/>
<g clip-path="url(#c2)">
<path d="M377 1331h2M381 1311h2M391 1277h2M382 1271h2M390 1316h2M384 1292h2M385 1294h2M383 1310h2M397 1294h2M404 1283h2M400 1265h2M379 1301h2M405 1280h2M390 1338h2M382 1310h2M420 1302h2M373 1316h2M379 1295h2M374 1281h2M415 1264h2M394 1266h2M390 1278h2M379 1299h2M374 1304h2M396 1286h2M388 1290h2M381 1286h2M410 1295h2M397 1270h2M377 1331h2M408 1295h2M375 1336h2M382 1287h2M380 1297h2M375 1337h2M414 1276h2M372 1300h2M370 1307h2M387 1304h2M371 1313h2M381 1305h2M399 1298h2M381 1328h2M384 1274h2M388 1298h2M405 1274h2M403 1336h2M367 1316h2M383 1259h2M373 1308h2M401 1282h2M380 1335h2M377 1283h2M371 1274h2M376 1281h2M437 1287h2M398 1265h2M400 1315h2M367 1270h2M371 1302h2M398 1301h2M370 1274h2M414 1290h2M416 1301h2M377 1292h2M393 1328h2M377 1319h2M372 1325h2M377 1291h2M378 1259h2M394 1260h2M375 1286h2M398 1271h2M417 1260h2M383 1300h2M386 1299h2M397 1283h2M367 1309h2M397 1292h2M401 1304h2M396 1335h2M381 1323h2M408 1313h2M410 1324h2M367 1266h2M405 1276h2M369 1304h2M377 1330h2M387 1339h2M392 1316h2M367 1312h2M390 1305h2M387 1306h2M377 1324h2M384 1277h2M400 1327h2M404 1292h2M396 1316h2M403 1320h2M374 1311h2M382 1282h2M383 1330h2M383 1273h2M367 1318h2M423 1307h2M402 1294h2M372 1292h2M390 1308h2M388 1300h2M384 1329h2M387 1274h2M401 1328h2M379 1326h2M392 1290h2M388 1281h2M408 1291h2M385 1325h2M423 1323h2M423 1308h2M409 1337h2M373 1316h2M416 1281h2M386 1288h2M375 1299h2M374 1336h2M377 1281h2M383 1329h2M385 1309h2M393 1313h2M431 1302h2M393 1332h2M391 1295h2M372 1317h2M372 1323h2M408 1279h2M370 1333h2M368 1337h2M391 1277h2M399 1310h2M388 1338h2M373 1316h2M378 1300h2M389 1299h2M380 1322h2M375 1297h2M389 1309h2M378 1303h2M371 1272h2M380 1302h2M382 1294h2M374 1333h2M394 1266h2M388 1280h2M396 1282h2M390 1283h2M381 1316h2M397 1264h2M374 1280h2M380 1296h2M378 1314h2M385 1277h2M375 1337h2M386 1286h2M375 1329h2M372 1278h2M398 1305h2M408 1298h2M379 1318h2M388 1306h2M367 1285h2M370 1290h2M407 1278h2M392 1318h2M388 1316h2M388 1335h2M391 1285h2M373 1279h2M370 1279h2M388 1334h2M380 1336h2" stroke="#4a60e0" stroke-width="2" opacity="0.45" fill="none" transform="scale(.5)"/>
<path d="M475 1341h2M474 1336h2M405 1298h2M450 1320h2M408 1319h2M403 1313h2M461 1329h2M428 1340h2M448 1277h2M466 1272h2M438 1348h2M436 1276h2M416 1311h2M446 1350h2M401 1285h2M465 1280h2M446 1346h2M424 1352h2M447 1303h2M435 1337h2M433 1307h2M406 1358h2M443 1320h2M421 1312h2M453 1333h2M428 1304h2M462 1366h2M432 1336h2M465 1331h2M418 1321h2" stroke="#5a70e0" stroke-width="2" opacity="0.35" fill="none" transform="scale(.5)"/>
<ellipse cx="224.00" cy="643.00" rx="4.00" ry="2.50" fill="url(#g_blue)" opacity="0.3"/>
<path d="M181.0,665.0 L200.0,664.0 L204.0,672.0 L203.0,687.0 L181.0,687.0 Z" fill="#1830e0" opacity="0.9" filter="url(#bl2)"/>
<ellipse cx="190.00" cy="677.00" rx="12.00" ry="10.00" fill="url(#g_orange)"/>
</g>
<text x="184.0" y="635.0" font-size="5.5" class="nr">2.59</text>
<text x="237.0" y="635.0" font-size="5.5" class="nr" text-anchor="end">0.299</text>
<text x="184.0" y="683.5" font-size="5.5" class="nr">96.5</text>
<text x="237.0" y="683.5" font-size="5.5" class="nr" text-anchor="end">0.581</text>
<line x1="92.10" y1="643.70" x2="92.10" y2="632.23" stroke="#000" stroke-width="1.7"/>
<path d="M92.10,628.60 L94.50,632.73 L89.70,632.73 Z" fill="#000"/>
<text x="95.0" y="654.2" font-size="7.5" class="sb" text-anchor="middle" textLength="17" lengthAdjust="spacingAndGlyphs" transform="rotate(-90 95.0 654.2)">Ly6c</text>
<line x1="92.10" y1="664.70" x2="92.10" y2="673.80" stroke="#000" stroke-width="1.7"/>
<line x1="97.00" y1="699.40" x2="107.80" y2="699.40" stroke="#000" stroke-width="1.5"/>
<text x="111.0" y="701.8" font-size="7.5" class="sb" textLength="19.7" lengthAdjust="spacingAndGlyphs">CD115</text>
<line x1="134.00" y1="699.30" x2="204.43" y2="699.30" stroke="#000" stroke-width="1.4"/>
<path d="M208.80,699.30 L203.93,701.34 L203.93,697.26 Z" fill="#000"/>
<text x="332.0" y="613.8" font-size="7.5" class="sb" text-anchor="middle" textLength="39" lengthAdjust="spacingAndGlyphs">Naive cavity</text>
<text x="297.0" y="624.2" font-size="6.5" class="sb" text-anchor="middle" textLength="10.6" lengthAdjust="spacingAndGlyphs">WT</text>
<text x="368.5" y="624.2" font-size="6.5" class="sbi" text-anchor="middle" textLength="14.4" lengthAdjust="spacingAndGlyphs">ccr2<tspan dy="-2.47" font-size="4.03">-/-</tspan></text>
<rect x="267.70" y="628.50" width="65.30" height="57.10" fill="none" stroke="#aaa" stroke-width="0.6"/>
<text x="265.4" y="635.2" font-size="3.4" class="nr" text-anchor="end" fill="#777">10<tspan dy="-1.29" font-size="2.11">4</tspan></text>
<text x="265.4" y="648.2" font-size="3.4" class="nr" text-anchor="end" fill="#777">10<tspan dy="-1.29" font-size="2.11">3</tspan></text>
<text x="265.4" y="663.2" font-size="3.4" class="nr" text-anchor="end" fill="#777">10<tspan dy="-1.29" font-size="2.11">2</tspan></text>
<text x="265.4" y="679.2" font-size="3.4" class="nr" text-anchor="end" fill="#777">0</text>
<text x="278.0" y="691.1" font-size="3.4" class="nr" text-anchor="middle" fill="#777">0</text>
<text x="297.0" y="691.1" font-size="3.4" class="nr" text-anchor="middle" fill="#777">10<tspan dy="-1.29" font-size="2.11">3</tspan></text>
<text x="312.0" y="691.1" font-size="3.4" class="nr" text-anchor="middle" fill="#777">10<tspan dy="-1.29" font-size="2.11">4</tspan></text>
<text x="326.0" y="691.1" font-size="3.4" class="nr" text-anchor="middle" fill="#777">10<tspan dy="-1.29" font-size="2.11">5</tspan></text>
<path d="M266.2,634.0h1.5M266.2,647.0h1.5M266.2,662.0h1.5M266.2,678.0h1.5M278.0,685.6v1.5M297.0,685.6v1.5M312.0,685.6v1.5M326.0,685.6v1.5" stroke="#888" stroke-width="0.5" fill="none"/>
<g clip-path="url(#c3)">
<path d="M568 1288h2M567 1328h2M573 1297h2M573 1345h2M554 1356h2M589 1326h2M566 1353h2M583 1332h2M571 1314h2M581 1302h2M565 1283h2M567 1345h2M558 1356h2M580 1338h2M572 1317h2M551 1289h2M548 1311h2M551 1343h2M550 1292h2M572 1336h2M597 1347h2M600 1359h2M565 1283h2M567 1275h2M549 1313h2M575 1305h2M565 1327h2M572 1351h2M577 1318h2M570 1305h2M583 1342h2M559 1265h2M587 1348h2M558 1348h2M557 1281h2M556 1306h2M574 1329h2M573 1332h2M560 1279h2M569 1317h2M550 1343h2M557 1298h2M573 1281h2M575 1345h2M584 1352h2M582 1367h2M594 1368h2M553 1356h2M552 1337h2M563 1352h2M569 1313h2M554 1283h2M556 1321h2M551 1326h2M562 1287h2M566 1294h2M587 1318h2M559 1311h2M558 1356h2M572 1329h2M583 1359h2M573 1310h2M563 1370h2M578 1344h2M578 1310h2M585 1321h2M559 1369h2M548 1268h2M588 1329h2M561 1342h2M560 1337h2M563 1335h2M556 1360h2M569 1349h2M563 1367h2M603 1366h2M571 1317h2M554 1312h2M584 1353h2M564 1326h2M551 1313h2M549 1349h2M580 1318h2M581 1261h2M580 1354h2M582 1351h2M571 1316h2M584 1342h2M557 1289h2M561 1341h2M553 1361h2M580 1327h2M593 1342h2M591 1352h2M551 1343h2M559 1298h2M597 1370h2M569 1352h2M573 1351h2M577 1370h2M570 1309h2M566 1324h2M560 1324h2M568 1346h2M563 1328h2M567 1324h2M549 1348h2M562 1363h2M574 1315h2M579 1317h2M548 1300h2M556 1326h2M557 1283h2M558 1305h2M593 1335h2M577 1332h2M577 1341h2M556 1296h2M594 1353h2M560 1350h2M565 1293h2M548 1314h2M584 1320h2M570 1306h2M573 1353h2M560 1358h2M602 1359h2M562 1333h2M556 1345h2M569 1353h2M568 1335h2M563 1306h2M557 1296h2M578 1343h2M563 1297h2M557 1322h2M571 1304h2M581 1318h2M559 1315h2M553 1283h2M584 1338h2M558 1351h2M570 1310h2M565 1350h2M573 1331h2M568 1298h2M563 1349h2M558 1317h2M590 1328h2M570 1335h2M567 1320h2M589 1339h2M558 1283h2M579 1309h2M570 1324h2M555 1347h2M572 1354h2M566 1370h2M592 1343h2M571 1360h2M558 1318h2M562 1296h2M572 1349h2M566 1296h2M561 1316h2M584 1331h2M581 1296h2M583 1363h2M580 1359h2M559 1292h2M570 1333h2M574 1351h2M570 1364h2M565 1279h2M549 1349h2M565 1282h2M571 1288h2M557 1303h2M559 1305h2M555 1280h2M561 1352h2M559 1313h2M554 1354h2M560 1313h2M568 1283h2M575 1321h2M560 1340h2M558 1366h2M576 1281h2M553 1310h2M587 1362h2M572 1309h2M559 1272h2M550 1352h2M554 1342h2M577 1284h2M588 1354h2M566 1362h2M565 1349h2M579 1332h2M557 1365h2M566 1338h2M581 1284h2M583 1354h2M582 1330h2M568 1361h2" stroke="#3048e0" stroke-width="2" opacity="0.5" fill="none" transform="scale(.5)"/>
<path d="M607 1289h2M589 1291h2M603 1279h2M600 1283h2M593 1291h2M616 1293h2M593 1290h2M597 1299h2M582 1293h2M592 1271h2M615 1274h2M586 1284h2M609 1284h2M609 1287h2M572 1295h2M627 1280h2M614 1283h2M587 1283h2M567 1280h2M613 1293h2M610 1287h2M590 1293h2M636 1288h2M633 1286h2M597 1292h2M604 1283h2M592 1286h2M601 1272h2M610 1299h2M608 1289h2M611 1292h2M615 1282h2M581 1289h2M609 1281h2M597 1289h2M630 1280h2M585 1285h2M587 1281h2M585 1295h2M610 1286h2M630 1311h2M612 1292h2M585 1290h2M591 1273h2M609 1280h2M628 1283h2M597 1278h2M599 1284h2M613 1279h2M589 1277h2M590 1282h2M599 1280h2M618 1279h2M606 1284h2M608 1286h2M594 1285h2M593 1284h2M622 1292h2M626 1278h2M623 1289h2M613 1283h2M633 1278h2M606 1274h2M597 1288h2M606 1287h2M625 1277h2M571 1293h2M575 1283h2M643 1291h2M599 1293h2M587 1291h2M595 1280h2M585 1280h2M606 1300h2M619 1293h2M600 1299h2M600 1297h2M580 1290h2M583 1283h2M599 1271h2M609 1286h2M572 1284h2M600 1273h2M590 1293h2M594 1284h2M600 1283h2M583 1284h2M567 1286h2M596 1274h2M575 1287h2M594 1280h2M592 1287h2M620 1282h2M568 1278h2M585 1288h2M621 1288h2M587 1293h2M594 1276h2M598 1301h2M601 1280h2M615 1279h2M622 1291h2M579 1282h2M595 1279h2M608 1283h2M632 1287h2M618 1293h2M610 1292h2M590 1293h2M619 1294h2M592 1281h2M622 1284h2M646 1289h2M582 1290h2M606 1270h2M591 1268h2M648 1276h2M587 1282h2M588 1295h2M597 1274h2M615 1288h2M577 1292h2M578 1278h2M628 1281h2M603 1279h2M597 1269h2M596 1279h2M618 1282h2M587 1281h2M568 1288h2M571 1275h2M606 1283h2M637 1274h2M608 1299h2M591 1275h2M620 1300h2M588 1292h2M614 1286h2M616 1283h2M613 1283h2" stroke="#3048e0" stroke-width="2" opacity="0.55" fill="none" transform="scale(.5)"/>
<path d="M274.5,646.0 L278.0,640.0 L284.0,640.0 L287.0,652.0 L289.0,684.0 L274.5,684.0 Z" fill="#1a34e0" opacity="0.75" filter="url(#bl2)"/>
<ellipse cx="301.00" cy="642.50" rx="9.00" ry="4.50" fill="url(#g_blue)" opacity="0.7"/>
<ellipse cx="279.00" cy="668.00" rx="5.00" ry="15.00" fill="url(#g_cy2)"/>
<ellipse cx="278.60" cy="670.00" rx="3.50" ry="10.00" fill="url(#g_orange)"/>
</g>
<path d="M274.00,633.00 L291.00,633.00 L291.00,653.00 L303.00,679.00 L298.00,683.00 L274.00,683.00 Z" fill="none" stroke="#999" stroke-width="0.5"/>
<path d="M291.00,633.00 L314.00,633.00 L316.00,635.00 L316.00,651.00 L313.00,653.00 L291.00,653.00 Z" fill="none" stroke="#999" stroke-width="0.5"/>
<text x="322.7" y="635.6" font-size="5" class="sb" text-anchor="middle">DCs</text>
<text x="322.7" y="641.0" font-size="5" class="sb" text-anchor="middle">3.45</text>
<rect x="343.00" y="627.90" width="64.90" height="58.30" fill="none" stroke="#aaa" stroke-width="0.6"/>
<text x="340.7" y="635.2" font-size="3.4" class="nr" text-anchor="end" fill="#777">10<tspan dy="-1.29" font-size="2.11">4</tspan></text>
<text x="340.7" y="647.2" font-size="3.4" class="nr" text-anchor="end" fill="#777">10<tspan dy="-1.29" font-size="2.11">3</tspan></text>
<text x="340.7" y="662.2" font-size="3.4" class="nr" text-anchor="end" fill="#777">10<tspan dy="-1.29" font-size="2.11">2</tspan></text>
<text x="340.7" y="679.2" font-size="3.4" class="nr" text-anchor="end" fill="#777">0</text>
<text x="353.0" y="691.7" font-size="3.4" class="nr" text-anchor="middle" fill="#777">0</text>
<text x="372.0" y="691.7" font-size="3.4" class="nr" text-anchor="middle" fill="#777">10<tspan dy="-1.29" font-size="2.11">3</tspan></text>
<text x="387.0" y="691.7" font-size="3.4" class="nr" text-anchor="middle" fill="#777">10<tspan dy="-1.29" font-size="2.11">4</tspan></text>
<text x="401.0" y="691.7" font-size="3.4" class="nr" text-anchor="middle" fill="#777">10<tspan dy="-1.29" font-size="2.11">5</tspan></text>
<path d="M341.5,634.0h1.5M341.5,646.0h1.5M341.5,661.0h1.5M341.5,678.0h1.5M353.0,686.2v1.5M372.0,686.2v1.5M387.0,686.2v1.5M401.0,686.2v1.5" stroke="#888" stroke-width="0.5" fill="none"/>
<g clip-path="url(#c4)">
<path d="M710 1288h2M711 1321h2M703 1300h2M708 1371h2M717 1346h2M725 1348h2M719 1321h2M713 1321h2M705 1273h2M716 1279h2M713 1293h2M706 1344h2M711 1310h2M715 1285h2M702 1337h2M705 1345h2M707 1327h2M710 1367h2M709 1327h2M701 1329h2M710 1334h2M692 1345h2M713 1334h2M716 1358h2M703 1307h2M714 1274h2M733 1257h2M717 1308h2M730 1300h2M713 1299h2M699 1328h2M706 1283h2M709 1304h2M701 1331h2M717 1337h2M705 1294h2M690 1347h2M721 1295h2M699 1284h2M726 1318h2M708 1326h2M712 1314h2M710 1346h2M721 1287h2M711 1322h2M719 1349h2M711 1342h2M724 1365h2M704 1330h2M715 1289h2M709 1309h2M721 1326h2M731 1342h2M708 1333h2M713 1298h2M716 1278h2M714 1309h2M713 1301h2M729 1302h2M720 1326h2M723 1302h2M700 1347h2M722 1346h2M726 1325h2M703 1341h2M695 1314h2M718 1370h2M708 1317h2M699 1320h2M705 1325h2M705 1339h2M711 1302h2M718 1342h2M709 1318h2M720 1341h2M707 1282h2M706 1331h2M721 1293h2M716 1283h2M712 1317h2M727 1263h2M707 1262h2M707 1314h2M712 1358h2M703 1306h2M726 1325h2M703 1325h2M701 1296h2M707 1275h2M729 1311h2M714 1316h2M711 1298h2M716 1310h2M704 1354h2M727 1339h2M717 1314h2M713 1348h2M712 1368h2M726 1332h2M714 1297h2M708 1303h2M709 1295h2M716 1335h2M714 1322h2M714 1305h2M719 1295h2M715 1290h2M701 1361h2M725 1309h2M714 1309h2M703 1338h2M705 1344h2M715 1304h2M713 1326h2M710 1317h2M724 1300h2M713 1358h2M716 1311h2M701 1315h2M693 1310h2M712 1367h2M718 1358h2M716 1332h2M697 1306h2M710 1321h2M700 1274h2M714 1315h2M712 1317h2M710 1287h2M720 1337h2M705 1351h2M711 1325h2M720 1324h2M712 1285h2M715 1337h2M708 1286h2M721 1329h2M723 1322h2M737 1285h2M719 1329h2M714 1317h2M717 1352h2M713 1291h2M721 1356h2M701 1332h2M727 1344h2M707 1333h2M715 1289h2M709 1314h2M709 1367h2M695 1292h2M705 1364h2M711 1316h2M731 1332h2M703 1315h2M695 1354h2M710 1360h2M706 1300h2M691 1332h2M702 1321h2M728 1333h2M698 1298h2M717 1325h2M704 1321h2M709 1343h2M715 1348h2M725 1341h2M702 1290h2M710 1320h2M703 1320h2M697 1318h2M699 1333h2M688 1300h2M708 1278h2M708 1318h2M724 1346h2M708 1350h2M711 1350h2M708 1333h2M709 1354h2M725 1319h2M727 1315h2M712 1296h2M721 1273h2M711 1346h2M701 1339h2M701 1314h2M715 1369h2M732 1292h2M696 1301h2M714 1321h2M699 1296h2M714 1325h2M731 1287h2M700 1359h2M707 1328h2M724 1306h2M709 1325h2M726 1303h2M724 1276h2M705 1301h2M706 1329h2M714 1295h2M716 1303h2M717 1333h2M701 1295h2M721 1321h2M715 1313h2M727 1338h2M705 1331h2M701 1311h2M708 1291h2M704 1358h2M703 1316h2M700 1363h2M703 1347h2M718 1341h2M703 1316h2M698 1287h2M715 1323h2" stroke="#3048e0" stroke-width="2" opacity="0.5" fill="none" transform="scale(.5)"/>
<path d="M780 1295h2M784 1293h2M757 1292h2M777 1301h2M772 1285h2M740 1301h2M780 1279h2M760 1279h2M761 1314h2M753 1285h2M759 1285h2M767 1272h2M774 1281h2M760 1318h2M783 1292h2M757 1295h2M778 1328h2M798 1306h2M744 1306h2M757 1292h2M753 1286h2M771 1292h2M774 1284h2M743 1285h2M755 1294h2" stroke="#6a80e0" stroke-width="2" opacity="0.35" fill="none" transform="scale(.5)"/>
<ellipse cx="356.00" cy="661.00" rx="6.00" ry="19.00" fill="url(#g_blue)" opacity="0.85"/>
<ellipse cx="356.50" cy="663.00" rx="3.50" ry="12.00" fill="url(#g_cy2)"/>
<ellipse cx="353.70" cy="677.40" rx="5.00" ry="4.00" fill="url(#g_green)"/>
</g>
<path d="M349.00,633.00 L366.00,633.00 L366.00,653.00 L378.00,679.00 L373.00,683.00 L349.00,683.00 Z" fill="none" stroke="#999" stroke-width="0.5"/>
<path d="M366.00,633.00 L389.00,633.00 L391.00,635.00 L391.00,651.00 L388.00,653.00 L366.00,653.00 Z" fill="none" stroke="#999" stroke-width="0.5"/>
<text x="400.0" y="635.6" font-size="5" class="sb" text-anchor="middle">DCs</text>
<text x="400.0" y="641.0" font-size="5" class="sb" text-anchor="middle">0.18</text>
<line x1="253.40" y1="644.90" x2="253.40" y2="632.52" stroke="#000" stroke-width="1.7"/>
<path d="M253.40,628.90 L255.80,633.02 L251.00,633.02 Z" fill="#000"/>
<text x="255.8" y="659.5" font-size="7" class="sb" text-anchor="middle" textLength="24.6" lengthAdjust="spacingAndGlyphs" transform="rotate(-90 255.8 659.5)">MHC-II</text>
<line x1="253.40" y1="673.40" x2="253.40" y2="683.30" stroke="#000" stroke-width="1.7"/>
<line x1="255.80" y1="699.40" x2="266.30" y2="699.40" stroke="#000" stroke-width="1.5"/>
<text x="269.0" y="701.8" font-size="7.5" class="sb" textLength="19.5" lengthAdjust="spacingAndGlyphs">CD11c</text>
<line x1="294.00" y1="699.30" x2="365.62" y2="699.30" stroke="#000" stroke-width="1.4"/>
<path d="M370.00,699.30 L365.12,701.34 L365.12,697.26 Z" fill="#000"/>
<text x="65.5" y="725.3" font-size="11.5" class="nb">F</text>
<text x="180.5" y="720.6" font-size="7.5" class="sb" text-anchor="middle" textLength="61.7" lengthAdjust="spacingAndGlyphs">Peritoneum (day 3)</text>
<text x="157.9" y="732.0" font-size="6.3" class="sb" text-anchor="middle" textLength="10" lengthAdjust="spacingAndGlyphs">WT</text>
<text x="201.7" y="732.0" font-size="6.3" class="sbi" text-anchor="middle" textLength="16" lengthAdjust="spacingAndGlyphs">ccr2<tspan dy="-2.39" font-size="3.91">-/-</tspan></text>
<text x="122.9" y="751.8" font-size="6.8" class="sb" text-anchor="middle" textLength="38" lengthAdjust="spacingAndGlyphs" transform="rotate(-90 122.9 751.8)">PKH<tspan dy="-2.58" font-size="4.22">26</tspan><tspan dy="2.58">-PCL</tspan><tspan dy="-2.58" font-size="4.22">red</tspan></text>
<text x="121.8" y="804.5" font-size="7" class="sb" text-anchor="middle" textLength="21.5" lengthAdjust="spacingAndGlyphs" transform="rotate(-90 121.8 804.5)">MHC-II</text>
<rect x="135.40" y="736.00" width="38.40" height="37.00" fill="none" stroke="#999" stroke-width="0.6"/>
<line x1="151.50" y1="736.00" x2="151.50" y2="773.00" stroke="#555" stroke-width="0.7"/>
<line x1="135.40" y1="756.20" x2="173.80" y2="756.20" stroke="#555" stroke-width="0.7"/>
<text x="133.4" y="771.0" font-size="2.6" class="nr" text-anchor="end" fill="#888">10<tspan dy="-0.99" font-size="1.61">0</tspan></text>
<text x="133.4" y="763.2" font-size="2.6" class="nr" text-anchor="end" fill="#888">10<tspan dy="-0.99" font-size="1.61">1</tspan></text>
<text x="133.4" y="755.5" font-size="2.6" class="nr" text-anchor="end" fill="#888">10<tspan dy="-0.99" font-size="1.61">2</tspan></text>
<text x="133.4" y="747.8" font-size="2.6" class="nr" text-anchor="end" fill="#888">10<tspan dy="-0.99" font-size="1.61">3</tspan></text>
<text x="133.4" y="740.0" font-size="2.6" class="nr" text-anchor="end" fill="#888">10<tspan dy="-0.99" font-size="1.61">4</tspan></text>
<text x="138.4" y="777.5" font-size="2.6" class="nr" text-anchor="middle" fill="#888">10<tspan dy="-0.99" font-size="1.61">0</tspan></text>
<text x="146.5" y="777.5" font-size="2.6" class="nr" text-anchor="middle" fill="#888">10<tspan dy="-0.99" font-size="1.61">1</tspan></text>
<text x="154.6" y="777.5" font-size="2.6" class="nr" text-anchor="middle" fill="#888">10<tspan dy="-0.99" font-size="1.61">2</tspan></text>
<text x="162.7" y="777.5" font-size="2.6" class="nr" text-anchor="middle" fill="#888">10<tspan dy="-0.99" font-size="1.61">3</tspan></text>
<text x="170.8" y="777.5" font-size="2.6" class="nr" text-anchor="middle" fill="#888">10<tspan dy="-0.99" font-size="1.61">4</tspan></text>
<path d="M134.2,770.0h1.2M134.2,762.2h1.2M134.2,754.5h1.2M134.2,746.8h1.2M134.2,739.0h1.2M138.4,773.0v1.2M146.5,773.0v1.2M154.6,773.0v1.2M162.7,773.0v1.2M170.8,773.0v1.2" stroke="#999" stroke-width="0.4" fill="none"/>
<ellipse cx="161.00" cy="750.00" rx="7.00" ry="13.00" fill="url(#g_Rl)" transform="rotate(32 161.00 750.00)" opacity="0.85"/>
<path d="M333 1509h2M303 1527h2M327 1517h2M341 1484h2M320 1498h2M336 1478h2M311 1522h2M329 1509h2M325 1502h2M305 1498h2M338 1487h2M331 1518h2M315 1518h2M317 1495h2M306 1505h2M309 1528h2M330 1498h2M312 1488h2M320 1498h2M321 1494h2M327 1494h2M318 1494h2M329 1488h2M314 1492h2M313 1514h2M319 1497h2M325 1492h2M318 1480h2M320 1490h2M308 1495h2M333 1487h2M321 1492h2M317 1516h2M321 1510h2M325 1513h2M319 1507h2M327 1506h2M332 1498h2M315 1495h2M311 1525h2M328 1487h2M317 1482h2M323 1494h2M324 1501h2M300 1526h2M320 1494h2M319 1488h2M336 1481h2M325 1490h2M318 1507h2M315 1510h2M316 1502h2M328 1477h2M318 1492h2M312 1523h2M320 1509h2M304 1516h2M319 1496h2M328 1518h2M340 1502h2M333 1487h2M329 1494h2M327 1511h2M314 1489h2M316 1498h2M337 1490h2M316 1507h2M319 1491h2M310 1509h2M335 1490h2M317 1523h2M318 1502h2M321 1510h2M335 1510h2M318 1501h2M334 1479h2M325 1507h2M323 1487h2" stroke="#ff4040" stroke-width="2" opacity="0.5" fill="none" transform="scale(.5)"/>
<ellipse cx="162.00" cy="748.00" rx="4.00" ry="8.00" fill="url(#g_R)" transform="rotate(32 162.00 748.00)" opacity="0.6"/>
<ellipse cx="156.00" cy="763.00" rx="5.50" ry="7.50" fill="url(#g_Bv)" transform="rotate(30 156.00 763.00)" opacity="0.85"/>
<path d="M303 1522h2M313 1528h2M318 1527h2M306 1523h2M315 1540h2M305 1539h2M309 1519h2M302 1539h2M296 1519h2M316 1520h2M322 1514h2M317 1520h2M307 1526h2M313 1522h2M315 1521h2M317 1532h2M308 1536h2M327 1521h2M317 1518h2M318 1524h2M310 1522h2M322 1523h2M315 1525h2M310 1526h2M323 1528h2M312 1529h2M305 1520h2M313 1530h2M316 1519h2M308 1529h2M305 1530h2M308 1538h2M304 1521h2M308 1514h2M319 1537h2M318 1520h2M310 1529h2M327 1516h2M316 1518h2M317 1543h2" stroke="#2030f0" stroke-width="2" opacity="0.5" fill="none" transform="scale(.5)"/>
<rect x="184.40" y="734.60" width="37.90" height="37.90" fill="none" stroke="#999" stroke-width="0.6"/>
<line x1="201.70" y1="734.60" x2="201.70" y2="772.50" stroke="#555" stroke-width="0.7"/>
<line x1="184.40" y1="758.00" x2="222.30" y2="758.00" stroke="#555" stroke-width="0.7"/>
<text x="182.4" y="770.5" font-size="2.6" class="nr" text-anchor="end" fill="#888">10<tspan dy="-0.99" font-size="1.61">0</tspan></text>
<text x="182.4" y="762.5" font-size="2.6" class="nr" text-anchor="end" fill="#888">10<tspan dy="-0.99" font-size="1.61">1</tspan></text>
<text x="182.4" y="754.5" font-size="2.6" class="nr" text-anchor="end" fill="#888">10<tspan dy="-0.99" font-size="1.61">2</tspan></text>
<text x="182.4" y="746.6" font-size="2.6" class="nr" text-anchor="end" fill="#888">10<tspan dy="-0.99" font-size="1.61">3</tspan></text>
<text x="182.4" y="738.6" font-size="2.6" class="nr" text-anchor="end" fill="#888">10<tspan dy="-0.99" font-size="1.61">4</tspan></text>
<text x="187.4" y="777.0" font-size="2.6" class="nr" text-anchor="middle" fill="#888">10<tspan dy="-0.99" font-size="1.61">0</tspan></text>
<text x="195.4" y="777.0" font-size="2.6" class="nr" text-anchor="middle" fill="#888">10<tspan dy="-0.99" font-size="1.61">1</tspan></text>
<text x="203.4" y="777.0" font-size="2.6" class="nr" text-anchor="middle" fill="#888">10<tspan dy="-0.99" font-size="1.61">2</tspan></text>
<text x="211.3" y="777.0" font-size="2.6" class="nr" text-anchor="middle" fill="#888">10<tspan dy="-0.99" font-size="1.61">3</tspan></text>
<text x="219.3" y="777.0" font-size="2.6" class="nr" text-anchor="middle" fill="#888">10<tspan dy="-0.99" font-size="1.61">4</tspan></text>
<path d="M183.2,769.5h1.2M183.2,761.5h1.2M183.2,753.5h1.2M183.2,745.6h1.2M183.2,737.6h1.2M187.4,772.5v1.2M195.4,772.5v1.2M203.4,772.5v1.2M211.3,772.5v1.2M219.3,772.5v1.2" stroke="#999" stroke-width="0.4" fill="none"/>
<ellipse cx="211.90" cy="750.00" rx="6.50" ry="10.50" fill="url(#g_R)" transform="rotate(10 211.90 750.00)" opacity="0.8"/>
<path d="M425 1496h2M431 1519h2M419 1510h2M425 1503h2M410 1521h2M425 1488h2M412 1515h2M424 1510h2M427 1485h2M424 1491h2M416 1500h2M418 1502h2M426 1495h2M418 1496h2M429 1513h2M434 1492h2M417 1501h2M422 1507h2M429 1485h2M422 1516h2M423 1499h2M427 1483h2M428 1505h2M431 1495h2M421 1488h2M423 1499h2M430 1490h2M421 1486h2M419 1508h2M430 1501h2M431 1506h2M419 1506h2M417 1491h2M425 1500h2M420 1496h2M418 1490h2M441 1510h2M428 1514h2M412 1506h2M421 1484h2M420 1500h2M429 1513h2M422 1513h2M410 1496h2M423 1527h2M423 1497h2M428 1498h2M418 1494h2M421 1527h2M406 1483h2M423 1494h2M414 1493h2M420 1500h2M428 1496h2M429 1492h2M419 1503h2M420 1507h2M431 1494h2M437 1510h2" stroke="#ff3030" stroke-width="2" opacity="0.5" fill="none" transform="scale(.5)"/>
<rect x="136.20" y="784.40" width="39.00" height="37.60" fill="none" stroke="#999" stroke-width="0.6"/>
<text x="134.2" y="820.0" font-size="2.6" class="nr" text-anchor="end" fill="#888">10<tspan dy="-0.99" font-size="1.61">0</tspan></text>
<text x="134.2" y="812.1" font-size="2.6" class="nr" text-anchor="end" fill="#888">10<tspan dy="-0.99" font-size="1.61">1</tspan></text>
<text x="134.2" y="804.2" font-size="2.6" class="nr" text-anchor="end" fill="#888">10<tspan dy="-0.99" font-size="1.61">2</tspan></text>
<text x="134.2" y="796.3" font-size="2.6" class="nr" text-anchor="end" fill="#888">10<tspan dy="-0.99" font-size="1.61">3</tspan></text>
<text x="134.2" y="788.4" font-size="2.6" class="nr" text-anchor="end" fill="#888">10<tspan dy="-0.99" font-size="1.61">4</tspan></text>
<text x="139.2" y="826.5" font-size="2.6" class="nr" text-anchor="middle" fill="#888">10<tspan dy="-0.99" font-size="1.61">0</tspan></text>
<text x="147.4" y="826.5" font-size="2.6" class="nr" text-anchor="middle" fill="#888">10<tspan dy="-0.99" font-size="1.61">1</tspan></text>
<text x="155.7" y="826.5" font-size="2.6" class="nr" text-anchor="middle" fill="#888">10<tspan dy="-0.99" font-size="1.61">2</tspan></text>
<text x="163.9" y="826.5" font-size="2.6" class="nr" text-anchor="middle" fill="#888">10<tspan dy="-0.99" font-size="1.61">3</tspan></text>
<text x="172.2" y="826.5" font-size="2.6" class="nr" text-anchor="middle" fill="#888">10<tspan dy="-0.99" font-size="1.61">4</tspan></text>
<path d="M135.0,819.0h1.2M135.0,811.1h1.2M135.0,803.2h1.2M135.0,795.3h1.2M135.0,787.4h1.2M139.2,822.0v1.2M147.4,822.0v1.2M155.7,822.0v1.2M163.9,822.0v1.2M172.2,822.0v1.2" stroke="#999" stroke-width="0.4" fill="none"/>
<ellipse cx="147.50" cy="795.50" rx="5.50" ry="5.00" fill="url(#g_G)" opacity="0.85"/>
<path d="M291 1585h2M294 1591h2M299 1593h2M299 1583h2M291 1590h2M299 1590h2M296 1586h2M302 1591h2M287 1589h2M293 1592h2M306 1585h2M303 1584h2M294 1585h2M295 1597h2M305 1596h2M294 1595h2M286 1590h2M291 1580h2M293 1584h2M302 1586h2M302 1590h2M301 1594h2M303 1586h2M287 1592h2M309 1597h2M295 1597h2M295 1592h2M302 1593h2M294 1591h2M302 1598h2" stroke="#30c030" stroke-width="2" opacity="0.5" fill="none" transform="scale(.5)"/>
<ellipse cx="160.50" cy="812.00" rx="4.50" ry="6.00" fill="url(#g_P)" opacity="0.4"/>
<ellipse cx="160.00" cy="800.00" rx="7.00" ry="11.00" fill="url(#g_Bv)" opacity="0.85"/>
<path d="M331 1605h2M313 1610h2M318 1590h2M319 1591h2M310 1601h2M313 1610h2M322 1585h2M323 1604h2M311 1609h2M317 1596h2M325 1575h2M316 1608h2M323 1616h2M324 1601h2M329 1598h2M309 1612h2M328 1606h2M328 1580h2M323 1584h2M316 1590h2M328 1590h2M327 1608h2M323 1604h2M329 1602h2M325 1606h2M308 1622h2M324 1599h2M325 1589h2M319 1586h2M319 1612h2M310 1588h2M324 1592h2M340 1589h2M329 1600h2M324 1612h2M335 1616h2M325 1598h2M326 1610h2M320 1590h2M313 1583h2M323 1613h2M324 1597h2M312 1605h2M341 1618h2M320 1616h2M320 1600h2M321 1584h2M332 1595h2M321 1603h2M325 1591h2M315 1597h2M313 1590h2M326 1596h2M325 1597h2M323 1592h2M332 1593h2M324 1621h2M332 1592h2M315 1603h2" stroke="#2020d0" stroke-width="2" opacity="0.5" fill="none" transform="scale(.5)"/>
<rect x="185.00" y="785.40" width="38.50" height="36.60" fill="none" stroke="#999" stroke-width="0.6"/>
<text x="183.0" y="820.0" font-size="2.6" class="nr" text-anchor="end" fill="#888">10<tspan dy="-0.99" font-size="1.61">0</tspan></text>
<text x="183.0" y="812.4" font-size="2.6" class="nr" text-anchor="end" fill="#888">10<tspan dy="-0.99" font-size="1.61">1</tspan></text>
<text x="183.0" y="804.7" font-size="2.6" class="nr" text-anchor="end" fill="#888">10<tspan dy="-0.99" font-size="1.61">2</tspan></text>
<text x="183.0" y="797.0" font-size="2.6" class="nr" text-anchor="end" fill="#888">10<tspan dy="-0.99" font-size="1.61">3</tspan></text>
<text x="183.0" y="789.4" font-size="2.6" class="nr" text-anchor="end" fill="#888">10<tspan dy="-0.99" font-size="1.61">4</tspan></text>
<text x="188.0" y="826.5" font-size="2.6" class="nr" text-anchor="middle" fill="#888">10<tspan dy="-0.99" font-size="1.61">0</tspan></text>
<text x="196.1" y="826.5" font-size="2.6" class="nr" text-anchor="middle" fill="#888">10<tspan dy="-0.99" font-size="1.61">1</tspan></text>
<text x="204.2" y="826.5" font-size="2.6" class="nr" text-anchor="middle" fill="#888">10<tspan dy="-0.99" font-size="1.61">2</tspan></text>
<text x="212.4" y="826.5" font-size="2.6" class="nr" text-anchor="middle" fill="#888">10<tspan dy="-0.99" font-size="1.61">3</tspan></text>
<text x="220.5" y="826.5" font-size="2.6" class="nr" text-anchor="middle" fill="#888">10<tspan dy="-0.99" font-size="1.61">4</tspan></text>
<path d="M183.8,819.0h1.2M183.8,811.4h1.2M183.8,803.7h1.2M183.8,796.0h1.2M183.8,788.4h1.2M188.0,822.0v1.2M196.1,822.0v1.2M204.2,822.0v1.2M212.4,822.0v1.2M220.5,822.0v1.2" stroke="#999" stroke-width="0.4" fill="none"/>
<ellipse cx="193.00" cy="794.60" rx="5.00" ry="2.50" fill="url(#g_Gl)" opacity="0.5"/>
<ellipse cx="214.00" cy="797.50" rx="7.00" ry="6.00" fill="url(#g_R)" opacity="0.85"/>
<path d="M430 1603h2M425 1599h2M427 1591h2M439 1604h2M433 1597h2M425 1606h2M421 1602h2M424 1599h2M429 1593h2M427 1596h2M425 1591h2M439 1590h2M429 1588h2M419 1592h2M445 1596h2M434 1600h2M421 1589h2M428 1601h2M429 1587h2M428 1585h2M430 1586h2M421 1583h2M422 1591h2M434 1592h2M426 1592h2M429 1592h2M419 1593h2M433 1584h2M414 1600h2M427 1589h2M417 1593h2M436 1591h2M429 1609h2M433 1594h2M419 1603h2M436 1593h2M434 1599h2M440 1601h2M429 1600h2M427 1588h2" stroke="#ff3030" stroke-width="2" opacity="0.5" fill="none" transform="scale(.5)"/>
<ellipse cx="217.50" cy="797.50" rx="3.00" ry="4.00" fill="url(#g_R)" opacity="0.7"/>
<text x="326.0" y="720.6" font-size="7.5" class="sb" text-anchor="middle" textLength="61" lengthAdjust="spacingAndGlyphs">Peritoneum (day 9)</text>
<text x="302.9" y="732.0" font-size="6.3" class="sb" text-anchor="middle" textLength="10" lengthAdjust="spacingAndGlyphs">WT</text>
<text x="350.8" y="732.0" font-size="6.3" class="sbi" text-anchor="middle" textLength="16" lengthAdjust="spacingAndGlyphs">ccr2<tspan dy="-2.39" font-size="3.91">-/-</tspan></text>
<text x="273.1" y="754.3" font-size="6.8" class="sb" text-anchor="middle" textLength="38" lengthAdjust="spacingAndGlyphs" transform="rotate(-90 273.1 754.3)">PKH<tspan dy="-2.58" font-size="4.22">26</tspan><tspan dy="2.58">-PCL</tspan><tspan dy="-2.58" font-size="4.22">red</tspan></text>
<text x="271.9" y="805.8" font-size="7" class="sb" text-anchor="middle" textLength="21.5" lengthAdjust="spacingAndGlyphs" transform="rotate(-90 271.9 805.8)">MHC-II</text>
<rect x="281.70" y="735.80" width="36.60" height="35.70" fill="none" stroke="#999" stroke-width="0.6"/>
<line x1="294.20" y1="735.80" x2="294.20" y2="771.50" stroke="#555" stroke-width="0.7"/>
<line x1="281.70" y1="756.90" x2="318.30" y2="756.90" stroke="#555" stroke-width="0.7"/>
<text x="279.7" y="769.5" font-size="2.6" class="nr" text-anchor="end" fill="#888">10<tspan dy="-0.99" font-size="1.61">0</tspan></text>
<text x="279.7" y="762.1" font-size="2.6" class="nr" text-anchor="end" fill="#888">10<tspan dy="-0.99" font-size="1.61">1</tspan></text>
<text x="279.7" y="754.6" font-size="2.6" class="nr" text-anchor="end" fill="#888">10<tspan dy="-0.99" font-size="1.61">2</tspan></text>
<text x="279.7" y="747.2" font-size="2.6" class="nr" text-anchor="end" fill="#888">10<tspan dy="-0.99" font-size="1.61">3</tspan></text>
<text x="279.7" y="739.8" font-size="2.6" class="nr" text-anchor="end" fill="#888">10<tspan dy="-0.99" font-size="1.61">4</tspan></text>
<text x="284.7" y="776.0" font-size="2.6" class="nr" text-anchor="middle" fill="#888">10<tspan dy="-0.99" font-size="1.61">0</tspan></text>
<text x="292.4" y="776.0" font-size="2.6" class="nr" text-anchor="middle" fill="#888">10<tspan dy="-0.99" font-size="1.61">1</tspan></text>
<text x="300.0" y="776.0" font-size="2.6" class="nr" text-anchor="middle" fill="#888">10<tspan dy="-0.99" font-size="1.61">2</tspan></text>
<text x="307.6" y="776.0" font-size="2.6" class="nr" text-anchor="middle" fill="#888">10<tspan dy="-0.99" font-size="1.61">3</tspan></text>
<text x="315.3" y="776.0" font-size="2.6" class="nr" text-anchor="middle" fill="#888">10<tspan dy="-0.99" font-size="1.61">4</tspan></text>
<path d="M280.5,768.5h1.2M280.5,761.1h1.2M280.5,753.6h1.2M280.5,746.2h1.2M280.5,738.8h1.2M284.7,771.5v1.2M292.4,771.5v1.2M300.0,771.5v1.2M307.6,771.5v1.2M315.3,771.5v1.2" stroke="#999" stroke-width="0.4" fill="none"/>
<ellipse cx="305.00" cy="749.00" rx="6.00" ry="12.50" fill="url(#g_Rl)" transform="rotate(49 305.00 749.00)" opacity="0.75"/>
<path d="M613 1492h2M614 1505h2M620 1494h2M619 1497h2M598 1496h2M597 1511h2M617 1506h2M624 1486h2M611 1509h2M625 1475h2M606 1515h2M599 1516h2M620 1494h2M611 1499h2M609 1494h2M610 1474h2M632 1477h2M618 1493h2M606 1522h2M616 1501h2M613 1478h2M599 1505h2M603 1486h2M610 1509h2M608 1492h2M601 1509h2M611 1493h2M621 1487h2M600 1501h2M614 1491h2M615 1487h2M610 1504h2M610 1502h2M604 1504h2M611 1491h2M593 1503h2M613 1502h2M605 1506h2M607 1507h2M611 1497h2M607 1509h2M600 1510h2M607 1494h2M594 1502h2M613 1502h2M610 1495h2M591 1492h2M607 1506h2M611 1491h2M609 1495h2M616 1487h2M625 1501h2M607 1503h2M603 1515h2M602 1502h2M610 1505h2M590 1509h2M616 1502h2M608 1501h2M603 1504h2M612 1490h2M622 1485h2M613 1484h2M596 1499h2M610 1507h2M602 1495h2M625 1486h2M611 1507h2" stroke="#ff6060" stroke-width="2" opacity="0.5" fill="none" transform="scale(.5)"/>
<ellipse cx="301.00" cy="764.60" rx="5.50" ry="4.80" fill="url(#g_Bv)" opacity="0.85"/>
<path d="M606 1518h2M596 1540h2M597 1538h2M605 1526h2M597 1524h2M599 1517h2M603 1529h2M598 1528h2M599 1535h2M597 1528h2M611 1536h2M598 1520h2M613 1525h2M600 1529h2M607 1527h2M600 1527h2M595 1534h2M599 1530h2M598 1533h2M614 1526h2M602 1529h2M611 1526h2M609 1531h2M607 1526h2M597 1527h2M607 1528h2M607 1537h2M593 1524h2M598 1526h2" stroke="#3040f0" stroke-width="2" opacity="0.5" fill="none" transform="scale(.5)"/>
<rect x="282.70" y="786.50" width="36.10" height="36.00" fill="none" stroke="#999" stroke-width="0.6"/>
<text x="280.7" y="820.5" font-size="2.6" class="nr" text-anchor="end" fill="#888">10<tspan dy="-0.99" font-size="1.61">0</tspan></text>
<text x="280.7" y="813.0" font-size="2.6" class="nr" text-anchor="end" fill="#888">10<tspan dy="-0.99" font-size="1.61">1</tspan></text>
<text x="280.7" y="805.5" font-size="2.6" class="nr" text-anchor="end" fill="#888">10<tspan dy="-0.99" font-size="1.61">2</tspan></text>
<text x="280.7" y="798.0" font-size="2.6" class="nr" text-anchor="end" fill="#888">10<tspan dy="-0.99" font-size="1.61">3</tspan></text>
<text x="280.7" y="790.5" font-size="2.6" class="nr" text-anchor="end" fill="#888">10<tspan dy="-0.99" font-size="1.61">4</tspan></text>
<text x="285.7" y="827.0" font-size="2.6" class="nr" text-anchor="middle" fill="#888">10<tspan dy="-0.99" font-size="1.61">0</tspan></text>
<text x="293.2" y="827.0" font-size="2.6" class="nr" text-anchor="middle" fill="#888">10<tspan dy="-0.99" font-size="1.61">1</tspan></text>
<text x="300.8" y="827.0" font-size="2.6" class="nr" text-anchor="middle" fill="#888">10<tspan dy="-0.99" font-size="1.61">2</tspan></text>
<text x="308.3" y="827.0" font-size="2.6" class="nr" text-anchor="middle" fill="#888">10<tspan dy="-0.99" font-size="1.61">3</tspan></text>
<text x="315.8" y="827.0" font-size="2.6" class="nr" text-anchor="middle" fill="#888">10<tspan dy="-0.99" font-size="1.61">4</tspan></text>
<path d="M281.5,819.5h1.2M281.5,812.0h1.2M281.5,804.5h1.2M281.5,797.0h1.2M281.5,789.5h1.2M285.7,822.5v1.2M293.2,822.5v1.2M300.8,822.5v1.2M308.3,822.5v1.2M315.8,822.5v1.2" stroke="#999" stroke-width="0.4" fill="none"/>
<ellipse cx="291.00" cy="798.00" rx="5.50" ry="4.50" fill="url(#g_Gl)" opacity="0.8"/>
<path d="M585 1590h2M577 1595h2M582 1596h2M582 1588h2M579 1598h2M584 1598h2M575 1593h2M571 1595h2M576 1599h2M580 1601h2M595 1597h2M584 1590h2M579 1584h2M578 1607h2M586 1602h2M581 1594h2M583 1594h2M585 1599h2M574 1586h2M580 1595h2M573 1599h2M590 1598h2M573 1597h2M576 1601h2M584 1598h2M587 1599h2M597 1589h2M583 1600h2M586 1583h2M588 1594h2" stroke="#60c060" stroke-width="2" opacity="0.5" fill="none" transform="scale(.5)"/>
<ellipse cx="309.00" cy="796.00" rx="6.00" ry="6.00" fill="url(#g_R)" opacity="0.85"/>
<path d="M611 1603h2M617 1597h2M622 1596h2M625 1594h2M626 1592h2M612 1601h2M618 1597h2M608 1575h2M619 1594h2M628 1584h2M612 1594h2M626 1594h2M621 1597h2M632 1601h2M616 1581h2M607 1590h2M612 1593h2M617 1577h2M624 1596h2M612 1583h2M627 1593h2M616 1585h2M613 1602h2M613 1592h2M615 1591h2M610 1600h2M618 1597h2M611 1591h2M631 1592h2M615 1583h2" stroke="#ff3030" stroke-width="2" opacity="0.5" fill="none" transform="scale(.5)"/>
<ellipse cx="301.00" cy="797.00" rx="6.00" ry="7.00" fill="url(#g_Bv)" opacity="0.85"/>
<path d="M597 1598h2M599 1589h2M609 1606h2M601 1614h2M599 1591h2M591 1586h2M597 1612h2M594 1593h2M603 1597h2M587 1592h2M594 1593h2M589 1590h2M600 1585h2M603 1597h2M607 1585h2M593 1594h2M602 1589h2M591 1594h2M609 1587h2M605 1584h2M606 1583h2M609 1593h2M609 1591h2M593 1586h2M595 1596h2M597 1598h2M601 1590h2M598 1592h2M605 1604h2M599 1594h2" stroke="#2020e0" stroke-width="2" opacity="0.5" fill="none" transform="scale(.5)"/>
<ellipse cx="300.00" cy="810.00" rx="3.80" ry="3.20" fill="url(#g_B)"/>
<rect x="329.80" y="735.80" width="35.80" height="36.70" fill="none" stroke="#999" stroke-width="0.6"/>
<line x1="349.00" y1="735.80" x2="349.00" y2="772.50" stroke="#555" stroke-width="0.7"/>
<line x1="329.80" y1="757.90" x2="365.60" y2="757.90" stroke="#555" stroke-width="0.7"/>
<text x="327.8" y="770.5" font-size="2.6" class="nr" text-anchor="end" fill="#888">10<tspan dy="-0.99" font-size="1.61">0</tspan></text>
<text x="327.8" y="762.8" font-size="2.6" class="nr" text-anchor="end" fill="#888">10<tspan dy="-0.99" font-size="1.61">1</tspan></text>
<text x="327.8" y="755.1" font-size="2.6" class="nr" text-anchor="end" fill="#888">10<tspan dy="-0.99" font-size="1.61">2</tspan></text>
<text x="327.8" y="747.5" font-size="2.6" class="nr" text-anchor="end" fill="#888">10<tspan dy="-0.99" font-size="1.61">3</tspan></text>
<text x="327.8" y="739.8" font-size="2.6" class="nr" text-anchor="end" fill="#888">10<tspan dy="-0.99" font-size="1.61">4</tspan></text>
<text x="332.8" y="777.0" font-size="2.6" class="nr" text-anchor="middle" fill="#888">10<tspan dy="-0.99" font-size="1.61">0</tspan></text>
<text x="340.2" y="777.0" font-size="2.6" class="nr" text-anchor="middle" fill="#888">10<tspan dy="-0.99" font-size="1.61">1</tspan></text>
<text x="347.7" y="777.0" font-size="2.6" class="nr" text-anchor="middle" fill="#888">10<tspan dy="-0.99" font-size="1.61">2</tspan></text>
<text x="355.2" y="777.0" font-size="2.6" class="nr" text-anchor="middle" fill="#888">10<tspan dy="-0.99" font-size="1.61">3</tspan></text>
<text x="362.6" y="777.0" font-size="2.6" class="nr" text-anchor="middle" fill="#888">10<tspan dy="-0.99" font-size="1.61">4</tspan></text>
<path d="M328.6,769.5h1.2M328.6,761.8h1.2M328.6,754.1h1.2M328.6,746.5h1.2M328.6,738.8h1.2M332.8,772.5v1.2M340.2,772.5v1.2M347.7,772.5v1.2M355.2,772.5v1.2M362.6,772.5v1.2" stroke="#999" stroke-width="0.4" fill="none"/>
<ellipse cx="358.70" cy="743.50" rx="5.50" ry="7.50" fill="url(#g_R)" transform="rotate(20 358.70 743.50)" opacity="0.85"/>
<path d="M719 1499h2M716 1476h2M711 1495h2M712 1493h2M715 1491h2M720 1487h2M713 1486h2M722 1486h2M710 1483h2M726 1479h2M709 1490h2M706 1493h2M726 1484h2M715 1496h2M709 1484h2M719 1501h2M720 1487h2M710 1490h2M712 1502h2M726 1497h2M713 1485h2M723 1491h2M722 1483h2M702 1488h2M729 1488h2M724 1473h2M719 1508h2M728 1482h2M718 1488h2M721 1483h2M720 1489h2M714 1477h2M726 1492h2M714 1504h2M710 1495h2M726 1484h2M715 1489h2" stroke="#ff3030" stroke-width="2" opacity="0.5" fill="none" transform="scale(.5)"/>
<rect x="329.60" y="786.00" width="36.60" height="36.50" fill="none" stroke="#999" stroke-width="0.6"/>
<text x="327.6" y="820.5" font-size="2.6" class="nr" text-anchor="end" fill="#888">10<tspan dy="-0.99" font-size="1.61">0</tspan></text>
<text x="327.6" y="812.9" font-size="2.6" class="nr" text-anchor="end" fill="#888">10<tspan dy="-0.99" font-size="1.61">1</tspan></text>
<text x="327.6" y="805.2" font-size="2.6" class="nr" text-anchor="end" fill="#888">10<tspan dy="-0.99" font-size="1.61">2</tspan></text>
<text x="327.6" y="797.6" font-size="2.6" class="nr" text-anchor="end" fill="#888">10<tspan dy="-0.99" font-size="1.61">3</tspan></text>
<text x="327.6" y="790.0" font-size="2.6" class="nr" text-anchor="end" fill="#888">10<tspan dy="-0.99" font-size="1.61">4</tspan></text>
<text x="332.6" y="827.0" font-size="2.6" class="nr" text-anchor="middle" fill="#888">10<tspan dy="-0.99" font-size="1.61">0</tspan></text>
<text x="340.2" y="827.0" font-size="2.6" class="nr" text-anchor="middle" fill="#888">10<tspan dy="-0.99" font-size="1.61">1</tspan></text>
<text x="347.9" y="827.0" font-size="2.6" class="nr" text-anchor="middle" fill="#888">10<tspan dy="-0.99" font-size="1.61">2</tspan></text>
<text x="355.6" y="827.0" font-size="2.6" class="nr" text-anchor="middle" fill="#888">10<tspan dy="-0.99" font-size="1.61">3</tspan></text>
<text x="363.2" y="827.0" font-size="2.6" class="nr" text-anchor="middle" fill="#888">10<tspan dy="-0.99" font-size="1.61">4</tspan></text>
<path d="M328.4,819.5h1.2M328.4,811.9h1.2M328.4,804.2h1.2M328.4,796.6h1.2M328.4,789.0h1.2M332.6,822.5v1.2M340.2,822.5v1.2M347.9,822.5v1.2M355.6,822.5v1.2M363.2,822.5v1.2" stroke="#999" stroke-width="0.4" fill="none"/>
<ellipse cx="341.00" cy="795.50" rx="9.00" ry="2.50" fill="url(#g_Gl)" transform="rotate(-10 341.00 795.50)" opacity="0.6"/>
<ellipse cx="357.50" cy="801.00" rx="4.50" ry="9.50" fill="url(#g_Rl)" opacity="0.7"/>
<path d="M712 1616h2M714 1618h2M706 1599h2M717 1614h2M719 1613h2M718 1604h2M723 1611h2M712 1611h2M718 1604h2M718 1599h2M713 1585h2M713 1617h2M702 1598h2M718 1609h2M707 1602h2M716 1613h2M715 1595h2M718 1603h2M709 1602h2M716 1601h2M713 1602h2M715 1609h2M709 1597h2M718 1598h2M710 1589h2M708 1592h2M715 1609h2M716 1604h2M718 1601h2M709 1603h2M716 1624h2M715 1624h2M714 1588h2M714 1599h2M714 1599h2M726 1605h2M714 1602h2M715 1613h2M715 1612h2M710 1604h2" stroke="#ff5050" stroke-width="2" opacity="0.5" fill="none" transform="scale(.5)"/>
<text x="181.0" y="840.6" font-size="7.5" class="sb" text-anchor="middle" textLength="65.5" lengthAdjust="spacingAndGlyphs">Peritoneum (day 13)</text>
<text x="159.8" y="850.7" font-size="6.3" class="sb" text-anchor="middle" textLength="10" lengthAdjust="spacingAndGlyphs">WT</text>
<text x="208.5" y="849.7" font-size="6.3" class="sbi" text-anchor="middle" textLength="16" lengthAdjust="spacingAndGlyphs">ccr2<tspan dy="-2.39" font-size="3.91">-/-</tspan></text>
<text x="122.9" y="871.6" font-size="6.8" class="sb" text-anchor="middle" textLength="38" lengthAdjust="spacingAndGlyphs" transform="rotate(-90 122.9 871.6)">PKH<tspan dy="-2.58" font-size="4.22">26</tspan><tspan dy="2.58">-PCL</tspan><tspan dy="-2.58" font-size="4.22">red</tspan></text>
<text x="121.8" y="923.0" font-size="7" class="sb" text-anchor="middle" textLength="21.5" lengthAdjust="spacingAndGlyphs" transform="rotate(-90 121.8 923.0)">MHC-II</text>
<rect x="135.00" y="854.00" width="37.00" height="36.80" fill="none" stroke="#999" stroke-width="0.6"/>
<line x1="147.50" y1="854.00" x2="147.50" y2="890.80" stroke="#555" stroke-width="0.7"/>
<line x1="135.00" y1="875.40" x2="172.00" y2="875.40" stroke="#555" stroke-width="0.7"/>
<text x="133.0" y="888.8" font-size="2.6" class="nr" text-anchor="end" fill="#888">10<tspan dy="-0.99" font-size="1.61">0</tspan></text>
<text x="133.0" y="881.1" font-size="2.6" class="nr" text-anchor="end" fill="#888">10<tspan dy="-0.99" font-size="1.61">1</tspan></text>
<text x="133.0" y="873.4" font-size="2.6" class="nr" text-anchor="end" fill="#888">10<tspan dy="-0.99" font-size="1.61">2</tspan></text>
<text x="133.0" y="865.7" font-size="2.6" class="nr" text-anchor="end" fill="#888">10<tspan dy="-0.99" font-size="1.61">3</tspan></text>
<text x="133.0" y="858.0" font-size="2.6" class="nr" text-anchor="end" fill="#888">10<tspan dy="-0.99" font-size="1.61">4</tspan></text>
<text x="138.0" y="895.3" font-size="2.6" class="nr" text-anchor="middle" fill="#888">10<tspan dy="-0.99" font-size="1.61">0</tspan></text>
<text x="145.8" y="895.3" font-size="2.6" class="nr" text-anchor="middle" fill="#888">10<tspan dy="-0.99" font-size="1.61">1</tspan></text>
<text x="153.5" y="895.3" font-size="2.6" class="nr" text-anchor="middle" fill="#888">10<tspan dy="-0.99" font-size="1.61">2</tspan></text>
<text x="161.2" y="895.3" font-size="2.6" class="nr" text-anchor="middle" fill="#888">10<tspan dy="-0.99" font-size="1.61">3</tspan></text>
<text x="169.0" y="895.3" font-size="2.6" class="nr" text-anchor="middle" fill="#888">10<tspan dy="-0.99" font-size="1.61">4</tspan></text>
<path d="M133.8,887.8h1.2M133.8,880.1h1.2M133.8,872.4h1.2M133.8,864.7h1.2M133.8,857.0h1.2M138.0,890.8v1.2M145.8,890.8v1.2M153.5,890.8v1.2M161.2,890.8v1.2M169.0,890.8v1.2" stroke="#999" stroke-width="0.4" fill="none"/>
<ellipse cx="158.50" cy="869.00" rx="8.00" ry="9.00" fill="url(#g_Rl)" opacity="0.8"/>
<path d="M316 1740h2M306 1732h2M303 1742h2M328 1738h2M305 1735h2M326 1722h2M314 1739h2M313 1741h2M321 1742h2M325 1748h2M303 1728h2M315 1739h2M319 1727h2M306 1755h2M318 1741h2M332 1720h2M319 1736h2M316 1752h2M316 1724h2M307 1725h2M327 1732h2M307 1736h2M305 1742h2M318 1740h2M327 1734h2M325 1722h2M325 1756h2M310 1746h2M308 1739h2M321 1733h2M307 1737h2M316 1742h2M317 1721h2M326 1743h2M304 1737h2M326 1758h2M316 1733h2M328 1738h2M317 1723h2M308 1742h2M333 1742h2M315 1735h2M307 1727h2M323 1756h2M314 1730h2M303 1734h2M326 1722h2M314 1750h2M331 1731h2M319 1743h2M318 1737h2M319 1740h2M315 1736h2M314 1760h2M317 1749h2M309 1752h2M326 1740h2M339 1746h2M333 1730h2M297 1745h2" stroke="#ff5050" stroke-width="2" opacity="0.5" fill="none" transform="scale(.5)"/>
<ellipse cx="155.00" cy="881.00" rx="9.50" ry="5.00" fill="url(#g_Bv)" transform="rotate(-25 155.00 881.00)" opacity="0.85"/>
<path d="M309 1759h2M301 1769h2M320 1764h2M309 1760h2M295 1763h2M320 1750h2M308 1760h2M300 1759h2M307 1766h2M308 1765h2M301 1760h2M317 1758h2M309 1766h2M318 1755h2M310 1761h2M320 1750h2M303 1765h2M283 1765h2M317 1765h2M325 1753h2M315 1760h2M303 1767h2M312 1769h2M304 1756h2M311 1758h2M312 1764h2M289 1762h2M315 1765h2M304 1765h2M313 1757h2M308 1760h2M319 1758h2M301 1768h2M302 1764h2M297 1767h2M319 1762h2M313 1755h2M309 1762h2M307 1762h2M300 1778h2M303 1766h2M309 1756h2M305 1767h2M311 1765h2M300 1766h2M301 1766h2M302 1763h2M318 1765h2M310 1764h2M300 1764h2" stroke="#2030f0" stroke-width="2" opacity="0.5" fill="none" transform="scale(.5)"/>
<rect x="187.20" y="854.00" width="36.60" height="36.50" fill="none" stroke="#999" stroke-width="0.6"/>
<line x1="206.50" y1="854.00" x2="206.50" y2="890.50" stroke="#555" stroke-width="0.7"/>
<line x1="187.20" y1="877.50" x2="223.80" y2="877.50" stroke="#555" stroke-width="0.7"/>
<text x="185.2" y="888.5" font-size="2.6" class="nr" text-anchor="end" fill="#888">10<tspan dy="-0.99" font-size="1.61">0</tspan></text>
<text x="185.2" y="880.9" font-size="2.6" class="nr" text-anchor="end" fill="#888">10<tspan dy="-0.99" font-size="1.61">1</tspan></text>
<text x="185.2" y="873.2" font-size="2.6" class="nr" text-anchor="end" fill="#888">10<tspan dy="-0.99" font-size="1.61">2</tspan></text>
<text x="185.2" y="865.6" font-size="2.6" class="nr" text-anchor="end" fill="#888">10<tspan dy="-0.99" font-size="1.61">3</tspan></text>
<text x="185.2" y="858.0" font-size="2.6" class="nr" text-anchor="end" fill="#888">10<tspan dy="-0.99" font-size="1.61">4</tspan></text>
<text x="190.2" y="895.0" font-size="2.6" class="nr" text-anchor="middle" fill="#888">10<tspan dy="-0.99" font-size="1.61">0</tspan></text>
<text x="197.8" y="895.0" font-size="2.6" class="nr" text-anchor="middle" fill="#888">10<tspan dy="-0.99" font-size="1.61">1</tspan></text>
<text x="205.5" y="895.0" font-size="2.6" class="nr" text-anchor="middle" fill="#888">10<tspan dy="-0.99" font-size="1.61">2</tspan></text>
<text x="213.2" y="895.0" font-size="2.6" class="nr" text-anchor="middle" fill="#888">10<tspan dy="-0.99" font-size="1.61">3</tspan></text>
<text x="220.8" y="895.0" font-size="2.6" class="nr" text-anchor="middle" fill="#888">10<tspan dy="-0.99" font-size="1.61">4</tspan></text>
<path d="M186.0,887.5h1.2M186.0,879.9h1.2M186.0,872.2h1.2M186.0,864.6h1.2M186.0,857.0h1.2M190.2,890.5v1.2M197.8,890.5v1.2M205.5,890.5v1.2M213.2,890.5v1.2M220.8,890.5v1.2" stroke="#999" stroke-width="0.4" fill="none"/>
<ellipse cx="214.00" cy="864.00" rx="6.00" ry="10.00" fill="url(#g_R)" transform="rotate(25 214.00 864.00)" opacity="0.85"/>
<path d="M423 1731h2M428 1745h2M433 1726h2M439 1716h2M419 1726h2M421 1733h2M424 1733h2M419 1725h2M427 1732h2M431 1733h2M430 1713h2M433 1727h2M428 1742h2M427 1721h2M434 1734h2M422 1723h2M420 1739h2M423 1718h2M429 1739h2M431 1724h2M431 1733h2M434 1716h2M419 1719h2M420 1739h2M420 1734h2M430 1738h2M429 1723h2M431 1713h2M427 1718h2M428 1745h2M437 1714h2M429 1722h2M440 1722h2M431 1729h2M435 1725h2M436 1736h2M428 1725h2M420 1737h2M434 1728h2M442 1740h2M426 1746h2M432 1736h2M426 1716h2M433 1729h2M420 1739h2M426 1744h2" stroke="#ff3030" stroke-width="2" opacity="0.5" fill="none" transform="scale(.5)"/>
<rect x="135.00" y="905.50" width="36.50" height="36.50" fill="none" stroke="#999" stroke-width="0.6"/>
<text x="133.0" y="940.0" font-size="2.6" class="nr" text-anchor="end" fill="#888">10<tspan dy="-0.99" font-size="1.61">0</tspan></text>
<text x="133.0" y="932.4" font-size="2.6" class="nr" text-anchor="end" fill="#888">10<tspan dy="-0.99" font-size="1.61">1</tspan></text>
<text x="133.0" y="924.8" font-size="2.6" class="nr" text-anchor="end" fill="#888">10<tspan dy="-0.99" font-size="1.61">2</tspan></text>
<text x="133.0" y="917.1" font-size="2.6" class="nr" text-anchor="end" fill="#888">10<tspan dy="-0.99" font-size="1.61">3</tspan></text>
<text x="133.0" y="909.5" font-size="2.6" class="nr" text-anchor="end" fill="#888">10<tspan dy="-0.99" font-size="1.61">4</tspan></text>
<text x="138.0" y="946.5" font-size="2.6" class="nr" text-anchor="middle" fill="#888">10<tspan dy="-0.99" font-size="1.61">0</tspan></text>
<text x="145.6" y="946.5" font-size="2.6" class="nr" text-anchor="middle" fill="#888">10<tspan dy="-0.99" font-size="1.61">1</tspan></text>
<text x="153.2" y="946.5" font-size="2.6" class="nr" text-anchor="middle" fill="#888">10<tspan dy="-0.99" font-size="1.61">2</tspan></text>
<text x="160.9" y="946.5" font-size="2.6" class="nr" text-anchor="middle" fill="#888">10<tspan dy="-0.99" font-size="1.61">3</tspan></text>
<text x="168.5" y="946.5" font-size="2.6" class="nr" text-anchor="middle" fill="#888">10<tspan dy="-0.99" font-size="1.61">4</tspan></text>
<path d="M133.8,939.0h1.2M133.8,931.4h1.2M133.8,923.8h1.2M133.8,916.1h1.2M133.8,908.5h1.2M138.0,942.0v1.2M145.6,942.0v1.2M153.2,942.0v1.2M160.9,942.0v1.2M168.5,942.0v1.2" stroke="#999" stroke-width="0.4" fill="none"/>
<ellipse cx="142.00" cy="920.00" rx="5.00" ry="2.50" fill="url(#g_Gl)" opacity="0.5"/>
<ellipse cx="163.00" cy="916.50" rx="4.00" ry="5.50" fill="url(#g_R)" opacity="0.85"/>
<path d="M325 1827h2M325 1838h2M321 1833h2M329 1834h2M328 1818h2M328 1839h2M322 1835h2M326 1833h2M340 1831h2M320 1828h2M323 1833h2M328 1830h2M337 1836h2M326 1831h2M327 1828h2M325 1830h2M329 1828h2M321 1831h2M331 1835h2M324 1832h2" stroke="#ff3030" stroke-width="2" opacity="0.5" fill="none" transform="scale(.5)"/>
<ellipse cx="156.00" cy="916.30" rx="10.00" ry="6.00" fill="url(#g_Bv)" opacity="0.85"/>
<path d="M303 1827h2M315 1828h2M302 1830h2M312 1836h2M306 1834h2M316 1844h2M313 1818h2M315 1826h2M316 1834h2M300 1817h2M317 1827h2M323 1823h2M298 1823h2M315 1842h2M314 1825h2M318 1823h2M312 1842h2M311 1823h2M312 1835h2M295 1836h2M313 1818h2M317 1826h2M307 1840h2M319 1829h2M320 1846h2M329 1829h2M332 1831h2M299 1826h2M291 1829h2M310 1844h2M308 1826h2M316 1833h2M324 1826h2M320 1826h2M307 1839h2M306 1836h2M307 1839h2M315 1836h2M330 1825h2M320 1834h2M300 1832h2M316 1825h2M306 1841h2M308 1824h2M338 1844h2M307 1835h2M308 1835h2M320 1847h2M322 1846h2M314 1828h2M315 1831h2M283 1842h2M304 1845h2M297 1830h2M331 1828h2M313 1843h2M301 1839h2M315 1828h2M312 1836h2M332 1848h2" stroke="#2030e0" stroke-width="2" opacity="0.5" fill="none" transform="scale(.5)"/>
<ellipse cx="151.00" cy="927.50" rx="4.00" ry="6.50" fill="url(#g_Bl)" opacity="0.85"/>
<path d="M303 1852h2M304 1857h2M297 1846h2M299 1854h2M302 1860h2M301 1854h2M307 1846h2M294 1865h2M306 1849h2M307 1857h2M299 1867h2M295 1850h2M302 1860h2M302 1862h2M297 1853h2M308 1853h2M299 1851h2M302 1853h2M292 1842h2M309 1864h2" stroke="#4050e0" stroke-width="2" opacity="0.5" fill="none" transform="scale(.5)"/>
<rect x="188.30" y="905.00" width="35.50" height="37.00" fill="none" stroke="#999" stroke-width="0.6"/>
<text x="186.3" y="940.0" font-size="2.6" class="nr" text-anchor="end" fill="#888">10<tspan dy="-0.99" font-size="1.61">0</tspan></text>
<text x="186.3" y="932.2" font-size="2.6" class="nr" text-anchor="end" fill="#888">10<tspan dy="-0.99" font-size="1.61">1</tspan></text>
<text x="186.3" y="924.5" font-size="2.6" class="nr" text-anchor="end" fill="#888">10<tspan dy="-0.99" font-size="1.61">2</tspan></text>
<text x="186.3" y="916.8" font-size="2.6" class="nr" text-anchor="end" fill="#888">10<tspan dy="-0.99" font-size="1.61">3</tspan></text>
<text x="186.3" y="909.0" font-size="2.6" class="nr" text-anchor="end" fill="#888">10<tspan dy="-0.99" font-size="1.61">4</tspan></text>
<text x="191.3" y="946.5" font-size="2.6" class="nr" text-anchor="middle" fill="#888">10<tspan dy="-0.99" font-size="1.61">0</tspan></text>
<text x="198.7" y="946.5" font-size="2.6" class="nr" text-anchor="middle" fill="#888">10<tspan dy="-0.99" font-size="1.61">1</tspan></text>
<text x="206.1" y="946.5" font-size="2.6" class="nr" text-anchor="middle" fill="#888">10<tspan dy="-0.99" font-size="1.61">2</tspan></text>
<text x="213.4" y="946.5" font-size="2.6" class="nr" text-anchor="middle" fill="#888">10<tspan dy="-0.99" font-size="1.61">3</tspan></text>
<text x="220.8" y="946.5" font-size="2.6" class="nr" text-anchor="middle" fill="#888">10<tspan dy="-0.99" font-size="1.61">4</tspan></text>
<path d="M187.1,939.0h1.2M187.1,931.2h1.2M187.1,923.5h1.2M187.1,915.8h1.2M187.1,908.0h1.2M191.3,942.0v1.2M198.7,942.0v1.2M206.1,942.0v1.2M213.4,942.0v1.2M220.8,942.0v1.2" stroke="#999" stroke-width="0.4" fill="none"/>
<ellipse cx="197.00" cy="916.50" rx="6.00" ry="2.50" fill="url(#g_Gl)" opacity="0.5"/>
<ellipse cx="213.60" cy="922.00" rx="5.00" ry="12.00" fill="url(#g_Rl)" opacity="0.75"/>
<path d="M427 1856h2M423 1852h2M433 1838h2M426 1848h2M433 1838h2M431 1844h2M424 1859h2M435 1828h2M428 1840h2M421 1845h2M427 1836h2M420 1854h2M433 1845h2M416 1853h2M436 1843h2M418 1828h2M427 1839h2M425 1844h2M431 1864h2M430 1841h2M424 1823h2M435 1839h2M426 1826h2M429 1843h2M423 1850h2M440 1840h2M426 1852h2M423 1840h2M436 1841h2M428 1832h2M420 1840h2M426 1828h2M424 1849h2M428 1866h2M423 1829h2M429 1839h2M430 1834h2M417 1868h2M425 1852h2M436 1838h2" stroke="#ff5050" stroke-width="2" opacity="0.5" fill="none" transform="scale(.5)"/>
<text x="327.0" y="840.6" font-size="7.5" class="sb" text-anchor="middle" textLength="64.8" lengthAdjust="spacingAndGlyphs">Peritoneum (day 17)</text>
<text x="305.8" y="850.7" font-size="6.3" class="sb" text-anchor="middle" textLength="10" lengthAdjust="spacingAndGlyphs">WT</text>
<text x="351.7" y="849.7" font-size="6.3" class="sbi" text-anchor="middle" textLength="16" lengthAdjust="spacingAndGlyphs">ccr2<tspan dy="-2.39" font-size="3.91">-/-</tspan></text>
<text x="273.1" y="872.7" font-size="6.8" class="sb" text-anchor="middle" textLength="38" lengthAdjust="spacingAndGlyphs" transform="rotate(-90 273.1 872.7)">PKH<tspan dy="-2.58" font-size="4.22">26</tspan><tspan dy="2.58">-PCL</tspan><tspan dy="-2.58" font-size="4.22">red</tspan></text>
<text x="271.9" y="924.7" font-size="7" class="sb" text-anchor="middle" textLength="21.5" lengthAdjust="spacingAndGlyphs" transform="rotate(-90 271.9 924.7)">MHC-II</text>
<rect x="283.00" y="853.00" width="38.00" height="39.00" fill="none" stroke="#999" stroke-width="0.6"/>
<line x1="298.80" y1="853.00" x2="298.80" y2="892.00" stroke="#555" stroke-width="0.7"/>
<line x1="283.00" y1="869.50" x2="321.00" y2="869.50" stroke="#555" stroke-width="0.7"/>
<text x="281.0" y="890.0" font-size="2.6" class="nr" text-anchor="end" fill="#888">10<tspan dy="-0.99" font-size="1.61">0</tspan></text>
<text x="281.0" y="881.8" font-size="2.6" class="nr" text-anchor="end" fill="#888">10<tspan dy="-0.99" font-size="1.61">1</tspan></text>
<text x="281.0" y="873.5" font-size="2.6" class="nr" text-anchor="end" fill="#888">10<tspan dy="-0.99" font-size="1.61">2</tspan></text>
<text x="281.0" y="865.2" font-size="2.6" class="nr" text-anchor="end" fill="#888">10<tspan dy="-0.99" font-size="1.61">3</tspan></text>
<text x="281.0" y="857.0" font-size="2.6" class="nr" text-anchor="end" fill="#888">10<tspan dy="-0.99" font-size="1.61">4</tspan></text>
<text x="286.0" y="896.5" font-size="2.6" class="nr" text-anchor="middle" fill="#888">10<tspan dy="-0.99" font-size="1.61">0</tspan></text>
<text x="294.0" y="896.5" font-size="2.6" class="nr" text-anchor="middle" fill="#888">10<tspan dy="-0.99" font-size="1.61">1</tspan></text>
<text x="302.0" y="896.5" font-size="2.6" class="nr" text-anchor="middle" fill="#888">10<tspan dy="-0.99" font-size="1.61">2</tspan></text>
<text x="310.0" y="896.5" font-size="2.6" class="nr" text-anchor="middle" fill="#888">10<tspan dy="-0.99" font-size="1.61">3</tspan></text>
<text x="318.0" y="896.5" font-size="2.6" class="nr" text-anchor="middle" fill="#888">10<tspan dy="-0.99" font-size="1.61">4</tspan></text>
<path d="M281.8,889.0h1.2M281.8,880.8h1.2M281.8,872.5h1.2M281.8,864.2h1.2M281.8,856.0h1.2M286.0,892.0v1.2M294.0,892.0v1.2M302.0,892.0v1.2M310.0,892.0v1.2M318.0,892.0v1.2" stroke="#999" stroke-width="0.4" fill="none"/>
<ellipse cx="307.00" cy="879.00" rx="5.00" ry="9.00" fill="url(#g_Bl)" opacity="0.45"/>
<ellipse cx="307.30" cy="863.00" rx="6.00" ry="8.00" fill="url(#g_R)" opacity="0.85"/>
<path d="M605 1728h2M619 1730h2M603 1723h2M629 1715h2M623 1713h2M610 1715h2M622 1735h2M618 1719h2M618 1730h2M625 1715h2M614 1731h2M613 1717h2M612 1745h2M620 1736h2M618 1725h2M612 1724h2M613 1724h2M606 1722h2M615 1717h2M624 1740h2M609 1716h2M599 1726h2M610 1724h2M604 1728h2M608 1728h2M612 1733h2M611 1732h2M612 1715h2M621 1726h2M625 1726h2M613 1743h2M609 1715h2M617 1715h2M614 1711h2M624 1732h2M617 1720h2M605 1738h2M619 1723h2M607 1726h2M611 1723h2" stroke="#ff3030" stroke-width="2" opacity="0.5" fill="none" transform="scale(.5)"/>
<ellipse cx="307.30" cy="872.50" rx="5.00" ry="4.50" fill="url(#g_Bv)" opacity="0.85"/>
<path d="M607 1752h2M615 1755h2M617 1745h2M618 1743h2M619 1749h2M622 1745h2M614 1751h2M614 1742h2M620 1743h2M619 1751h2M610 1745h2M615 1744h2M613 1752h2M615 1746h2M615 1742h2M617 1750h2M609 1747h2M623 1749h2M622 1746h2M612 1743h2" stroke="#2030f0" stroke-width="2" opacity="0.5" fill="none" transform="scale(.5)"/>
<rect x="330.60" y="853.00" width="38.10" height="39.00" fill="none" stroke="#999" stroke-width="0.6"/>
<line x1="349.20" y1="853.00" x2="349.20" y2="892.00" stroke="#555" stroke-width="0.7"/>
<line x1="330.60" y1="868.80" x2="368.70" y2="868.80" stroke="#555" stroke-width="0.7"/>
<text x="328.6" y="890.0" font-size="2.6" class="nr" text-anchor="end" fill="#888">10<tspan dy="-0.99" font-size="1.61">0</tspan></text>
<text x="328.6" y="881.8" font-size="2.6" class="nr" text-anchor="end" fill="#888">10<tspan dy="-0.99" font-size="1.61">1</tspan></text>
<text x="328.6" y="873.5" font-size="2.6" class="nr" text-anchor="end" fill="#888">10<tspan dy="-0.99" font-size="1.61">2</tspan></text>
<text x="328.6" y="865.2" font-size="2.6" class="nr" text-anchor="end" fill="#888">10<tspan dy="-0.99" font-size="1.61">3</tspan></text>
<text x="328.6" y="857.0" font-size="2.6" class="nr" text-anchor="end" fill="#888">10<tspan dy="-0.99" font-size="1.61">4</tspan></text>
<text x="333.6" y="896.5" font-size="2.6" class="nr" text-anchor="middle" fill="#888">10<tspan dy="-0.99" font-size="1.61">0</tspan></text>
<text x="341.6" y="896.5" font-size="2.6" class="nr" text-anchor="middle" fill="#888">10<tspan dy="-0.99" font-size="1.61">1</tspan></text>
<text x="349.6" y="896.5" font-size="2.6" class="nr" text-anchor="middle" fill="#888">10<tspan dy="-0.99" font-size="1.61">2</tspan></text>
<text x="357.7" y="896.5" font-size="2.6" class="nr" text-anchor="middle" fill="#888">10<tspan dy="-0.99" font-size="1.61">3</tspan></text>
<text x="365.7" y="896.5" font-size="2.6" class="nr" text-anchor="middle" fill="#888">10<tspan dy="-0.99" font-size="1.61">4</tspan></text>
<path d="M329.4,889.0h1.2M329.4,880.8h1.2M329.4,872.5h1.2M329.4,864.2h1.2M329.4,856.0h1.2M333.6,892.0v1.2M341.6,892.0v1.2M349.6,892.0v1.2M357.7,892.0v1.2M365.7,892.0v1.2" stroke="#999" stroke-width="0.4" fill="none"/>
<ellipse cx="361.00" cy="878.00" rx="3.50" ry="8.00" fill="url(#g_Bl)" opacity="0.45"/>
<ellipse cx="358.50" cy="860.50" rx="7.00" ry="7.50" fill="url(#g_R)" opacity="0.85"/>
<path d="M716 1740h2M716 1714h2M727 1730h2M720 1725h2M714 1711h2M716 1717h2M706 1741h2M715 1714h2M716 1724h2M718 1732h2M716 1734h2M717 1722h2M719 1722h2M704 1716h2M713 1719h2M718 1729h2M704 1715h2M721 1714h2M720 1715h2M707 1715h2M713 1708h2M715 1715h2M725 1710h2M720 1715h2M711 1726h2M722 1713h2M707 1709h2M711 1728h2M710 1722h2M707 1720h2M726 1726h2M714 1725h2M721 1729h2M717 1724h2M715 1717h2M722 1713h2M703 1727h2M711 1736h2M714 1709h2M721 1712h2M709 1730h2M723 1733h2M731 1733h2M723 1718h2M711 1732h2M725 1718h2M708 1724h2" stroke="#ff3030" stroke-width="2" opacity="0.5" fill="none" transform="scale(.5)"/>
<ellipse cx="360.00" cy="867.00" rx="3.50" ry="4.00" fill="url(#g_R)"/>
<ellipse cx="361.00" cy="872.50" rx="3.00" ry="4.50" fill="url(#g_B)"/>
<rect x="283.00" y="905.00" width="38.00" height="38.00" fill="none" stroke="#999" stroke-width="0.6"/>
<text x="281.0" y="941.0" font-size="2.6" class="nr" text-anchor="end" fill="#888">10<tspan dy="-0.99" font-size="1.61">0</tspan></text>
<text x="281.0" y="933.0" font-size="2.6" class="nr" text-anchor="end" fill="#888">10<tspan dy="-0.99" font-size="1.61">1</tspan></text>
<text x="281.0" y="925.0" font-size="2.6" class="nr" text-anchor="end" fill="#888">10<tspan dy="-0.99" font-size="1.61">2</tspan></text>
<text x="281.0" y="917.0" font-size="2.6" class="nr" text-anchor="end" fill="#888">10<tspan dy="-0.99" font-size="1.61">3</tspan></text>
<text x="281.0" y="909.0" font-size="2.6" class="nr" text-anchor="end" fill="#888">10<tspan dy="-0.99" font-size="1.61">4</tspan></text>
<text x="286.0" y="947.5" font-size="2.6" class="nr" text-anchor="middle" fill="#888">10<tspan dy="-0.99" font-size="1.61">0</tspan></text>
<text x="294.0" y="947.5" font-size="2.6" class="nr" text-anchor="middle" fill="#888">10<tspan dy="-0.99" font-size="1.61">1</tspan></text>
<text x="302.0" y="947.5" font-size="2.6" class="nr" text-anchor="middle" fill="#888">10<tspan dy="-0.99" font-size="1.61">2</tspan></text>
<text x="310.0" y="947.5" font-size="2.6" class="nr" text-anchor="middle" fill="#888">10<tspan dy="-0.99" font-size="1.61">3</tspan></text>
<text x="318.0" y="947.5" font-size="2.6" class="nr" text-anchor="middle" fill="#888">10<tspan dy="-0.99" font-size="1.61">4</tspan></text>
<path d="M281.8,940.0h1.2M281.8,932.0h1.2M281.8,924.0h1.2M281.8,916.0h1.2M281.8,908.0h1.2M286.0,943.0v1.2M294.0,943.0v1.2M302.0,943.0v1.2M310.0,943.0v1.2M318.0,943.0v1.2" stroke="#999" stroke-width="0.4" fill="none"/>
<ellipse cx="292.50" cy="914.80" rx="5.00" ry="4.50" fill="url(#g_G)" opacity="0.7"/>
<path d="M593 1836h2M580 1823h2M586 1827h2M583 1837h2M588 1835h2M580 1829h2M591 1833h2M592 1835h2M587 1828h2M581 1824h2M581 1827h2M585 1841h2M585 1827h2M586 1834h2M582 1831h2M592 1825h2M583 1834h2M587 1833h2M585 1840h2M583 1829h2M589 1827h2M594 1831h2M585 1821h2M594 1837h2M589 1836h2" stroke="#40c040" stroke-width="2" opacity="0.5" fill="none" transform="scale(.5)"/>
<ellipse cx="307.30" cy="913.80" rx="7.50" ry="6.00" fill="url(#g_Bv)" opacity="0.85"/>
<path d="M627 1827h2M605 1834h2M603 1826h2M598 1821h2M615 1821h2M615 1818h2M614 1838h2M610 1826h2M605 1824h2M599 1826h2M609 1814h2M623 1839h2M615 1827h2M599 1834h2M611 1843h2M629 1832h2M626 1827h2M604 1827h2M609 1831h2M614 1821h2M612 1826h2M637 1827h2M612 1838h2M601 1824h2M620 1839h2M603 1829h2M613 1826h2M601 1827h2M620 1833h2M609 1827h2M616 1823h2M604 1829h2M622 1838h2M619 1828h2M616 1818h2M611 1814h2M610 1816h2M620 1843h2M613 1821h2M616 1823h2" stroke="#2020e0" stroke-width="2" opacity="0.5" fill="none" transform="scale(.5)"/>
<rect x="330.60" y="905.00" width="38.90" height="38.00" fill="none" stroke="#999" stroke-width="0.6"/>
<text x="328.6" y="941.0" font-size="2.6" class="nr" text-anchor="end" fill="#888">10<tspan dy="-0.99" font-size="1.61">0</tspan></text>
<text x="328.6" y="933.0" font-size="2.6" class="nr" text-anchor="end" fill="#888">10<tspan dy="-0.99" font-size="1.61">1</tspan></text>
<text x="328.6" y="925.0" font-size="2.6" class="nr" text-anchor="end" fill="#888">10<tspan dy="-0.99" font-size="1.61">2</tspan></text>
<text x="328.6" y="917.0" font-size="2.6" class="nr" text-anchor="end" fill="#888">10<tspan dy="-0.99" font-size="1.61">3</tspan></text>
<text x="328.6" y="909.0" font-size="2.6" class="nr" text-anchor="end" fill="#888">10<tspan dy="-0.99" font-size="1.61">4</tspan></text>
<text x="333.6" y="947.5" font-size="2.6" class="nr" text-anchor="middle" fill="#888">10<tspan dy="-0.99" font-size="1.61">0</tspan></text>
<text x="341.8" y="947.5" font-size="2.6" class="nr" text-anchor="middle" fill="#888">10<tspan dy="-0.99" font-size="1.61">1</tspan></text>
<text x="350.1" y="947.5" font-size="2.6" class="nr" text-anchor="middle" fill="#888">10<tspan dy="-0.99" font-size="1.61">2</tspan></text>
<text x="358.3" y="947.5" font-size="2.6" class="nr" text-anchor="middle" fill="#888">10<tspan dy="-0.99" font-size="1.61">3</tspan></text>
<text x="366.5" y="947.5" font-size="2.6" class="nr" text-anchor="middle" fill="#888">10<tspan dy="-0.99" font-size="1.61">4</tspan></text>
<path d="M329.4,940.0h1.2M329.4,932.0h1.2M329.4,924.0h1.2M329.4,916.0h1.2M329.4,908.0h1.2M333.6,943.0v1.2M341.8,943.0v1.2M350.1,943.0v1.2M358.3,943.0v1.2M366.5,943.0v1.2" stroke="#999" stroke-width="0.4" fill="none"/>
<ellipse cx="344.00" cy="908.50" rx="14.00" ry="2.20" fill="url(#g_Gl)" opacity="0.5"/>
<ellipse cx="361.00" cy="908.00" rx="3.00" ry="3.50" fill="url(#g_Rl)"/>
<ellipse cx="357.50" cy="917.00" rx="6.00" ry="4.80" fill="url(#g_R)" opacity="0.85"/>
<path d="M719 1827h2M724 1842h2M714 1828h2M717 1828h2M717 1833h2M724 1838h2M707 1834h2M711 1841h2M722 1834h2M716 1829h2M707 1835h2M718 1830h2M726 1837h2M726 1825h2M712 1837h2M719 1836h2M710 1832h2M706 1837h2M709 1835h2M721 1843h2M723 1835h2M700 1833h2M708 1839h2M703 1833h2M699 1832h2M712 1833h2M718 1833h2M721 1835h2M710 1828h2M723 1838h2" stroke="#ff3030" stroke-width="2" opacity="0.5" fill="none" transform="scale(.5)"/>
<ellipse cx="361.00" cy="919.50" rx="3.50" ry="3.50" fill="url(#g_B)"/>
<line x1="126.60" y1="954.00" x2="137.70" y2="954.00" stroke="#000" stroke-width="1.4"/>
<text x="152.2" y="956.6" font-size="7.5" class="sb" text-anchor="middle" textLength="16.7" lengthAdjust="spacingAndGlyphs">F4/80</text>
<line x1="169.00" y1="954.00" x2="351.00" y2="954.00" stroke="#000" stroke-width="1.4"/>
<path d="M355.00,954.00 L350.50,955.92 L350.50,952.08 Z" fill="#000"/>
<rect x="367.70" y="951.90" width="51.50" height="21.20" fill="none" stroke="#222" stroke-width="0.9"/>
<rect x="371.2" y="953" width="4.8" height="4.3" fill="#e8202a"/>
<rect x="371.2" y="960.8" width="4.8" height="4.3" fill="#1f4e9c"/>
<rect x="371.2" y="967.2" width="4.8" height="4.3" fill="#8cc850"/>
<text x="380.8" y="956.5" font-size="5.5" class="sr" textLength="30" lengthAdjust="spacingAndGlyphs">PKH<tspan dy="-2.09" font-size="3.41">+</tspan><tspan dy="2.09"> resMφs</tspan></text>
<text x="380.8" y="964.4" font-size="5.5" class="sr" textLength="30" lengthAdjust="spacingAndGlyphs">PKH<tspan dy="-2.09" font-size="3.41">-</tspan><tspan dy="2.09"> moMφs</tspan></text>
<text x="380.8" y="970.8" font-size="5.5" class="sr">moDCs</text>
<text x="65.8" y="982.5" font-size="11.5" class="nb">G</text>
<line x1="84.20" y1="991.90" x2="84.20" y2="1059.30" stroke="#000" stroke-width="1.1"/>
<line x1="84.20" y1="1059.30" x2="174.20" y2="1059.30" stroke="#000" stroke-width="1.1"/>
<line x1="82.70" y1="1059.30" x2="84.20" y2="1059.30" stroke="#000" stroke-width="0.8"/>
<text x="81.9" y="1061.2" font-size="5.6" class="sb" text-anchor="end">0.0</text>
<line x1="82.70" y1="1045.82" x2="84.20" y2="1045.82" stroke="#000" stroke-width="0.8"/>
<text x="81.9" y="1047.7" font-size="5.6" class="sb" text-anchor="end">0.5</text>
<line x1="82.70" y1="1032.34" x2="84.20" y2="1032.34" stroke="#000" stroke-width="0.8"/>
<text x="81.9" y="1034.2" font-size="5.6" class="sb" text-anchor="end">1.0</text>
<line x1="82.70" y1="1018.86" x2="84.20" y2="1018.86" stroke="#000" stroke-width="0.8"/>
<text x="81.9" y="1020.8" font-size="5.6" class="sb" text-anchor="end">1.5</text>
<line x1="82.70" y1="1005.38" x2="84.20" y2="1005.38" stroke="#000" stroke-width="0.8"/>
<text x="81.9" y="1007.3" font-size="5.6" class="sb" text-anchor="end">2.0</text>
<line x1="82.70" y1="991.90" x2="84.20" y2="991.90" stroke="#000" stroke-width="0.8"/>
<text x="81.9" y="993.8" font-size="5.6" class="sb" text-anchor="end">2.5</text>
<polyline points="84.2,1035.3 98.8,1046.9 126.5,1038.8 144.9,1023.7 168.0,1012.1" fill="none" stroke="#000" stroke-width="1.15"/>
<line x1="84.20" y1="1032.61" x2="84.20" y2="1038.00" stroke="#000" stroke-width="1.1"/>
<line x1="83.00" y1="1032.61" x2="85.40" y2="1032.61" stroke="#000" stroke-width="0.7"/>
<line x1="83.00" y1="1038.00" x2="85.40" y2="1038.00" stroke="#000" stroke-width="0.7"/>
<line x1="98.80" y1="1043.93" x2="98.80" y2="1049.86" stroke="#000" stroke-width="1.1"/>
<line x1="97.60" y1="1043.93" x2="100.00" y2="1043.93" stroke="#000" stroke-width="0.7"/>
<line x1="97.60" y1="1049.86" x2="100.00" y2="1049.86" stroke="#000" stroke-width="0.7"/>
<line x1="126.50" y1="1038.27" x2="126.50" y2="1039.35" stroke="#000" stroke-width="1.1"/>
<line x1="125.30" y1="1038.27" x2="127.70" y2="1038.27" stroke="#000" stroke-width="0.7"/>
<line x1="125.30" y1="1039.35" x2="127.70" y2="1039.35" stroke="#000" stroke-width="0.7"/>
<line x1="144.90" y1="1011.04" x2="144.90" y2="1036.38" stroke="#000" stroke-width="1.1"/>
<line x1="143.70" y1="1011.04" x2="146.10" y2="1011.04" stroke="#000" stroke-width="0.7"/>
<line x1="143.70" y1="1036.38" x2="146.10" y2="1036.38" stroke="#000" stroke-width="0.7"/>
<line x1="168.00" y1="999.99" x2="168.00" y2="1024.25" stroke="#000" stroke-width="1.1"/>
<line x1="166.80" y1="999.99" x2="169.20" y2="999.99" stroke="#000" stroke-width="0.7"/>
<line x1="166.80" y1="1024.25" x2="169.20" y2="1024.25" stroke="#000" stroke-width="0.7"/>
<text x="93.0" y="1065.8" font-size="5.6" class="sb" text-anchor="middle">Day 3</text>
<text x="114.0" y="1065.8" font-size="5.6" class="sb" text-anchor="middle">Day 9</text>
<text x="138.3" y="1065.8" font-size="5.6" class="sb" text-anchor="middle">Day 13</text>
<text x="164.0" y="1065.8" font-size="5.6" class="sb" text-anchor="middle">Day 17</text>
<text x="71.5" y="1025.6" font-size="5.5" class="sb" text-anchor="middle" textLength="35" lengthAdjust="spacingAndGlyphs" transform="rotate(-90 71.5 1025.6)">resMφ (1x10<tspan dy="-2.09" font-size="3.41">6</tspan><tspan dy="2.09">)</tspan></text>
<line x1="206.50" y1="991.30" x2="206.50" y2="1058.50" stroke="#000" stroke-width="1.1"/>
<line x1="206.50" y1="1058.50" x2="294.00" y2="1058.50" stroke="#000" stroke-width="1.1"/>
<line x1="205.00" y1="1058.50" x2="206.50" y2="1058.50" stroke="#000" stroke-width="0.8"/>
<text x="204.2" y="1060.4" font-size="5.6" class="sb" text-anchor="end">0.0</text>
<line x1="205.00" y1="1041.70" x2="206.50" y2="1041.70" stroke="#000" stroke-width="0.8"/>
<text x="204.2" y="1043.6" font-size="5.6" class="sb" text-anchor="end">0.1</text>
<line x1="205.00" y1="1024.90" x2="206.50" y2="1024.90" stroke="#000" stroke-width="0.8"/>
<text x="204.2" y="1026.8" font-size="5.6" class="sb" text-anchor="end">0.2</text>
<line x1="205.00" y1="1008.10" x2="206.50" y2="1008.10" stroke="#000" stroke-width="0.8"/>
<text x="204.2" y="1010.0" font-size="5.6" class="sb" text-anchor="end">0.3</text>
<line x1="205.00" y1="991.30" x2="206.50" y2="991.30" stroke="#000" stroke-width="0.8"/>
<text x="204.2" y="993.2" font-size="5.6" class="sb" text-anchor="end">0.4</text>
<polyline points="206.5,1037.5 221.0,1014.8 247.8,1044.2 266.5,1032.5 289.6,1024.9" fill="none" stroke="#000" stroke-width="1.15"/>
<line x1="221.00" y1="1009.11" x2="221.00" y2="1020.53" stroke="#000" stroke-width="1.1"/>
<line x1="219.80" y1="1009.11" x2="222.20" y2="1009.11" stroke="#000" stroke-width="0.7"/>
<line x1="219.80" y1="1020.53" x2="222.20" y2="1020.53" stroke="#000" stroke-width="0.7"/>
<line x1="247.80" y1="1040.86" x2="247.80" y2="1047.58" stroke="#000" stroke-width="1.1"/>
<line x1="246.60" y1="1040.86" x2="249.00" y2="1040.86" stroke="#000" stroke-width="0.7"/>
<line x1="246.60" y1="1047.58" x2="249.00" y2="1047.58" stroke="#000" stroke-width="0.7"/>
<line x1="266.50" y1="1023.39" x2="266.50" y2="1041.53" stroke="#000" stroke-width="1.1"/>
<line x1="265.30" y1="1023.39" x2="267.70" y2="1023.39" stroke="#000" stroke-width="0.7"/>
<line x1="265.30" y1="1041.53" x2="267.70" y2="1041.53" stroke="#000" stroke-width="0.7"/>
<line x1="289.60" y1="1021.20" x2="289.60" y2="1028.60" stroke="#000" stroke-width="1.1"/>
<line x1="288.40" y1="1021.20" x2="290.80" y2="1021.20" stroke="#000" stroke-width="0.7"/>
<line x1="288.40" y1="1028.60" x2="290.80" y2="1028.60" stroke="#000" stroke-width="0.7"/>
<polyline points="221.0,1048.4 247.8,1052.6 266.5,1050.9 289.6,1051.8" fill="none" stroke="#000" stroke-width="1.1" stroke-dasharray="1.8,1.2"/>
<line x1="221.00" y1="1046.40" x2="221.00" y2="1050.44" stroke="#000" stroke-width="1.1"/>
<line x1="219.80" y1="1046.40" x2="222.20" y2="1046.40" stroke="#000" stroke-width="0.7"/>
<line x1="219.80" y1="1050.44" x2="222.20" y2="1050.44" stroke="#000" stroke-width="0.7"/>
<line x1="247.80" y1="1050.60" x2="247.80" y2="1054.64" stroke="#000" stroke-width="1.1"/>
<line x1="246.60" y1="1050.60" x2="249.00" y2="1050.60" stroke="#000" stroke-width="0.7"/>
<line x1="246.60" y1="1054.64" x2="249.00" y2="1054.64" stroke="#000" stroke-width="0.7"/>
<line x1="266.50" y1="1048.92" x2="266.50" y2="1052.96" stroke="#000" stroke-width="1.1"/>
<line x1="265.30" y1="1048.92" x2="267.70" y2="1048.92" stroke="#000" stroke-width="0.7"/>
<line x1="265.30" y1="1052.96" x2="267.70" y2="1052.96" stroke="#000" stroke-width="0.7"/>
<line x1="289.60" y1="1050.10" x2="289.60" y2="1053.46" stroke="#000" stroke-width="1.1"/>
<line x1="288.40" y1="1050.10" x2="290.80" y2="1050.10" stroke="#000" stroke-width="0.7"/>
<line x1="288.40" y1="1053.46" x2="290.80" y2="1053.46" stroke="#000" stroke-width="0.7"/>
<text x="221.8" y="1065.8" font-size="5.6" class="sb" text-anchor="middle">Day 3</text>
<text x="242.0" y="1065.8" font-size="5.6" class="sb" text-anchor="middle">Day 9</text>
<text x="263.6" y="1065.8" font-size="5.6" class="sb" text-anchor="middle">Day 13</text>
<text x="291.0" y="1065.8" font-size="5.6" class="sb" text-anchor="middle">Day 17</text>
<text x="194.5" y="1024.9" font-size="5.5" class="sb" text-anchor="middle" textLength="35" lengthAdjust="spacingAndGlyphs" transform="rotate(-90 194.5 1024.9)">moDC (1x10<tspan dy="-2.09" font-size="3.41">6</tspan><tspan dy="2.09">)</tspan></text>
<line x1="259.80" y1="991.00" x2="272.50" y2="991.00" stroke="#000" stroke-width="1.8"/>
<text x="274.2" y="993.8" font-size="7" class="sb">WT</text>
<line x1="259.80" y1="1000.80" x2="272.50" y2="1000.80" stroke="#000" stroke-width="1.5" stroke-dasharray="2.6,1.6"/>
<text x="274.2" y="1002.9" font-size="7" class="sbi">ccr2<tspan dy="-2.66" font-size="4.34">-/-</tspan></text>
<line x1="323.10" y1="992.20" x2="323.10" y2="1059.40" stroke="#000" stroke-width="1.1"/>
<line x1="323.10" y1="1059.40" x2="411.00" y2="1059.40" stroke="#000" stroke-width="1.1"/>
<line x1="321.60" y1="1059.40" x2="323.10" y2="1059.40" stroke="#000" stroke-width="0.8"/>
<text x="320.8" y="1061.3" font-size="5.6" class="sb" text-anchor="end">0.0</text>
<line x1="321.60" y1="1037.00" x2="323.10" y2="1037.00" stroke="#000" stroke-width="0.8"/>
<text x="320.8" y="1038.9" font-size="5.6" class="sb" text-anchor="end">0.5</text>
<line x1="321.60" y1="1014.60" x2="323.10" y2="1014.60" stroke="#000" stroke-width="0.8"/>
<text x="320.8" y="1016.5" font-size="5.6" class="sb" text-anchor="end">1.0</text>
<line x1="321.60" y1="992.20" x2="323.10" y2="992.20" stroke="#000" stroke-width="0.8"/>
<text x="320.8" y="994.1" font-size="5.6" class="sb" text-anchor="end">1.5</text>
<polyline points="323.1,1051.3 337.5,1020.4 365.8,1028.5 383.6,1020.4 407.3,1032.5" fill="none" stroke="#000" stroke-width="1.15"/>
<line x1="323.10" y1="1049.99" x2="323.10" y2="1052.68" stroke="#000" stroke-width="1.1"/>
<line x1="321.90" y1="1049.99" x2="324.30" y2="1049.99" stroke="#000" stroke-width="0.7"/>
<line x1="321.90" y1="1052.68" x2="324.30" y2="1052.68" stroke="#000" stroke-width="0.7"/>
<line x1="337.50" y1="1011.46" x2="337.50" y2="1029.38" stroke="#000" stroke-width="1.1"/>
<line x1="336.30" y1="1011.46" x2="338.70" y2="1011.46" stroke="#000" stroke-width="0.7"/>
<line x1="336.30" y1="1029.38" x2="338.70" y2="1029.38" stroke="#000" stroke-width="0.7"/>
<line x1="365.80" y1="1024.01" x2="365.80" y2="1032.97" stroke="#000" stroke-width="1.1"/>
<line x1="364.60" y1="1024.01" x2="367.00" y2="1024.01" stroke="#000" stroke-width="0.7"/>
<line x1="364.60" y1="1032.97" x2="367.00" y2="1032.97" stroke="#000" stroke-width="0.7"/>
<line x1="383.60" y1="1012.36" x2="383.60" y2="1028.49" stroke="#000" stroke-width="1.1"/>
<line x1="382.40" y1="1012.36" x2="384.80" y2="1012.36" stroke="#000" stroke-width="0.7"/>
<line x1="382.40" y1="1028.49" x2="384.80" y2="1028.49" stroke="#000" stroke-width="0.7"/>
<line x1="407.30" y1="1021.32" x2="407.30" y2="1043.72" stroke="#000" stroke-width="1.1"/>
<line x1="406.10" y1="1021.32" x2="408.50" y2="1021.32" stroke="#000" stroke-width="0.7"/>
<line x1="406.10" y1="1043.72" x2="408.50" y2="1043.72" stroke="#000" stroke-width="0.7"/>
<polyline points="337.5,1050.0 365.8,1052.2 383.6,1051.8 407.3,1050.9" fill="none" stroke="#000" stroke-width="1.1" stroke-dasharray="1.8,1.2"/>
<line x1="337.50" y1="1048.20" x2="337.50" y2="1051.78" stroke="#000" stroke-width="1.1"/>
<line x1="336.30" y1="1048.20" x2="338.70" y2="1048.20" stroke="#000" stroke-width="0.7"/>
<line x1="336.30" y1="1051.78" x2="338.70" y2="1051.78" stroke="#000" stroke-width="0.7"/>
<line x1="365.80" y1="1049.54" x2="365.80" y2="1054.92" stroke="#000" stroke-width="1.1"/>
<line x1="364.60" y1="1049.54" x2="367.00" y2="1049.54" stroke="#000" stroke-width="0.7"/>
<line x1="364.60" y1="1054.92" x2="367.00" y2="1054.92" stroke="#000" stroke-width="0.7"/>
<line x1="383.60" y1="1049.99" x2="383.60" y2="1053.58" stroke="#000" stroke-width="1.1"/>
<line x1="382.40" y1="1049.99" x2="384.80" y2="1049.99" stroke="#000" stroke-width="0.7"/>
<line x1="382.40" y1="1053.58" x2="384.80" y2="1053.58" stroke="#000" stroke-width="0.7"/>
<line x1="407.30" y1="1049.10" x2="407.30" y2="1052.68" stroke="#000" stroke-width="1.1"/>
<line x1="406.10" y1="1049.10" x2="408.50" y2="1049.10" stroke="#000" stroke-width="0.7"/>
<line x1="406.10" y1="1052.68" x2="408.50" y2="1052.68" stroke="#000" stroke-width="0.7"/>
<text x="341.8" y="1065.8" font-size="5.6" class="sb" text-anchor="middle">Day 3</text>
<text x="366.3" y="1065.8" font-size="5.6" class="sb" text-anchor="middle">Day 9</text>
<text x="384.2" y="1065.8" font-size="5.6" class="sb" text-anchor="middle">Day 13</text>
<text x="406.1" y="1065.8" font-size="5.6" class="sb" text-anchor="middle">Day 17</text>
<text x="310.0" y="1025.8" font-size="5.5" class="sb" text-anchor="middle" textLength="35" lengthAdjust="spacingAndGlyphs" transform="rotate(-90 310.0 1025.8)">moMφ (1x10<tspan dy="-2.09" font-size="3.41">6</tspan><tspan dy="2.09">)</tspan></text>
<line x1="377.00" y1="991.00" x2="389.70" y2="991.00" stroke="#000" stroke-width="1.8"/>
<text x="391.4" y="993.8" font-size="7" class="sb">WT</text>
<line x1="377.00" y1="1000.80" x2="389.70" y2="1000.80" stroke="#000" stroke-width="1.5" stroke-dasharray="2.6,1.6"/>
<text x="391.4" y="1002.9" font-size="7" class="sbi">ccr2<tspan dy="-2.66" font-size="4.34">-/-</tspan></text>
</svg>
</body></html>
